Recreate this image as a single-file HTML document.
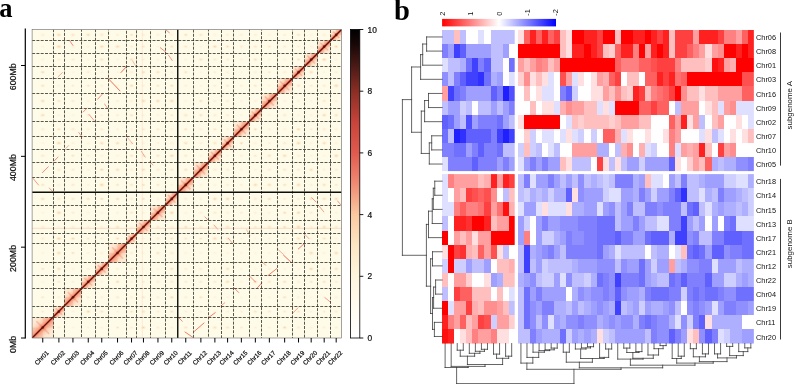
<!DOCTYPE html><html><head><meta charset="utf-8"><title>figure</title><style>html,body{margin:0;padding:0;background:#fff}svg{display:block;will-change:transform;transform:translateZ(0)}text{font-family:"Liberation Sans",sans-serif;fill:#111}.pa text{stroke:#111;stroke-width:0.22px}.ser{font-family:"Liberation Serif",serif;font-weight:bold;fill:#000;stroke:none}</style></head><body>
<svg width="795" height="384" viewBox="0 0 795 384">
<rect width="795" height="384" fill="#fff"/>
<g opacity="0.999">
<g class="pa">
<defs>
<linearGradient id="dg" x1="0" y1="0" x2="1" y2="1"><stop offset="0" stop-color="#f9c9a8" stop-opacity="0"/><stop offset="0.22" stop-color="#f7b090" stop-opacity="0.12"/><stop offset="0.36" stop-color="#f59a7a" stop-opacity="0.4"/><stop offset="0.45" stop-color="#f08062" stop-opacity="0.65"/><stop offset="0.5" stop-color="#e8604a" stop-opacity="0.85"/><stop offset="0.55" stop-color="#f08062" stop-opacity="0.65"/><stop offset="0.64" stop-color="#f59a7a" stop-opacity="0.4"/><stop offset="0.78" stop-color="#f7b090" stop-opacity="0.12"/><stop offset="1" stop-color="#f9c9a8" stop-opacity="0"/></linearGradient>
<radialGradient id="rg"><stop offset="0" stop-color="#e55b43" stop-opacity="0.75"/><stop offset="0.5" stop-color="#f28a6a" stop-opacity="0.4"/><stop offset="1" stop-color="#f9b999" stop-opacity="0"/></radialGradient>
<radialGradient id="dot"><stop offset="0" stop-color="#f7a468" stop-opacity="0.8"/><stop offset="0.45" stop-color="#fbc98a" stop-opacity="0.45"/><stop offset="1" stop-color="#fde0a8" stop-opacity="0"/></radialGradient>
<linearGradient id="cb" x1="0" y1="0" x2="0" y2="1">
<stop offset="0" stop-color="#000000"/>
<stop offset="0.05" stop-color="#1a0808"/>
<stop offset="0.1" stop-color="#3d1512"/>
<stop offset="0.2" stop-color="#8a2e25"/>
<stop offset="0.3" stop-color="#c8433a"/>
<stop offset="0.4" stop-color="#e25a4e"/>
<stop offset="0.5" stop-color="#f08a73"/>
<stop offset="0.6" stop-color="#fbc8a0"/>
<stop offset="0.7" stop-color="#fde6c4"/>
<stop offset="0.8" stop-color="#fef5dd"/>
<stop offset="0.9" stop-color="#fffbef"/>
<stop offset="1" stop-color="#ffffff"/>
</linearGradient>
<linearGradient id="lg" x1="0" y1="0" x2="1" y2="0"><stop offset="0" stop-color="#ff0000"/><stop offset="0.5" stop-color="#ffffff"/><stop offset="1" stop-color="#0000ff"/></linearGradient>
<clipPath id="ca"><rect x="32.1" y="29.5" width="309.5" height="308.5"/></clipPath>
</defs>
<rect x="32.1" y="29.5" width="309.5" height="308.5" fill="#fffbe9"/>
<g clip-path="url(#ca)">
<ellipse cx="42.75" cy="311.60" rx="2.86" ry="2.04" fill="url(#dot)" opacity="0.32"/>
<ellipse cx="42.75" cy="297.25" rx="2.97" ry="2.12" fill="url(#dot)" opacity="0.36"/>
<ellipse cx="42.75" cy="281.82" rx="3.19" ry="2.28" fill="url(#dot)" opacity="0.16"/>
<ellipse cx="42.75" cy="268.88" rx="2.67" ry="1.91" fill="url(#dot)" opacity="0.55"/>
<ellipse cx="42.75" cy="253.00" rx="2.88" ry="2.06" fill="url(#dot)" opacity="0.19"/>
<ellipse cx="42.75" cy="238.62" rx="3.50" ry="2.50" fill="url(#dot)" opacity="0.28"/>
<ellipse cx="42.75" cy="226.93" rx="3.36" ry="2.40" fill="url(#dot)" opacity="0.28"/>
<ellipse cx="42.75" cy="212.75" rx="3.20" ry="2.28" fill="url(#dot)" opacity="0.17"/>
<ellipse cx="42.75" cy="198.90" rx="3.19" ry="2.28" fill="url(#dot)" opacity="0.57"/>
<ellipse cx="42.75" cy="184.90" rx="3.10" ry="2.21" fill="url(#dot)" opacity="0.46"/>
<ellipse cx="42.75" cy="169.75" rx="3.22" ry="2.30" fill="url(#dot)" opacity="0.16"/>
<ellipse cx="42.75" cy="155.75" rx="3.30" ry="2.35" fill="url(#dot)" opacity="0.35"/>
<ellipse cx="42.75" cy="143.15" rx="2.91" ry="2.08" fill="url(#dot)" opacity="0.16"/>
<ellipse cx="42.75" cy="129.25" rx="3.39" ry="2.42" fill="url(#dot)" opacity="0.28"/>
<ellipse cx="42.75" cy="115.17" rx="3.26" ry="2.33" fill="url(#dot)" opacity="0.58"/>
<ellipse cx="42.75" cy="101.00" rx="3.26" ry="2.33" fill="url(#dot)" opacity="0.63"/>
<ellipse cx="42.75" cy="85.75" rx="2.99" ry="2.14" fill="url(#dot)" opacity="0.51"/>
<ellipse cx="42.75" cy="72.17" rx="3.03" ry="2.17" fill="url(#dot)" opacity="0.64"/>
<ellipse cx="42.75" cy="59.55" rx="3.40" ry="2.43" fill="url(#dot)" opacity="0.17"/>
<ellipse cx="42.75" cy="46.62" rx="2.77" ry="1.98" fill="url(#dot)" opacity="0.19"/>
<ellipse cx="42.75" cy="34.88" rx="3.47" ry="2.48" fill="url(#dot)" opacity="0.26"/>
<ellipse cx="58.90" cy="327.55" rx="3.19" ry="2.28" fill="url(#dot)" opacity="0.21"/>
<ellipse cx="58.90" cy="297.25" rx="3.09" ry="2.20" fill="url(#dot)" opacity="0.24"/>
<ellipse cx="58.90" cy="281.82" rx="2.95" ry="2.11" fill="url(#dot)" opacity="0.35"/>
<ellipse cx="58.90" cy="268.88" rx="3.15" ry="2.25" fill="url(#dot)" opacity="0.61"/>
<ellipse cx="58.90" cy="253.00" rx="3.23" ry="2.31" fill="url(#dot)" opacity="0.63"/>
<ellipse cx="58.90" cy="238.62" rx="3.38" ry="2.41" fill="url(#dot)" opacity="0.70"/>
<ellipse cx="58.90" cy="226.93" rx="3.22" ry="2.30" fill="url(#dot)" opacity="0.17"/>
<ellipse cx="58.90" cy="212.75" rx="3.38" ry="2.42" fill="url(#dot)" opacity="0.67"/>
<ellipse cx="58.90" cy="198.90" rx="3.42" ry="2.44" fill="url(#dot)" opacity="0.34"/>
<ellipse cx="58.90" cy="184.90" rx="3.26" ry="2.33" fill="url(#dot)" opacity="0.18"/>
<ellipse cx="58.90" cy="169.75" rx="3.36" ry="2.40" fill="url(#dot)" opacity="0.34"/>
<ellipse cx="58.90" cy="155.75" rx="2.90" ry="2.07" fill="url(#dot)" opacity="0.16"/>
<ellipse cx="58.90" cy="143.15" rx="3.38" ry="2.41" fill="url(#dot)" opacity="0.70"/>
<ellipse cx="58.90" cy="129.25" rx="2.73" ry="1.95" fill="url(#dot)" opacity="0.51"/>
<ellipse cx="58.90" cy="115.17" rx="3.00" ry="2.15" fill="url(#dot)" opacity="0.17"/>
<ellipse cx="58.90" cy="101.00" rx="2.91" ry="2.08" fill="url(#dot)" opacity="0.49"/>
<ellipse cx="58.90" cy="85.75" rx="3.39" ry="2.42" fill="url(#dot)" opacity="0.16"/>
<ellipse cx="58.90" cy="72.17" rx="3.18" ry="2.27" fill="url(#dot)" opacity="0.16"/>
<ellipse cx="58.90" cy="59.55" rx="3.26" ry="2.33" fill="url(#dot)" opacity="0.22"/>
<ellipse cx="58.90" cy="46.62" rx="3.40" ry="2.43" fill="url(#dot)" opacity="0.69"/>
<ellipse cx="58.90" cy="34.88" rx="3.08" ry="2.20" fill="url(#dot)" opacity="0.71"/>
<ellipse cx="72.95" cy="327.55" rx="2.92" ry="2.09" fill="url(#dot)" opacity="0.16"/>
<ellipse cx="72.95" cy="311.60" rx="3.16" ry="2.26" fill="url(#dot)" opacity="0.16"/>
<ellipse cx="72.95" cy="281.82" rx="2.83" ry="2.02" fill="url(#dot)" opacity="0.25"/>
<ellipse cx="72.95" cy="268.88" rx="3.17" ry="2.27" fill="url(#dot)" opacity="0.17"/>
<ellipse cx="72.95" cy="253.00" rx="2.70" ry="1.93" fill="url(#dot)" opacity="0.57"/>
<ellipse cx="72.95" cy="238.62" rx="2.92" ry="2.09" fill="url(#dot)" opacity="0.67"/>
<ellipse cx="72.95" cy="226.93" rx="3.41" ry="2.44" fill="url(#dot)" opacity="0.24"/>
<ellipse cx="72.95" cy="212.75" rx="3.05" ry="2.18" fill="url(#dot)" opacity="0.31"/>
<ellipse cx="72.95" cy="198.90" rx="3.20" ry="2.29" fill="url(#dot)" opacity="0.36"/>
<ellipse cx="72.95" cy="184.90" rx="3.13" ry="2.24" fill="url(#dot)" opacity="0.37"/>
<ellipse cx="72.95" cy="169.75" rx="3.45" ry="2.46" fill="url(#dot)" opacity="0.30"/>
<ellipse cx="72.95" cy="155.75" rx="3.02" ry="2.16" fill="url(#dot)" opacity="0.45"/>
<ellipse cx="72.95" cy="143.15" rx="2.86" ry="2.04" fill="url(#dot)" opacity="0.21"/>
<ellipse cx="72.95" cy="129.25" rx="3.48" ry="2.49" fill="url(#dot)" opacity="0.31"/>
<ellipse cx="72.95" cy="115.17" rx="3.12" ry="2.23" fill="url(#dot)" opacity="0.16"/>
<ellipse cx="72.95" cy="101.00" rx="3.01" ry="2.15" fill="url(#dot)" opacity="0.34"/>
<ellipse cx="72.95" cy="85.75" rx="2.68" ry="1.91" fill="url(#dot)" opacity="0.37"/>
<ellipse cx="72.95" cy="72.17" rx="3.19" ry="2.28" fill="url(#dot)" opacity="0.16"/>
<ellipse cx="72.95" cy="59.55" rx="3.19" ry="2.28" fill="url(#dot)" opacity="0.28"/>
<ellipse cx="72.95" cy="46.62" rx="3.23" ry="2.31" fill="url(#dot)" opacity="0.23"/>
<ellipse cx="72.95" cy="34.88" rx="3.25" ry="2.32" fill="url(#dot)" opacity="0.46"/>
<ellipse cx="88.25" cy="327.55" rx="2.68" ry="1.91" fill="url(#dot)" opacity="0.16"/>
<ellipse cx="88.25" cy="311.60" rx="3.23" ry="2.31" fill="url(#dot)" opacity="0.67"/>
<ellipse cx="88.25" cy="297.25" rx="2.87" ry="2.05" fill="url(#dot)" opacity="0.27"/>
<ellipse cx="88.25" cy="268.88" rx="3.16" ry="2.26" fill="url(#dot)" opacity="0.22"/>
<ellipse cx="88.25" cy="253.00" rx="2.97" ry="2.12" fill="url(#dot)" opacity="0.21"/>
<ellipse cx="88.25" cy="238.62" rx="2.97" ry="2.12" fill="url(#dot)" opacity="0.36"/>
<ellipse cx="88.25" cy="226.93" rx="2.91" ry="2.08" fill="url(#dot)" opacity="0.24"/>
<ellipse cx="88.25" cy="212.75" rx="3.31" ry="2.36" fill="url(#dot)" opacity="0.16"/>
<ellipse cx="88.25" cy="198.90" rx="3.14" ry="2.24" fill="url(#dot)" opacity="0.46"/>
<ellipse cx="88.25" cy="184.90" rx="2.92" ry="2.09" fill="url(#dot)" opacity="0.19"/>
<ellipse cx="88.25" cy="169.75" rx="3.34" ry="2.38" fill="url(#dot)" opacity="0.19"/>
<ellipse cx="88.25" cy="155.75" rx="2.82" ry="2.01" fill="url(#dot)" opacity="0.26"/>
<ellipse cx="88.25" cy="143.15" rx="3.25" ry="2.32" fill="url(#dot)" opacity="0.17"/>
<ellipse cx="88.25" cy="129.25" rx="2.93" ry="2.09" fill="url(#dot)" opacity="0.22"/>
<ellipse cx="88.25" cy="115.17" rx="3.36" ry="2.40" fill="url(#dot)" opacity="0.27"/>
<ellipse cx="88.25" cy="101.00" rx="3.38" ry="2.41" fill="url(#dot)" opacity="0.18"/>
<ellipse cx="88.25" cy="85.75" rx="2.94" ry="2.10" fill="url(#dot)" opacity="0.39"/>
<ellipse cx="88.25" cy="72.17" rx="3.40" ry="2.43" fill="url(#dot)" opacity="0.27"/>
<ellipse cx="88.25" cy="59.55" rx="2.85" ry="2.04" fill="url(#dot)" opacity="0.17"/>
<ellipse cx="88.25" cy="46.62" rx="3.10" ry="2.22" fill="url(#dot)" opacity="0.18"/>
<ellipse cx="88.25" cy="34.88" rx="3.34" ry="2.38" fill="url(#dot)" opacity="0.55"/>
<ellipse cx="101.75" cy="327.55" rx="2.81" ry="2.01" fill="url(#dot)" opacity="0.20"/>
<ellipse cx="101.75" cy="311.60" rx="3.34" ry="2.38" fill="url(#dot)" opacity="0.39"/>
<ellipse cx="101.75" cy="297.25" rx="3.34" ry="2.38" fill="url(#dot)" opacity="0.23"/>
<ellipse cx="101.75" cy="281.82" rx="2.77" ry="1.98" fill="url(#dot)" opacity="0.21"/>
<ellipse cx="101.75" cy="253.00" rx="3.33" ry="2.38" fill="url(#dot)" opacity="0.20"/>
<ellipse cx="101.75" cy="238.62" rx="2.95" ry="2.11" fill="url(#dot)" opacity="0.26"/>
<ellipse cx="101.75" cy="226.93" rx="3.01" ry="2.15" fill="url(#dot)" opacity="0.25"/>
<ellipse cx="101.75" cy="212.75" rx="3.43" ry="2.45" fill="url(#dot)" opacity="0.17"/>
<ellipse cx="101.75" cy="198.90" rx="2.66" ry="1.90" fill="url(#dot)" opacity="0.65"/>
<ellipse cx="101.75" cy="184.90" rx="3.40" ry="2.43" fill="url(#dot)" opacity="0.70"/>
<ellipse cx="101.75" cy="169.75" rx="3.02" ry="2.16" fill="url(#dot)" opacity="0.66"/>
<ellipse cx="101.75" cy="155.75" rx="3.44" ry="2.46" fill="url(#dot)" opacity="0.19"/>
<ellipse cx="101.75" cy="143.15" rx="3.29" ry="2.35" fill="url(#dot)" opacity="0.55"/>
<ellipse cx="101.75" cy="129.25" rx="3.22" ry="2.30" fill="url(#dot)" opacity="0.31"/>
<ellipse cx="101.75" cy="115.17" rx="2.90" ry="2.07" fill="url(#dot)" opacity="0.22"/>
<ellipse cx="101.75" cy="101.00" rx="2.85" ry="2.04" fill="url(#dot)" opacity="0.16"/>
<ellipse cx="101.75" cy="85.75" rx="3.15" ry="2.25" fill="url(#dot)" opacity="0.21"/>
<ellipse cx="101.75" cy="72.17" rx="3.34" ry="2.39" fill="url(#dot)" opacity="0.16"/>
<ellipse cx="101.75" cy="59.55" rx="3.42" ry="2.44" fill="url(#dot)" opacity="0.42"/>
<ellipse cx="101.75" cy="46.62" rx="3.44" ry="2.45" fill="url(#dot)" opacity="0.60"/>
<ellipse cx="101.75" cy="34.88" rx="3.42" ry="2.44" fill="url(#dot)" opacity="0.34"/>
<ellipse cx="117.55" cy="327.55" rx="2.67" ry="1.91" fill="url(#dot)" opacity="0.47"/>
<ellipse cx="117.55" cy="311.60" rx="2.80" ry="2.00" fill="url(#dot)" opacity="0.21"/>
<ellipse cx="117.55" cy="297.25" rx="3.22" ry="2.30" fill="url(#dot)" opacity="0.31"/>
<ellipse cx="117.55" cy="281.82" rx="3.01" ry="2.15" fill="url(#dot)" opacity="0.64"/>
<ellipse cx="117.55" cy="268.88" rx="3.17" ry="2.27" fill="url(#dot)" opacity="0.22"/>
<ellipse cx="117.55" cy="238.62" rx="2.87" ry="2.05" fill="url(#dot)" opacity="0.57"/>
<ellipse cx="117.55" cy="226.93" rx="3.06" ry="2.19" fill="url(#dot)" opacity="0.50"/>
<ellipse cx="117.55" cy="212.75" rx="2.96" ry="2.11" fill="url(#dot)" opacity="0.18"/>
<ellipse cx="117.55" cy="198.90" rx="3.11" ry="2.22" fill="url(#dot)" opacity="0.53"/>
<ellipse cx="117.55" cy="184.90" rx="2.80" ry="2.00" fill="url(#dot)" opacity="0.50"/>
<ellipse cx="117.55" cy="169.75" rx="3.43" ry="2.45" fill="url(#dot)" opacity="0.52"/>
<ellipse cx="117.55" cy="155.75" rx="3.35" ry="2.39" fill="url(#dot)" opacity="0.16"/>
<ellipse cx="117.55" cy="143.15" rx="3.19" ry="2.28" fill="url(#dot)" opacity="0.57"/>
<ellipse cx="117.55" cy="129.25" rx="2.70" ry="1.93" fill="url(#dot)" opacity="0.20"/>
<ellipse cx="117.55" cy="115.17" rx="2.89" ry="2.06" fill="url(#dot)" opacity="0.31"/>
<ellipse cx="117.55" cy="101.00" rx="3.02" ry="2.15" fill="url(#dot)" opacity="0.28"/>
<ellipse cx="117.55" cy="85.75" rx="3.31" ry="2.37" fill="url(#dot)" opacity="0.16"/>
<ellipse cx="117.55" cy="72.17" rx="2.71" ry="1.93" fill="url(#dot)" opacity="0.17"/>
<ellipse cx="117.55" cy="59.55" rx="2.76" ry="1.97" fill="url(#dot)" opacity="0.16"/>
<ellipse cx="117.55" cy="46.62" rx="3.48" ry="2.48" fill="url(#dot)" opacity="0.56"/>
<ellipse cx="117.55" cy="34.88" rx="2.73" ry="1.95" fill="url(#dot)" opacity="0.30"/>
<ellipse cx="131.55" cy="327.55" rx="2.93" ry="2.09" fill="url(#dot)" opacity="0.21"/>
<ellipse cx="131.55" cy="311.60" rx="2.96" ry="2.11" fill="url(#dot)" opacity="0.39"/>
<ellipse cx="131.55" cy="297.25" rx="3.15" ry="2.25" fill="url(#dot)" opacity="0.23"/>
<ellipse cx="131.55" cy="281.82" rx="2.82" ry="2.01" fill="url(#dot)" opacity="0.22"/>
<ellipse cx="131.55" cy="268.88" rx="2.76" ry="1.97" fill="url(#dot)" opacity="0.33"/>
<ellipse cx="131.55" cy="253.00" rx="3.26" ry="2.33" fill="url(#dot)" opacity="0.24"/>
<ellipse cx="131.55" cy="226.93" rx="2.73" ry="1.95" fill="url(#dot)" opacity="0.18"/>
<ellipse cx="131.55" cy="212.75" rx="2.97" ry="2.12" fill="url(#dot)" opacity="0.36"/>
<ellipse cx="131.55" cy="198.90" rx="3.32" ry="2.37" fill="url(#dot)" opacity="0.24"/>
<ellipse cx="131.55" cy="184.90" rx="3.33" ry="2.38" fill="url(#dot)" opacity="0.37"/>
<ellipse cx="131.55" cy="169.75" rx="3.02" ry="2.16" fill="url(#dot)" opacity="0.24"/>
<ellipse cx="131.55" cy="155.75" rx="3.08" ry="2.20" fill="url(#dot)" opacity="0.43"/>
<ellipse cx="131.55" cy="143.15" rx="3.01" ry="2.15" fill="url(#dot)" opacity="0.42"/>
<ellipse cx="131.55" cy="129.25" rx="3.05" ry="2.18" fill="url(#dot)" opacity="0.19"/>
<ellipse cx="131.55" cy="115.17" rx="3.11" ry="2.22" fill="url(#dot)" opacity="0.43"/>
<ellipse cx="131.55" cy="101.00" rx="2.72" ry="1.94" fill="url(#dot)" opacity="0.26"/>
<ellipse cx="131.55" cy="85.75" rx="3.02" ry="2.16" fill="url(#dot)" opacity="0.59"/>
<ellipse cx="131.55" cy="72.17" rx="3.45" ry="2.46" fill="url(#dot)" opacity="0.24"/>
<ellipse cx="131.55" cy="59.55" rx="3.41" ry="2.44" fill="url(#dot)" opacity="0.50"/>
<ellipse cx="131.55" cy="46.62" rx="2.88" ry="2.06" fill="url(#dot)" opacity="0.28"/>
<ellipse cx="131.55" cy="34.88" rx="2.76" ry="1.97" fill="url(#dot)" opacity="0.52"/>
<ellipse cx="143.45" cy="327.55" rx="3.22" ry="2.30" fill="url(#dot)" opacity="0.59"/>
<ellipse cx="143.45" cy="311.60" rx="3.33" ry="2.38" fill="url(#dot)" opacity="0.41"/>
<ellipse cx="143.45" cy="297.25" rx="3.28" ry="2.34" fill="url(#dot)" opacity="0.33"/>
<ellipse cx="143.45" cy="281.82" rx="2.75" ry="1.96" fill="url(#dot)" opacity="0.35"/>
<ellipse cx="143.45" cy="268.88" rx="2.66" ry="1.90" fill="url(#dot)" opacity="0.17"/>
<ellipse cx="143.45" cy="253.00" rx="3.31" ry="2.36" fill="url(#dot)" opacity="0.16"/>
<ellipse cx="143.45" cy="238.62" rx="2.74" ry="1.96" fill="url(#dot)" opacity="0.17"/>
<ellipse cx="143.45" cy="212.75" rx="3.40" ry="2.43" fill="url(#dot)" opacity="0.18"/>
<ellipse cx="143.45" cy="198.90" rx="2.68" ry="1.91" fill="url(#dot)" opacity="0.55"/>
<ellipse cx="143.45" cy="184.90" rx="2.76" ry="1.97" fill="url(#dot)" opacity="0.55"/>
<ellipse cx="143.45" cy="169.75" rx="3.23" ry="2.30" fill="url(#dot)" opacity="0.54"/>
<ellipse cx="143.45" cy="155.75" rx="3.46" ry="2.47" fill="url(#dot)" opacity="0.34"/>
<ellipse cx="143.45" cy="143.15" rx="3.33" ry="2.38" fill="url(#dot)" opacity="0.16"/>
<ellipse cx="143.45" cy="129.25" rx="3.30" ry="2.36" fill="url(#dot)" opacity="0.30"/>
<ellipse cx="143.45" cy="115.17" rx="3.26" ry="2.33" fill="url(#dot)" opacity="0.17"/>
<ellipse cx="143.45" cy="101.00" rx="3.29" ry="2.35" fill="url(#dot)" opacity="0.64"/>
<ellipse cx="143.45" cy="85.75" rx="2.71" ry="1.94" fill="url(#dot)" opacity="0.22"/>
<ellipse cx="143.45" cy="72.17" rx="3.13" ry="2.24" fill="url(#dot)" opacity="0.54"/>
<ellipse cx="143.45" cy="59.55" rx="2.86" ry="2.05" fill="url(#dot)" opacity="0.18"/>
<ellipse cx="143.45" cy="46.62" rx="2.87" ry="2.05" fill="url(#dot)" opacity="0.37"/>
<ellipse cx="143.45" cy="34.88" rx="3.29" ry="2.35" fill="url(#dot)" opacity="0.25"/>
<ellipse cx="157.95" cy="327.55" rx="2.97" ry="2.12" fill="url(#dot)" opacity="0.25"/>
<ellipse cx="157.95" cy="311.60" rx="2.95" ry="2.11" fill="url(#dot)" opacity="0.26"/>
<ellipse cx="157.95" cy="297.25" rx="2.73" ry="1.95" fill="url(#dot)" opacity="0.30"/>
<ellipse cx="157.95" cy="281.82" rx="3.48" ry="2.48" fill="url(#dot)" opacity="0.25"/>
<ellipse cx="157.95" cy="268.88" rx="3.29" ry="2.35" fill="url(#dot)" opacity="0.17"/>
<ellipse cx="157.95" cy="253.00" rx="3.24" ry="2.31" fill="url(#dot)" opacity="0.47"/>
<ellipse cx="157.95" cy="238.62" rx="3.23" ry="2.30" fill="url(#dot)" opacity="0.31"/>
<ellipse cx="157.95" cy="226.93" rx="3.07" ry="2.19" fill="url(#dot)" opacity="0.39"/>
<ellipse cx="157.95" cy="198.90" rx="3.41" ry="2.44" fill="url(#dot)" opacity="0.17"/>
<ellipse cx="157.95" cy="184.90" rx="2.74" ry="1.96" fill="url(#dot)" opacity="0.47"/>
<ellipse cx="157.95" cy="169.75" rx="3.43" ry="2.45" fill="url(#dot)" opacity="0.31"/>
<ellipse cx="157.95" cy="155.75" rx="3.03" ry="2.17" fill="url(#dot)" opacity="0.44"/>
<ellipse cx="157.95" cy="143.15" rx="2.82" ry="2.01" fill="url(#dot)" opacity="0.20"/>
<ellipse cx="157.95" cy="129.25" rx="2.83" ry="2.02" fill="url(#dot)" opacity="0.35"/>
<ellipse cx="157.95" cy="115.17" rx="2.92" ry="2.09" fill="url(#dot)" opacity="0.19"/>
<ellipse cx="157.95" cy="101.00" rx="3.24" ry="2.31" fill="url(#dot)" opacity="0.66"/>
<ellipse cx="157.95" cy="85.75" rx="2.91" ry="2.08" fill="url(#dot)" opacity="0.43"/>
<ellipse cx="157.95" cy="72.17" rx="3.01" ry="2.15" fill="url(#dot)" opacity="0.56"/>
<ellipse cx="157.95" cy="59.55" rx="3.15" ry="2.25" fill="url(#dot)" opacity="0.20"/>
<ellipse cx="157.95" cy="46.62" rx="2.84" ry="2.03" fill="url(#dot)" opacity="0.16"/>
<ellipse cx="157.95" cy="34.88" rx="3.06" ry="2.19" fill="url(#dot)" opacity="0.24"/>
<ellipse cx="171.75" cy="327.55" rx="2.80" ry="2.00" fill="url(#dot)" opacity="0.23"/>
<ellipse cx="171.75" cy="311.60" rx="2.93" ry="2.09" fill="url(#dot)" opacity="0.49"/>
<ellipse cx="171.75" cy="297.25" rx="2.78" ry="1.99" fill="url(#dot)" opacity="0.70"/>
<ellipse cx="171.75" cy="281.82" rx="3.06" ry="2.19" fill="url(#dot)" opacity="0.36"/>
<ellipse cx="171.75" cy="268.88" rx="3.05" ry="2.18" fill="url(#dot)" opacity="0.54"/>
<ellipse cx="171.75" cy="253.00" rx="3.35" ry="2.39" fill="url(#dot)" opacity="0.33"/>
<ellipse cx="171.75" cy="238.62" rx="3.06" ry="2.19" fill="url(#dot)" opacity="0.45"/>
<ellipse cx="171.75" cy="226.93" rx="3.38" ry="2.41" fill="url(#dot)" opacity="0.25"/>
<ellipse cx="171.75" cy="212.75" rx="3.28" ry="2.34" fill="url(#dot)" opacity="0.67"/>
<ellipse cx="171.75" cy="184.90" rx="3.05" ry="2.18" fill="url(#dot)" opacity="0.19"/>
<ellipse cx="171.75" cy="169.75" rx="2.86" ry="2.04" fill="url(#dot)" opacity="0.44"/>
<ellipse cx="171.75" cy="155.75" rx="3.23" ry="2.31" fill="url(#dot)" opacity="0.67"/>
<ellipse cx="171.75" cy="143.15" rx="3.38" ry="2.41" fill="url(#dot)" opacity="0.19"/>
<ellipse cx="171.75" cy="129.25" rx="2.82" ry="2.01" fill="url(#dot)" opacity="0.20"/>
<ellipse cx="171.75" cy="115.17" rx="2.82" ry="2.01" fill="url(#dot)" opacity="0.43"/>
<ellipse cx="171.75" cy="101.00" rx="3.38" ry="2.42" fill="url(#dot)" opacity="0.61"/>
<ellipse cx="171.75" cy="85.75" rx="2.87" ry="2.05" fill="url(#dot)" opacity="0.57"/>
<ellipse cx="171.75" cy="72.17" rx="2.92" ry="2.09" fill="url(#dot)" opacity="0.26"/>
<ellipse cx="171.75" cy="59.55" rx="3.27" ry="2.34" fill="url(#dot)" opacity="0.16"/>
<ellipse cx="171.75" cy="46.62" rx="2.74" ry="1.96" fill="url(#dot)" opacity="0.54"/>
<ellipse cx="171.75" cy="34.88" rx="2.91" ry="2.08" fill="url(#dot)" opacity="0.23"/>
<ellipse cx="185.75" cy="327.55" rx="3.15" ry="2.25" fill="url(#dot)" opacity="0.41"/>
<ellipse cx="185.75" cy="311.60" rx="2.67" ry="1.90" fill="url(#dot)" opacity="0.22"/>
<ellipse cx="185.75" cy="297.25" rx="3.03" ry="2.16" fill="url(#dot)" opacity="0.29"/>
<ellipse cx="185.75" cy="281.82" rx="2.84" ry="2.03" fill="url(#dot)" opacity="0.35"/>
<ellipse cx="185.75" cy="268.88" rx="3.46" ry="2.47" fill="url(#dot)" opacity="0.24"/>
<ellipse cx="185.75" cy="253.00" rx="3.12" ry="2.23" fill="url(#dot)" opacity="0.17"/>
<ellipse cx="185.75" cy="238.62" rx="2.89" ry="2.06" fill="url(#dot)" opacity="0.40"/>
<ellipse cx="185.75" cy="226.93" rx="2.75" ry="1.97" fill="url(#dot)" opacity="0.59"/>
<ellipse cx="185.75" cy="212.75" rx="3.42" ry="2.45" fill="url(#dot)" opacity="0.17"/>
<ellipse cx="185.75" cy="198.90" rx="3.45" ry="2.46" fill="url(#dot)" opacity="0.24"/>
<ellipse cx="185.75" cy="169.75" rx="3.31" ry="2.36" fill="url(#dot)" opacity="0.48"/>
<ellipse cx="185.75" cy="155.75" rx="2.91" ry="2.08" fill="url(#dot)" opacity="0.41"/>
<ellipse cx="185.75" cy="143.15" rx="3.21" ry="2.29" fill="url(#dot)" opacity="0.52"/>
<ellipse cx="185.75" cy="129.25" rx="2.88" ry="2.06" fill="url(#dot)" opacity="0.47"/>
<ellipse cx="185.75" cy="115.17" rx="3.47" ry="2.48" fill="url(#dot)" opacity="0.41"/>
<ellipse cx="185.75" cy="101.00" rx="3.11" ry="2.22" fill="url(#dot)" opacity="0.17"/>
<ellipse cx="185.75" cy="85.75" rx="3.07" ry="2.20" fill="url(#dot)" opacity="0.23"/>
<ellipse cx="185.75" cy="72.17" rx="3.26" ry="2.33" fill="url(#dot)" opacity="0.41"/>
<ellipse cx="185.75" cy="59.55" rx="3.14" ry="2.24" fill="url(#dot)" opacity="0.18"/>
<ellipse cx="185.75" cy="46.62" rx="3.20" ry="2.29" fill="url(#dot)" opacity="0.38"/>
<ellipse cx="185.75" cy="34.88" rx="2.81" ry="2.01" fill="url(#dot)" opacity="0.60"/>
<ellipse cx="200.88" cy="327.55" rx="3.21" ry="2.29" fill="url(#dot)" opacity="0.17"/>
<ellipse cx="200.88" cy="311.60" rx="3.44" ry="2.46" fill="url(#dot)" opacity="0.17"/>
<ellipse cx="200.88" cy="297.25" rx="2.94" ry="2.10" fill="url(#dot)" opacity="0.45"/>
<ellipse cx="200.88" cy="281.82" rx="3.16" ry="2.26" fill="url(#dot)" opacity="0.33"/>
<ellipse cx="200.88" cy="268.88" rx="3.20" ry="2.29" fill="url(#dot)" opacity="0.28"/>
<ellipse cx="200.88" cy="253.00" rx="2.92" ry="2.09" fill="url(#dot)" opacity="0.18"/>
<ellipse cx="200.88" cy="238.62" rx="2.72" ry="1.94" fill="url(#dot)" opacity="0.44"/>
<ellipse cx="200.88" cy="226.93" rx="3.29" ry="2.35" fill="url(#dot)" opacity="0.32"/>
<ellipse cx="200.88" cy="212.75" rx="3.28" ry="2.34" fill="url(#dot)" opacity="0.23"/>
<ellipse cx="200.88" cy="198.90" rx="2.88" ry="2.06" fill="url(#dot)" opacity="0.24"/>
<ellipse cx="200.88" cy="184.90" rx="3.39" ry="2.42" fill="url(#dot)" opacity="0.16"/>
<ellipse cx="200.88" cy="155.75" rx="3.08" ry="2.20" fill="url(#dot)" opacity="0.19"/>
<ellipse cx="200.88" cy="143.15" rx="3.31" ry="2.36" fill="url(#dot)" opacity="0.23"/>
<ellipse cx="200.88" cy="129.25" rx="2.94" ry="2.10" fill="url(#dot)" opacity="0.25"/>
<ellipse cx="200.88" cy="115.17" rx="3.11" ry="2.22" fill="url(#dot)" opacity="0.49"/>
<ellipse cx="200.88" cy="101.00" rx="2.96" ry="2.11" fill="url(#dot)" opacity="0.55"/>
<ellipse cx="200.88" cy="85.75" rx="2.75" ry="1.97" fill="url(#dot)" opacity="0.20"/>
<ellipse cx="200.88" cy="72.17" rx="2.74" ry="1.96" fill="url(#dot)" opacity="0.17"/>
<ellipse cx="200.88" cy="59.55" rx="3.31" ry="2.37" fill="url(#dot)" opacity="0.45"/>
<ellipse cx="200.88" cy="46.62" rx="2.82" ry="2.01" fill="url(#dot)" opacity="0.18"/>
<ellipse cx="200.88" cy="34.88" rx="3.01" ry="2.15" fill="url(#dot)" opacity="0.46"/>
<ellipse cx="214.88" cy="327.55" rx="3.35" ry="2.39" fill="url(#dot)" opacity="0.47"/>
<ellipse cx="214.88" cy="311.60" rx="3.16" ry="2.26" fill="url(#dot)" opacity="0.17"/>
<ellipse cx="214.88" cy="297.25" rx="2.99" ry="2.14" fill="url(#dot)" opacity="0.18"/>
<ellipse cx="214.88" cy="281.82" rx="3.10" ry="2.22" fill="url(#dot)" opacity="0.34"/>
<ellipse cx="214.88" cy="268.88" rx="2.83" ry="2.02" fill="url(#dot)" opacity="0.19"/>
<ellipse cx="214.88" cy="253.00" rx="3.32" ry="2.37" fill="url(#dot)" opacity="0.16"/>
<ellipse cx="214.88" cy="238.62" rx="3.33" ry="2.38" fill="url(#dot)" opacity="0.60"/>
<ellipse cx="214.88" cy="226.93" rx="3.46" ry="2.47" fill="url(#dot)" opacity="0.24"/>
<ellipse cx="214.88" cy="212.75" rx="3.12" ry="2.23" fill="url(#dot)" opacity="0.35"/>
<ellipse cx="214.88" cy="198.90" rx="3.19" ry="2.28" fill="url(#dot)" opacity="0.68"/>
<ellipse cx="214.88" cy="184.90" rx="3.24" ry="2.31" fill="url(#dot)" opacity="0.21"/>
<ellipse cx="214.88" cy="169.75" rx="3.38" ry="2.42" fill="url(#dot)" opacity="0.29"/>
<ellipse cx="214.88" cy="143.15" rx="3.17" ry="2.26" fill="url(#dot)" opacity="0.45"/>
<ellipse cx="214.88" cy="129.25" rx="2.66" ry="1.90" fill="url(#dot)" opacity="0.49"/>
<ellipse cx="214.88" cy="115.17" rx="3.22" ry="2.30" fill="url(#dot)" opacity="0.29"/>
<ellipse cx="214.88" cy="101.00" rx="3.10" ry="2.21" fill="url(#dot)" opacity="0.28"/>
<ellipse cx="214.88" cy="85.75" rx="2.82" ry="2.02" fill="url(#dot)" opacity="0.31"/>
<ellipse cx="214.88" cy="72.17" rx="2.69" ry="1.92" fill="url(#dot)" opacity="0.30"/>
<ellipse cx="214.88" cy="59.55" rx="3.20" ry="2.29" fill="url(#dot)" opacity="0.27"/>
<ellipse cx="214.88" cy="46.62" rx="3.14" ry="2.24" fill="url(#dot)" opacity="0.67"/>
<ellipse cx="214.88" cy="34.88" rx="3.41" ry="2.44" fill="url(#dot)" opacity="0.17"/>
<ellipse cx="227.60" cy="327.55" rx="3.33" ry="2.38" fill="url(#dot)" opacity="0.37"/>
<ellipse cx="227.60" cy="311.60" rx="2.70" ry="1.93" fill="url(#dot)" opacity="0.23"/>
<ellipse cx="227.60" cy="297.25" rx="2.86" ry="2.04" fill="url(#dot)" opacity="0.16"/>
<ellipse cx="227.60" cy="281.82" rx="3.11" ry="2.22" fill="url(#dot)" opacity="0.64"/>
<ellipse cx="227.60" cy="268.88" rx="2.93" ry="2.09" fill="url(#dot)" opacity="0.58"/>
<ellipse cx="227.60" cy="253.00" rx="3.24" ry="2.32" fill="url(#dot)" opacity="0.17"/>
<ellipse cx="227.60" cy="238.62" rx="3.38" ry="2.41" fill="url(#dot)" opacity="0.36"/>
<ellipse cx="227.60" cy="226.93" rx="3.44" ry="2.46" fill="url(#dot)" opacity="0.44"/>
<ellipse cx="227.60" cy="212.75" rx="3.28" ry="2.34" fill="url(#dot)" opacity="0.22"/>
<ellipse cx="227.60" cy="198.90" rx="3.34" ry="2.38" fill="url(#dot)" opacity="0.64"/>
<ellipse cx="227.60" cy="184.90" rx="3.38" ry="2.42" fill="url(#dot)" opacity="0.27"/>
<ellipse cx="227.60" cy="169.75" rx="3.30" ry="2.35" fill="url(#dot)" opacity="0.29"/>
<ellipse cx="227.60" cy="155.75" rx="2.75" ry="1.97" fill="url(#dot)" opacity="0.16"/>
<ellipse cx="227.60" cy="129.25" rx="2.73" ry="1.95" fill="url(#dot)" opacity="0.18"/>
<ellipse cx="227.60" cy="115.17" rx="2.80" ry="2.00" fill="url(#dot)" opacity="0.30"/>
<ellipse cx="227.60" cy="101.00" rx="3.25" ry="2.32" fill="url(#dot)" opacity="0.32"/>
<ellipse cx="227.60" cy="85.75" rx="3.01" ry="2.15" fill="url(#dot)" opacity="0.39"/>
<ellipse cx="227.60" cy="72.17" rx="2.92" ry="2.08" fill="url(#dot)" opacity="0.28"/>
<ellipse cx="227.60" cy="59.55" rx="3.30" ry="2.35" fill="url(#dot)" opacity="0.25"/>
<ellipse cx="227.60" cy="46.62" rx="2.81" ry="2.01" fill="url(#dot)" opacity="0.60"/>
<ellipse cx="227.60" cy="34.88" rx="3.26" ry="2.33" fill="url(#dot)" opacity="0.23"/>
<ellipse cx="241.35" cy="327.55" rx="2.97" ry="2.12" fill="url(#dot)" opacity="0.31"/>
<ellipse cx="241.35" cy="311.60" rx="3.16" ry="2.26" fill="url(#dot)" opacity="0.19"/>
<ellipse cx="241.35" cy="297.25" rx="2.66" ry="1.90" fill="url(#dot)" opacity="0.18"/>
<ellipse cx="241.35" cy="281.82" rx="3.32" ry="2.37" fill="url(#dot)" opacity="0.17"/>
<ellipse cx="241.35" cy="268.88" rx="3.05" ry="2.18" fill="url(#dot)" opacity="0.18"/>
<ellipse cx="241.35" cy="253.00" rx="2.84" ry="2.03" fill="url(#dot)" opacity="0.18"/>
<ellipse cx="241.35" cy="238.62" rx="3.00" ry="2.14" fill="url(#dot)" opacity="0.18"/>
<ellipse cx="241.35" cy="226.93" rx="2.68" ry="1.92" fill="url(#dot)" opacity="0.17"/>
<ellipse cx="241.35" cy="212.75" rx="2.80" ry="2.00" fill="url(#dot)" opacity="0.29"/>
<ellipse cx="241.35" cy="198.90" rx="2.71" ry="1.94" fill="url(#dot)" opacity="0.16"/>
<ellipse cx="241.35" cy="184.90" rx="3.04" ry="2.17" fill="url(#dot)" opacity="0.25"/>
<ellipse cx="241.35" cy="169.75" rx="3.25" ry="2.32" fill="url(#dot)" opacity="0.16"/>
<ellipse cx="241.35" cy="155.75" rx="3.00" ry="2.14" fill="url(#dot)" opacity="0.25"/>
<ellipse cx="241.35" cy="143.15" rx="2.68" ry="1.92" fill="url(#dot)" opacity="0.67"/>
<ellipse cx="241.35" cy="115.17" rx="2.84" ry="2.03" fill="url(#dot)" opacity="0.16"/>
<ellipse cx="241.35" cy="101.00" rx="3.06" ry="2.18" fill="url(#dot)" opacity="0.17"/>
<ellipse cx="241.35" cy="85.75" rx="3.18" ry="2.27" fill="url(#dot)" opacity="0.23"/>
<ellipse cx="241.35" cy="72.17" rx="2.76" ry="1.97" fill="url(#dot)" opacity="0.16"/>
<ellipse cx="241.35" cy="59.55" rx="3.27" ry="2.34" fill="url(#dot)" opacity="0.20"/>
<ellipse cx="241.35" cy="46.62" rx="3.32" ry="2.37" fill="url(#dot)" opacity="0.28"/>
<ellipse cx="241.35" cy="34.88" rx="3.44" ry="2.46" fill="url(#dot)" opacity="0.21"/>
<ellipse cx="255.35" cy="327.55" rx="2.87" ry="2.05" fill="url(#dot)" opacity="0.20"/>
<ellipse cx="255.35" cy="311.60" rx="3.34" ry="2.39" fill="url(#dot)" opacity="0.38"/>
<ellipse cx="255.35" cy="297.25" rx="2.95" ry="2.11" fill="url(#dot)" opacity="0.16"/>
<ellipse cx="255.35" cy="281.82" rx="3.23" ry="2.31" fill="url(#dot)" opacity="0.68"/>
<ellipse cx="255.35" cy="268.88" rx="3.16" ry="2.26" fill="url(#dot)" opacity="0.16"/>
<ellipse cx="255.35" cy="253.00" rx="2.69" ry="1.92" fill="url(#dot)" opacity="0.16"/>
<ellipse cx="255.35" cy="238.62" rx="2.80" ry="2.00" fill="url(#dot)" opacity="0.16"/>
<ellipse cx="255.35" cy="226.93" rx="2.71" ry="1.93" fill="url(#dot)" opacity="0.40"/>
<ellipse cx="255.35" cy="212.75" rx="3.42" ry="2.44" fill="url(#dot)" opacity="0.18"/>
<ellipse cx="255.35" cy="198.90" rx="3.48" ry="2.48" fill="url(#dot)" opacity="0.29"/>
<ellipse cx="255.35" cy="184.90" rx="3.34" ry="2.38" fill="url(#dot)" opacity="0.62"/>
<ellipse cx="255.35" cy="169.75" rx="3.45" ry="2.46" fill="url(#dot)" opacity="0.16"/>
<ellipse cx="255.35" cy="155.75" rx="2.92" ry="2.08" fill="url(#dot)" opacity="0.36"/>
<ellipse cx="255.35" cy="143.15" rx="3.46" ry="2.47" fill="url(#dot)" opacity="0.16"/>
<ellipse cx="255.35" cy="129.25" rx="2.91" ry="2.08" fill="url(#dot)" opacity="0.56"/>
<ellipse cx="255.35" cy="101.00" rx="2.76" ry="1.97" fill="url(#dot)" opacity="0.24"/>
<ellipse cx="255.35" cy="85.75" rx="2.94" ry="2.10" fill="url(#dot)" opacity="0.41"/>
<ellipse cx="255.35" cy="72.17" rx="3.44" ry="2.46" fill="url(#dot)" opacity="0.18"/>
<ellipse cx="255.35" cy="59.55" rx="3.28" ry="2.34" fill="url(#dot)" opacity="0.46"/>
<ellipse cx="255.35" cy="46.62" rx="3.36" ry="2.40" fill="url(#dot)" opacity="0.33"/>
<ellipse cx="255.35" cy="34.88" rx="3.44" ry="2.45" fill="url(#dot)" opacity="0.23"/>
<ellipse cx="269.35" cy="327.55" rx="3.01" ry="2.15" fill="url(#dot)" opacity="0.19"/>
<ellipse cx="269.35" cy="311.60" rx="3.31" ry="2.37" fill="url(#dot)" opacity="0.29"/>
<ellipse cx="269.35" cy="297.25" rx="2.89" ry="2.06" fill="url(#dot)" opacity="0.18"/>
<ellipse cx="269.35" cy="281.82" rx="3.27" ry="2.33" fill="url(#dot)" opacity="0.36"/>
<ellipse cx="269.35" cy="268.88" rx="3.26" ry="2.33" fill="url(#dot)" opacity="0.24"/>
<ellipse cx="269.35" cy="253.00" rx="3.07" ry="2.19" fill="url(#dot)" opacity="0.17"/>
<ellipse cx="269.35" cy="238.62" rx="3.26" ry="2.33" fill="url(#dot)" opacity="0.16"/>
<ellipse cx="269.35" cy="226.93" rx="3.05" ry="2.18" fill="url(#dot)" opacity="0.48"/>
<ellipse cx="269.35" cy="212.75" rx="3.23" ry="2.31" fill="url(#dot)" opacity="0.17"/>
<ellipse cx="269.35" cy="198.90" rx="2.86" ry="2.04" fill="url(#dot)" opacity="0.55"/>
<ellipse cx="269.35" cy="184.90" rx="3.20" ry="2.29" fill="url(#dot)" opacity="0.58"/>
<ellipse cx="269.35" cy="169.75" rx="3.39" ry="2.42" fill="url(#dot)" opacity="0.27"/>
<ellipse cx="269.35" cy="155.75" rx="3.41" ry="2.44" fill="url(#dot)" opacity="0.46"/>
<ellipse cx="269.35" cy="143.15" rx="2.94" ry="2.10" fill="url(#dot)" opacity="0.24"/>
<ellipse cx="269.35" cy="129.25" rx="2.72" ry="1.94" fill="url(#dot)" opacity="0.25"/>
<ellipse cx="269.35" cy="115.17" rx="3.46" ry="2.47" fill="url(#dot)" opacity="0.17"/>
<ellipse cx="269.35" cy="85.75" rx="3.14" ry="2.24" fill="url(#dot)" opacity="0.17"/>
<ellipse cx="269.35" cy="72.17" rx="2.73" ry="1.95" fill="url(#dot)" opacity="0.39"/>
<ellipse cx="269.35" cy="59.55" rx="2.86" ry="2.04" fill="url(#dot)" opacity="0.16"/>
<ellipse cx="269.35" cy="46.62" rx="2.79" ry="1.99" fill="url(#dot)" opacity="0.39"/>
<ellipse cx="269.35" cy="34.88" rx="3.15" ry="2.25" fill="url(#dot)" opacity="0.16"/>
<ellipse cx="284.65" cy="327.55" rx="2.85" ry="2.04" fill="url(#dot)" opacity="0.67"/>
<ellipse cx="284.65" cy="311.60" rx="2.84" ry="2.03" fill="url(#dot)" opacity="0.33"/>
<ellipse cx="284.65" cy="297.25" rx="3.01" ry="2.15" fill="url(#dot)" opacity="0.50"/>
<ellipse cx="284.65" cy="281.82" rx="3.17" ry="2.26" fill="url(#dot)" opacity="0.50"/>
<ellipse cx="284.65" cy="268.88" rx="3.11" ry="2.22" fill="url(#dot)" opacity="0.18"/>
<ellipse cx="284.65" cy="253.00" rx="2.81" ry="2.01" fill="url(#dot)" opacity="0.16"/>
<ellipse cx="284.65" cy="238.62" rx="3.35" ry="2.40" fill="url(#dot)" opacity="0.17"/>
<ellipse cx="284.65" cy="226.93" rx="2.68" ry="1.91" fill="url(#dot)" opacity="0.67"/>
<ellipse cx="284.65" cy="212.75" rx="2.83" ry="2.02" fill="url(#dot)" opacity="0.60"/>
<ellipse cx="284.65" cy="198.90" rx="2.73" ry="1.95" fill="url(#dot)" opacity="0.28"/>
<ellipse cx="284.65" cy="184.90" rx="2.85" ry="2.03" fill="url(#dot)" opacity="0.54"/>
<ellipse cx="284.65" cy="169.75" rx="3.18" ry="2.27" fill="url(#dot)" opacity="0.39"/>
<ellipse cx="284.65" cy="155.75" rx="3.30" ry="2.36" fill="url(#dot)" opacity="0.58"/>
<ellipse cx="284.65" cy="143.15" rx="2.95" ry="2.11" fill="url(#dot)" opacity="0.36"/>
<ellipse cx="284.65" cy="129.25" rx="3.03" ry="2.17" fill="url(#dot)" opacity="0.17"/>
<ellipse cx="284.65" cy="115.17" rx="3.36" ry="2.40" fill="url(#dot)" opacity="0.35"/>
<ellipse cx="284.65" cy="101.00" rx="3.34" ry="2.39" fill="url(#dot)" opacity="0.18"/>
<ellipse cx="284.65" cy="72.17" rx="3.11" ry="2.22" fill="url(#dot)" opacity="0.28"/>
<ellipse cx="284.65" cy="59.55" rx="3.27" ry="2.34" fill="url(#dot)" opacity="0.16"/>
<ellipse cx="284.65" cy="46.62" rx="2.95" ry="2.11" fill="url(#dot)" opacity="0.29"/>
<ellipse cx="284.65" cy="34.88" rx="2.72" ry="1.94" fill="url(#dot)" opacity="0.33"/>
<ellipse cx="298.52" cy="327.55" rx="3.28" ry="2.34" fill="url(#dot)" opacity="0.26"/>
<ellipse cx="298.52" cy="311.60" rx="3.20" ry="2.29" fill="url(#dot)" opacity="0.36"/>
<ellipse cx="298.52" cy="297.25" rx="2.84" ry="2.03" fill="url(#dot)" opacity="0.23"/>
<ellipse cx="298.52" cy="281.82" rx="3.50" ry="2.50" fill="url(#dot)" opacity="0.22"/>
<ellipse cx="298.52" cy="268.88" rx="3.02" ry="2.16" fill="url(#dot)" opacity="0.16"/>
<ellipse cx="298.52" cy="253.00" rx="2.84" ry="2.03" fill="url(#dot)" opacity="0.18"/>
<ellipse cx="298.52" cy="238.62" rx="3.44" ry="2.46" fill="url(#dot)" opacity="0.45"/>
<ellipse cx="298.52" cy="226.93" rx="3.39" ry="2.42" fill="url(#dot)" opacity="0.70"/>
<ellipse cx="298.52" cy="212.75" rx="3.17" ry="2.27" fill="url(#dot)" opacity="0.64"/>
<ellipse cx="298.52" cy="198.90" rx="3.11" ry="2.22" fill="url(#dot)" opacity="0.26"/>
<ellipse cx="298.52" cy="184.90" rx="3.46" ry="2.47" fill="url(#dot)" opacity="0.61"/>
<ellipse cx="298.52" cy="169.75" rx="3.46" ry="2.47" fill="url(#dot)" opacity="0.29"/>
<ellipse cx="298.52" cy="155.75" rx="3.31" ry="2.36" fill="url(#dot)" opacity="0.25"/>
<ellipse cx="298.52" cy="143.15" rx="3.50" ry="2.50" fill="url(#dot)" opacity="0.63"/>
<ellipse cx="298.52" cy="129.25" rx="2.91" ry="2.08" fill="url(#dot)" opacity="0.64"/>
<ellipse cx="298.52" cy="115.17" rx="2.82" ry="2.01" fill="url(#dot)" opacity="0.17"/>
<ellipse cx="298.52" cy="101.00" rx="3.27" ry="2.33" fill="url(#dot)" opacity="0.21"/>
<ellipse cx="298.52" cy="85.75" rx="3.10" ry="2.21" fill="url(#dot)" opacity="0.38"/>
<ellipse cx="298.52" cy="59.55" rx="2.69" ry="1.92" fill="url(#dot)" opacity="0.47"/>
<ellipse cx="298.52" cy="46.62" rx="2.89" ry="2.07" fill="url(#dot)" opacity="0.26"/>
<ellipse cx="298.52" cy="34.88" rx="2.95" ry="2.11" fill="url(#dot)" opacity="0.46"/>
<ellipse cx="311.18" cy="327.55" rx="3.29" ry="2.35" fill="url(#dot)" opacity="0.21"/>
<ellipse cx="311.18" cy="311.60" rx="2.75" ry="1.96" fill="url(#dot)" opacity="0.21"/>
<ellipse cx="311.18" cy="297.25" rx="3.01" ry="2.15" fill="url(#dot)" opacity="0.16"/>
<ellipse cx="311.18" cy="281.82" rx="2.79" ry="1.99" fill="url(#dot)" opacity="0.48"/>
<ellipse cx="311.18" cy="268.88" rx="3.25" ry="2.32" fill="url(#dot)" opacity="0.68"/>
<ellipse cx="311.18" cy="253.00" rx="3.48" ry="2.49" fill="url(#dot)" opacity="0.58"/>
<ellipse cx="311.18" cy="238.62" rx="2.97" ry="2.12" fill="url(#dot)" opacity="0.17"/>
<ellipse cx="311.18" cy="226.93" rx="2.92" ry="2.09" fill="url(#dot)" opacity="0.28"/>
<ellipse cx="311.18" cy="212.75" rx="3.10" ry="2.22" fill="url(#dot)" opacity="0.32"/>
<ellipse cx="311.18" cy="198.90" rx="2.96" ry="2.12" fill="url(#dot)" opacity="0.56"/>
<ellipse cx="311.18" cy="184.90" rx="2.90" ry="2.07" fill="url(#dot)" opacity="0.28"/>
<ellipse cx="311.18" cy="169.75" rx="3.40" ry="2.43" fill="url(#dot)" opacity="0.52"/>
<ellipse cx="311.18" cy="155.75" rx="2.91" ry="2.08" fill="url(#dot)" opacity="0.19"/>
<ellipse cx="311.18" cy="143.15" rx="3.34" ry="2.38" fill="url(#dot)" opacity="0.16"/>
<ellipse cx="311.18" cy="129.25" rx="2.77" ry="1.98" fill="url(#dot)" opacity="0.31"/>
<ellipse cx="311.18" cy="115.17" rx="3.11" ry="2.22" fill="url(#dot)" opacity="0.18"/>
<ellipse cx="311.18" cy="101.00" rx="2.70" ry="1.93" fill="url(#dot)" opacity="0.18"/>
<ellipse cx="311.18" cy="85.75" rx="3.31" ry="2.36" fill="url(#dot)" opacity="0.28"/>
<ellipse cx="311.18" cy="72.17" rx="3.48" ry="2.49" fill="url(#dot)" opacity="0.50"/>
<ellipse cx="311.18" cy="46.62" rx="3.48" ry="2.49" fill="url(#dot)" opacity="0.16"/>
<ellipse cx="311.18" cy="34.88" rx="2.82" ry="2.01" fill="url(#dot)" opacity="0.16"/>
<ellipse cx="324.18" cy="327.55" rx="3.02" ry="2.16" fill="url(#dot)" opacity="0.22"/>
<ellipse cx="324.18" cy="311.60" rx="2.70" ry="1.93" fill="url(#dot)" opacity="0.32"/>
<ellipse cx="324.18" cy="297.25" rx="2.74" ry="1.96" fill="url(#dot)" opacity="0.21"/>
<ellipse cx="324.18" cy="281.82" rx="2.87" ry="2.05" fill="url(#dot)" opacity="0.51"/>
<ellipse cx="324.18" cy="268.88" rx="3.01" ry="2.15" fill="url(#dot)" opacity="0.20"/>
<ellipse cx="324.18" cy="253.00" rx="2.70" ry="1.93" fill="url(#dot)" opacity="0.26"/>
<ellipse cx="324.18" cy="238.62" rx="3.19" ry="2.28" fill="url(#dot)" opacity="0.41"/>
<ellipse cx="324.18" cy="226.93" rx="3.43" ry="2.45" fill="url(#dot)" opacity="0.52"/>
<ellipse cx="324.18" cy="212.75" rx="2.87" ry="2.05" fill="url(#dot)" opacity="0.17"/>
<ellipse cx="324.18" cy="198.90" rx="3.30" ry="2.35" fill="url(#dot)" opacity="0.50"/>
<ellipse cx="324.18" cy="184.90" rx="3.09" ry="2.21" fill="url(#dot)" opacity="0.54"/>
<ellipse cx="324.18" cy="169.75" rx="3.12" ry="2.23" fill="url(#dot)" opacity="0.20"/>
<ellipse cx="324.18" cy="155.75" rx="2.80" ry="2.00" fill="url(#dot)" opacity="0.16"/>
<ellipse cx="324.18" cy="143.15" rx="3.20" ry="2.29" fill="url(#dot)" opacity="0.60"/>
<ellipse cx="324.18" cy="129.25" rx="3.42" ry="2.44" fill="url(#dot)" opacity="0.28"/>
<ellipse cx="324.18" cy="115.17" rx="3.22" ry="2.30" fill="url(#dot)" opacity="0.63"/>
<ellipse cx="324.18" cy="101.00" rx="3.34" ry="2.39" fill="url(#dot)" opacity="0.36"/>
<ellipse cx="324.18" cy="85.75" rx="3.01" ry="2.15" fill="url(#dot)" opacity="0.31"/>
<ellipse cx="324.18" cy="72.17" rx="2.80" ry="2.00" fill="url(#dot)" opacity="0.18"/>
<ellipse cx="324.18" cy="59.55" rx="3.23" ry="2.31" fill="url(#dot)" opacity="0.70"/>
<ellipse cx="324.18" cy="34.88" rx="3.12" ry="2.23" fill="url(#dot)" opacity="0.25"/>
<ellipse cx="336.18" cy="327.55" rx="2.96" ry="2.11" fill="url(#dot)" opacity="0.27"/>
<ellipse cx="336.18" cy="311.60" rx="3.33" ry="2.38" fill="url(#dot)" opacity="0.27"/>
<ellipse cx="336.18" cy="297.25" rx="3.47" ry="2.48" fill="url(#dot)" opacity="0.17"/>
<ellipse cx="336.18" cy="281.82" rx="2.92" ry="2.09" fill="url(#dot)" opacity="0.31"/>
<ellipse cx="336.18" cy="268.88" rx="3.01" ry="2.15" fill="url(#dot)" opacity="0.56"/>
<ellipse cx="336.18" cy="253.00" rx="3.36" ry="2.40" fill="url(#dot)" opacity="0.64"/>
<ellipse cx="336.18" cy="238.62" rx="3.17" ry="2.27" fill="url(#dot)" opacity="0.16"/>
<ellipse cx="336.18" cy="226.93" rx="3.14" ry="2.24" fill="url(#dot)" opacity="0.33"/>
<ellipse cx="336.18" cy="212.75" rx="3.07" ry="2.19" fill="url(#dot)" opacity="0.20"/>
<ellipse cx="336.18" cy="198.90" rx="3.26" ry="2.33" fill="url(#dot)" opacity="0.62"/>
<ellipse cx="336.18" cy="184.90" rx="2.75" ry="1.96" fill="url(#dot)" opacity="0.41"/>
<ellipse cx="336.18" cy="169.75" rx="2.97" ry="2.12" fill="url(#dot)" opacity="0.31"/>
<ellipse cx="336.18" cy="155.75" rx="3.41" ry="2.44" fill="url(#dot)" opacity="0.67"/>
<ellipse cx="336.18" cy="143.15" rx="3.20" ry="2.29" fill="url(#dot)" opacity="0.18"/>
<ellipse cx="336.18" cy="129.25" rx="3.43" ry="2.45" fill="url(#dot)" opacity="0.18"/>
<ellipse cx="336.18" cy="115.17" rx="2.98" ry="2.13" fill="url(#dot)" opacity="0.54"/>
<ellipse cx="336.18" cy="101.00" rx="2.93" ry="2.09" fill="url(#dot)" opacity="0.20"/>
<ellipse cx="336.18" cy="85.75" rx="3.46" ry="2.47" fill="url(#dot)" opacity="0.65"/>
<ellipse cx="336.18" cy="72.17" rx="2.93" ry="2.09" fill="url(#dot)" opacity="0.24"/>
<ellipse cx="336.18" cy="59.55" rx="2.90" ry="2.07" fill="url(#dot)" opacity="0.17"/>
<ellipse cx="336.18" cy="46.62" rx="2.87" ry="2.05" fill="url(#dot)" opacity="0.69"/>
<rect x="32.10" y="317.10" width="21.30" height="20.90" fill="#fcd6ba" opacity="0.35"/>
<rect x="32.10" y="327.55" width="10.65" height="10.45" fill="#f7a788" opacity="0.4"/>
<rect x="42.75" y="317.10" width="10.65" height="10.45" fill="#f7a788" opacity="0.4"/>
<rect x="32.10" y="317.10" width="21.30" height="20.90" fill="url(#dg)"/>
<line x1="36.36" y1="321.28" x2="49.14" y2="333.82" stroke="#f08a6c" stroke-width="1.6" opacity="0.4"/>
<circle cx="42.75" cy="327.55" r="5.43" fill="url(#rg)"/>
<rect x="53.40" y="306.10" width="11.00" height="11.00" fill="#fcd6ba" opacity="0.35"/>
<rect x="53.40" y="311.60" width="5.50" height="5.50" fill="#f7a788" opacity="0.4"/>
<rect x="58.90" y="306.10" width="5.50" height="5.50" fill="#f7a788" opacity="0.4"/>
<rect x="53.40" y="306.10" width="11.00" height="11.00" fill="url(#dg)"/>
<line x1="55.60" y1="308.30" x2="62.20" y2="314.90" stroke="#f08a6c" stroke-width="1.6" opacity="0.4"/>
<circle cx="58.90" cy="311.60" r="2.86" fill="url(#rg)"/>
<rect x="64.40" y="288.40" width="17.10" height="17.70" fill="#fcd6ba" opacity="0.35"/>
<rect x="64.40" y="297.25" width="8.55" height="8.85" fill="#f7a788" opacity="0.4"/>
<rect x="72.95" y="288.40" width="8.55" height="8.85" fill="#f7a788" opacity="0.4"/>
<rect x="64.40" y="288.40" width="17.10" height="17.70" fill="url(#dg)"/>
<line x1="67.82" y1="291.94" x2="78.08" y2="302.56" stroke="#f08a6c" stroke-width="1.6" opacity="0.4"/>
<circle cx="72.95" cy="297.25" r="4.45" fill="url(#rg)"/>
<rect x="81.50" y="275.25" width="13.50" height="13.15" fill="#fcd6ba" opacity="0.35"/>
<rect x="81.50" y="281.82" width="6.75" height="6.57" fill="#f7a788" opacity="0.4"/>
<rect x="88.25" y="275.25" width="6.75" height="6.57" fill="#f7a788" opacity="0.4"/>
<rect x="81.50" y="275.25" width="13.50" height="13.15" fill="url(#dg)"/>
<line x1="84.20" y1="277.88" x2="92.30" y2="285.77" stroke="#f08a6c" stroke-width="1.6" opacity="0.4"/>
<circle cx="88.25" cy="281.82" r="3.42" fill="url(#rg)"/>
<rect x="95.00" y="262.50" width="13.50" height="12.75" fill="#fcd6ba" opacity="0.35"/>
<rect x="95.00" y="268.88" width="6.75" height="6.38" fill="#f7a788" opacity="0.4"/>
<rect x="101.75" y="262.50" width="6.75" height="6.38" fill="#f7a788" opacity="0.4"/>
<rect x="95.00" y="262.50" width="13.50" height="12.75" fill="url(#dg)"/>
<line x1="97.70" y1="265.05" x2="105.80" y2="272.70" stroke="#f08a6c" stroke-width="1.6" opacity="0.4"/>
<circle cx="101.75" cy="268.88" r="3.31" fill="url(#rg)"/>
<rect x="108.50" y="243.50" width="18.10" height="19.00" fill="#fcd6ba" opacity="0.35"/>
<rect x="108.50" y="253.00" width="9.05" height="9.50" fill="#f7a788" opacity="0.4"/>
<rect x="117.55" y="243.50" width="9.05" height="9.50" fill="#f7a788" opacity="0.4"/>
<rect x="108.50" y="243.50" width="18.10" height="19.00" fill="url(#dg)"/>
<line x1="112.12" y1="247.30" x2="122.98" y2="258.70" stroke="#f08a6c" stroke-width="1.6" opacity="0.4"/>
<circle cx="117.55" cy="253.00" r="4.71" fill="url(#rg)"/>
<rect x="126.60" y="233.75" width="9.90" height="9.75" fill="#fcd6ba" opacity="0.35"/>
<rect x="126.60" y="238.62" width="4.95" height="4.88" fill="#f7a788" opacity="0.4"/>
<rect x="131.55" y="233.75" width="4.95" height="4.88" fill="#f7a788" opacity="0.4"/>
<rect x="126.60" y="233.75" width="9.90" height="9.75" fill="url(#dg)"/>
<line x1="128.58" y1="235.70" x2="134.52" y2="241.55" stroke="#f08a6c" stroke-width="1.6" opacity="0.4"/>
<circle cx="131.55" cy="238.62" r="2.54" fill="url(#rg)"/>
<rect x="136.50" y="220.10" width="13.90" height="13.65" fill="#fcd6ba" opacity="0.35"/>
<rect x="136.50" y="226.93" width="6.95" height="6.83" fill="#f7a788" opacity="0.4"/>
<rect x="143.45" y="220.10" width="6.95" height="6.83" fill="#f7a788" opacity="0.4"/>
<rect x="136.50" y="220.10" width="13.90" height="13.65" fill="url(#dg)"/>
<line x1="139.28" y1="222.83" x2="147.62" y2="231.02" stroke="#f08a6c" stroke-width="1.6" opacity="0.4"/>
<circle cx="143.45" cy="226.93" r="3.55" fill="url(#rg)"/>
<rect x="150.40" y="205.40" width="15.10" height="14.70" fill="#fcd6ba" opacity="0.35"/>
<rect x="150.40" y="212.75" width="7.55" height="7.35" fill="#f7a788" opacity="0.4"/>
<rect x="157.95" y="205.40" width="7.55" height="7.35" fill="#f7a788" opacity="0.4"/>
<rect x="150.40" y="205.40" width="15.10" height="14.70" fill="url(#dg)"/>
<line x1="153.42" y1="208.34" x2="162.48" y2="217.16" stroke="#f08a6c" stroke-width="1.6" opacity="0.4"/>
<circle cx="157.95" cy="212.75" r="3.82" fill="url(#rg)"/>
<rect x="165.50" y="192.40" width="12.50" height="13.00" fill="#fcd6ba" opacity="0.35"/>
<rect x="165.50" y="198.90" width="6.25" height="6.50" fill="#f7a788" opacity="0.4"/>
<rect x="171.75" y="192.40" width="6.25" height="6.50" fill="#f7a788" opacity="0.4"/>
<rect x="165.50" y="192.40" width="12.50" height="13.00" fill="url(#dg)"/>
<line x1="168.00" y1="195.00" x2="175.50" y2="202.80" stroke="#f08a6c" stroke-width="1.6" opacity="0.4"/>
<circle cx="171.75" cy="198.90" r="3.25" fill="url(#rg)"/>
<rect x="178.00" y="177.40" width="15.50" height="15.00" fill="#fcd6ba" opacity="0.35"/>
<rect x="178.00" y="184.90" width="7.75" height="7.50" fill="#f7a788" opacity="0.4"/>
<rect x="185.75" y="177.40" width="7.75" height="7.50" fill="#f7a788" opacity="0.4"/>
<rect x="178.00" y="177.40" width="15.50" height="15.00" fill="url(#dg)"/>
<line x1="181.10" y1="180.40" x2="190.40" y2="189.40" stroke="#f08a6c" stroke-width="1.6" opacity="0.4"/>
<circle cx="185.75" cy="184.90" r="3.90" fill="url(#rg)"/>
<rect x="193.50" y="162.10" width="14.75" height="15.30" fill="#fcd6ba" opacity="0.35"/>
<rect x="193.50" y="169.75" width="7.38" height="7.65" fill="#f7a788" opacity="0.4"/>
<rect x="200.88" y="162.10" width="7.38" height="7.65" fill="#f7a788" opacity="0.4"/>
<rect x="193.50" y="162.10" width="14.75" height="15.30" fill="url(#dg)"/>
<line x1="196.45" y1="165.16" x2="205.30" y2="174.34" stroke="#f08a6c" stroke-width="1.6" opacity="0.4"/>
<circle cx="200.88" cy="169.75" r="3.83" fill="url(#rg)"/>
<rect x="208.25" y="149.40" width="13.25" height="12.70" fill="#fcd6ba" opacity="0.35"/>
<rect x="208.25" y="155.75" width="6.62" height="6.35" fill="#f7a788" opacity="0.4"/>
<rect x="214.88" y="149.40" width="6.62" height="6.35" fill="#f7a788" opacity="0.4"/>
<rect x="208.25" y="149.40" width="13.25" height="12.70" fill="url(#dg)"/>
<line x1="210.90" y1="151.94" x2="218.85" y2="159.56" stroke="#f08a6c" stroke-width="1.6" opacity="0.4"/>
<circle cx="214.88" cy="155.75" r="3.30" fill="url(#rg)"/>
<rect x="221.50" y="136.90" width="12.20" height="12.50" fill="#fcd6ba" opacity="0.35"/>
<rect x="221.50" y="143.15" width="6.10" height="6.25" fill="#f7a788" opacity="0.4"/>
<rect x="227.60" y="136.90" width="6.10" height="6.25" fill="#f7a788" opacity="0.4"/>
<rect x="221.50" y="136.90" width="12.20" height="12.50" fill="url(#dg)"/>
<line x1="223.94" y1="139.40" x2="231.26" y2="146.90" stroke="#f08a6c" stroke-width="1.6" opacity="0.4"/>
<circle cx="227.60" cy="143.15" r="3.17" fill="url(#rg)"/>
<rect x="233.70" y="121.60" width="15.30" height="15.30" fill="#fcd6ba" opacity="0.35"/>
<rect x="233.70" y="129.25" width="7.65" height="7.65" fill="#f7a788" opacity="0.4"/>
<rect x="241.35" y="121.60" width="7.65" height="7.65" fill="#f7a788" opacity="0.4"/>
<rect x="233.70" y="121.60" width="15.30" height="15.30" fill="url(#dg)"/>
<line x1="236.76" y1="124.66" x2="245.94" y2="133.84" stroke="#f08a6c" stroke-width="1.6" opacity="0.4"/>
<circle cx="241.35" cy="129.25" r="3.98" fill="url(#rg)"/>
<rect x="249.00" y="108.75" width="12.70" height="12.85" fill="#fcd6ba" opacity="0.35"/>
<rect x="249.00" y="115.17" width="6.35" height="6.42" fill="#f7a788" opacity="0.4"/>
<rect x="255.35" y="108.75" width="6.35" height="6.42" fill="#f7a788" opacity="0.4"/>
<rect x="249.00" y="108.75" width="12.70" height="12.85" fill="url(#dg)"/>
<line x1="251.54" y1="111.32" x2="259.16" y2="119.03" stroke="#f08a6c" stroke-width="1.6" opacity="0.4"/>
<circle cx="255.35" cy="115.17" r="3.30" fill="url(#rg)"/>
<rect x="261.70" y="93.25" width="15.30" height="15.50" fill="#fcd6ba" opacity="0.35"/>
<rect x="261.70" y="101.00" width="7.65" height="7.75" fill="#f7a788" opacity="0.4"/>
<rect x="269.35" y="93.25" width="7.65" height="7.75" fill="#f7a788" opacity="0.4"/>
<rect x="261.70" y="93.25" width="15.30" height="15.50" fill="url(#dg)"/>
<line x1="264.76" y1="96.35" x2="273.94" y2="105.65" stroke="#f08a6c" stroke-width="1.6" opacity="0.4"/>
<circle cx="269.35" cy="101.00" r="3.98" fill="url(#rg)"/>
<rect x="277.00" y="78.25" width="15.30" height="15.00" fill="#fcd6ba" opacity="0.35"/>
<rect x="277.00" y="85.75" width="7.65" height="7.50" fill="#f7a788" opacity="0.4"/>
<rect x="284.65" y="78.25" width="7.65" height="7.50" fill="#f7a788" opacity="0.4"/>
<rect x="277.00" y="78.25" width="15.30" height="15.00" fill="url(#dg)"/>
<line x1="280.06" y1="81.25" x2="289.24" y2="90.25" stroke="#f08a6c" stroke-width="1.6" opacity="0.4"/>
<circle cx="284.65" cy="85.75" r="3.90" fill="url(#rg)"/>
<rect x="292.30" y="66.10" width="12.45" height="12.15" fill="#fcd6ba" opacity="0.35"/>
<rect x="292.30" y="72.17" width="6.22" height="6.08" fill="#f7a788" opacity="0.4"/>
<rect x="298.52" y="66.10" width="6.22" height="6.08" fill="#f7a788" opacity="0.4"/>
<rect x="292.30" y="66.10" width="12.45" height="12.15" fill="url(#dg)"/>
<line x1="294.79" y1="68.53" x2="302.26" y2="75.82" stroke="#f08a6c" stroke-width="1.6" opacity="0.4"/>
<circle cx="298.52" cy="72.17" r="3.16" fill="url(#rg)"/>
<rect x="304.75" y="53.00" width="12.85" height="13.10" fill="#fcd6ba" opacity="0.35"/>
<rect x="304.75" y="59.55" width="6.43" height="6.55" fill="#f7a788" opacity="0.4"/>
<rect x="311.18" y="53.00" width="6.43" height="6.55" fill="#f7a788" opacity="0.4"/>
<rect x="304.75" y="53.00" width="12.85" height="13.10" fill="url(#dg)"/>
<line x1="307.32" y1="55.62" x2="315.03" y2="63.48" stroke="#f08a6c" stroke-width="1.6" opacity="0.4"/>
<circle cx="311.18" cy="59.55" r="3.34" fill="url(#rg)"/>
<rect x="317.60" y="40.25" width="13.15" height="12.75" fill="#fcd6ba" opacity="0.35"/>
<rect x="317.60" y="46.62" width="6.57" height="6.38" fill="#f7a788" opacity="0.4"/>
<rect x="324.18" y="40.25" width="6.57" height="6.38" fill="#f7a788" opacity="0.4"/>
<rect x="317.60" y="40.25" width="13.15" height="12.75" fill="url(#dg)"/>
<line x1="320.23" y1="42.80" x2="328.12" y2="50.45" stroke="#f08a6c" stroke-width="1.6" opacity="0.4"/>
<circle cx="324.18" cy="46.62" r="3.31" fill="url(#rg)"/>
<rect x="330.75" y="29.50" width="10.85" height="10.75" fill="#fcd6ba" opacity="0.35"/>
<rect x="330.75" y="34.88" width="5.43" height="5.38" fill="#f7a788" opacity="0.4"/>
<rect x="336.18" y="29.50" width="5.43" height="5.38" fill="#f7a788" opacity="0.4"/>
<rect x="330.75" y="29.50" width="10.85" height="10.75" fill="url(#dg)"/>
<line x1="332.92" y1="31.65" x2="339.43" y2="38.10" stroke="#f08a6c" stroke-width="1.6" opacity="0.4"/>
<circle cx="336.18" cy="34.88" r="2.79" fill="url(#rg)"/>
<line x1="165.5" y1="29.5" x2="169.4" y2="32.8" stroke="#ea5f42" stroke-width="1.0" stroke-linecap="round" opacity="0.7"/>
<line x1="69.6" y1="40.5" x2="72.9" y2="45.4" stroke="#ea5f42" stroke-width="1.0" stroke-linecap="round" opacity="0.7"/>
<line x1="160.3" y1="47.7" x2="165.9" y2="52.2" stroke="#ea5f42" stroke-width="1.0" stroke-linecap="round" opacity="0.7"/>
<line x1="168.4" y1="55" x2="172.3" y2="60.5" stroke="#ea5f42" stroke-width="1.0" stroke-linecap="round" opacity="0.6"/>
<line x1="121" y1="72.5" x2="126.4" y2="66.7" stroke="#ea5f42" stroke-width="1.0" stroke-linecap="round" opacity="0.9"/>
<line x1="132.6" y1="60.9" x2="135.5" y2="65.7" stroke="#ea5f42" stroke-width="1.0" stroke-linecap="round" opacity="0.4"/>
<line x1="108.4" y1="78.7" x2="120" y2="90.9" stroke="#ea5f42" stroke-width="1.0" stroke-linecap="round" opacity="0.9"/>
<line x1="58" y1="76.8" x2="62.5" y2="72.5" stroke="#ea5f42" stroke-width="1.0" stroke-linecap="round" opacity="0.5"/>
<line x1="97.7" y1="99.2" x2="102.6" y2="93.8" stroke="#ea5f42" stroke-width="1.0" stroke-linecap="round" opacity="0.7"/>
<line x1="104.5" y1="103.9" x2="107.8" y2="108.7" stroke="#ea5f42" stroke-width="1.0" stroke-linecap="round" opacity="0.6"/>
<line x1="83.2" y1="112" x2="87.1" y2="108.1" stroke="#ea5f42" stroke-width="1.0" stroke-linecap="round" opacity="0.7"/>
<line x1="89" y1="114.5" x2="93.9" y2="120.3" stroke="#ea5f42" stroke-width="1.0" stroke-linecap="round" opacity="0.6"/>
<line x1="78.8" y1="132.5" x2="81.9" y2="136.8" stroke="#ea5f42" stroke-width="1.0" stroke-linecap="round" opacity="0.6"/>
<line x1="65.8" y1="148.4" x2="68.7" y2="145.5" stroke="#ea5f42" stroke-width="1.0" stroke-linecap="round" opacity="0.5"/>
<line x1="54.2" y1="161" x2="58" y2="157.1" stroke="#ea5f42" stroke-width="1.0" stroke-linecap="round" opacity="0.7"/>
<line x1="42.5" y1="172.6" x2="48.3" y2="166.8" stroke="#ea5f42" stroke-width="1.0" stroke-linecap="round" opacity="0.7"/>
<line x1="126.8" y1="136.8" x2="132.6" y2="143.6" stroke="#ea5f42" stroke-width="1.0" stroke-linecap="round" opacity="0.4"/>
<line x1="141.3" y1="151.3" x2="145.2" y2="157.1" stroke="#ea5f42" stroke-width="1.0" stroke-linecap="round" opacity="0.5"/>
<line x1="150" y1="162" x2="153" y2="164.9" stroke="#ea5f42" stroke-width="1.0" stroke-linecap="round" opacity="0.6"/>
<line x1="33" y1="178.3" x2="38.6" y2="185.1" stroke="#ea5f42" stroke-width="1.0" stroke-linecap="round" opacity="0.6"/>
<line x1="49.3" y1="188" x2="53" y2="192" stroke="#ea5f42" stroke-width="1.0" stroke-linecap="round" opacity="0.6"/>
<line x1="311.8" y1="197.7" x2="316" y2="202" stroke="#ea5f42" stroke-width="1.0" stroke-linecap="round" opacity="0.6"/>
<line x1="318.9" y1="205.8" x2="323.6" y2="211.6" stroke="#ea5f42" stroke-width="1.0" stroke-linecap="round" opacity="0.6"/>
<line x1="337.5" y1="200.9" x2="341" y2="205" stroke="#ea5f42" stroke-width="1.0" stroke-linecap="round" opacity="0.6"/>
<line x1="204.9" y1="216.9" x2="208" y2="220" stroke="#ea5f42" stroke-width="1.0" stroke-linecap="round" opacity="0.6"/>
<line x1="214" y1="225" x2="217.7" y2="229.3" stroke="#ea5f42" stroke-width="1.0" stroke-linecap="round" opacity="0.5"/>
<line x1="304.3" y1="234" x2="309" y2="238.7" stroke="#ea5f42" stroke-width="1.0" stroke-linecap="round" opacity="0.5"/>
<line x1="298.3" y1="249" x2="304.3" y2="243.6" stroke="#ea5f42" stroke-width="1.0" stroke-linecap="round" opacity="0.8"/>
<line x1="228.4" y1="238.3" x2="232.7" y2="243.6" stroke="#ea5f42" stroke-width="1.0" stroke-linecap="round" opacity="0.5"/>
<line x1="246.6" y1="229.7" x2="249.8" y2="235" stroke="#ea5f42" stroke-width="1.0" stroke-linecap="round" opacity="0.4"/>
<line x1="278.6" y1="250" x2="283" y2="254" stroke="#ea5f42" stroke-width="1.0" stroke-linecap="round" opacity="0.5"/>
<line x1="283.5" y1="255.1" x2="291.3" y2="262.5" stroke="#ea5f42" stroke-width="1.0" stroke-linecap="round" opacity="0.9"/>
<line x1="262.2" y1="261.8" x2="265.6" y2="265.2" stroke="#ea5f42" stroke-width="1.0" stroke-linecap="round" opacity="0.6"/>
<line x1="268.3" y1="275.3" x2="276.8" y2="268.6" stroke="#ea5f42" stroke-width="1.0" stroke-linecap="round" opacity="0.8"/>
<line x1="249.9" y1="276.4" x2="255.5" y2="282" stroke="#ea5f42" stroke-width="1.0" stroke-linecap="round" opacity="0.7"/>
<line x1="256.6" y1="288.7" x2="261.6" y2="283.1" stroke="#ea5f42" stroke-width="1.0" stroke-linecap="round" opacity="0.8"/>
<line x1="233.8" y1="287.6" x2="238.7" y2="292.5" stroke="#ea5f42" stroke-width="1.0" stroke-linecap="round" opacity="0.7"/>
<line x1="220.8" y1="306" x2="224.8" y2="302.8" stroke="#ea5f42" stroke-width="1.0" stroke-linecap="round" opacity="0.6"/>
<line x1="209.1" y1="317.2" x2="215.2" y2="312.7" stroke="#ea5f42" stroke-width="1.0" stroke-linecap="round" opacity="0.8"/>
<line x1="194.4" y1="331.3" x2="204" y2="323" stroke="#ea5f42" stroke-width="1.0" stroke-linecap="round" opacity="0.8"/>
<line x1="178.2" y1="317.2" x2="182.3" y2="321.2" stroke="#ea5f42" stroke-width="1.0" stroke-linecap="round" opacity="0.7"/>
<line x1="185" y1="332" x2="192.8" y2="337.3" stroke="#ea5f42" stroke-width="1.0" stroke-linecap="round" opacity="0.8"/>
<line x1="292.5" y1="313.4" x2="298" y2="307.8" stroke="#ea5f42" stroke-width="1.0" stroke-linecap="round" opacity="0.6"/>
<line x1="325" y1="297.7" x2="330.5" y2="302.2" stroke="#ea5f42" stroke-width="1.0" stroke-linecap="round" opacity="0.6"/>
<line x1="32.1" y1="228.3" x2="341.6" y2="228.3" stroke="#f5a98c" stroke-width="0.8" opacity="0.45"/>
<line x1="142.3" y1="29.5" x2="142.3" y2="338.0" stroke="#f5a98c" stroke-width="0.8" opacity="0.25"/>
<line x1="32.1" y1="338.0" x2="341.6" y2="29.5" stroke="#dc4a34" stroke-width="2.2" opacity="0.5"/>
<line x1="32.1" y1="338.0" x2="341.6" y2="29.5" stroke="#5a100c" stroke-width="1.15"/>
<circle cx="42.75" cy="327.55" r="1.3" fill="#5a0f0c" opacity="0.8"/>
<circle cx="58.90" cy="311.60" r="1.3" fill="#5a0f0c" opacity="0.8"/>
<circle cx="72.95" cy="297.25" r="1.3" fill="#5a0f0c" opacity="0.8"/>
<circle cx="88.25" cy="281.82" r="1.3" fill="#5a0f0c" opacity="0.8"/>
<circle cx="101.75" cy="268.88" r="1.3" fill="#5a0f0c" opacity="0.8"/>
<circle cx="117.55" cy="253.00" r="1.3" fill="#5a0f0c" opacity="0.8"/>
<circle cx="131.55" cy="238.62" r="1.3" fill="#5a0f0c" opacity="0.8"/>
<circle cx="143.45" cy="226.93" r="1.3" fill="#5a0f0c" opacity="0.8"/>
<circle cx="157.95" cy="212.75" r="1.3" fill="#5a0f0c" opacity="0.8"/>
<circle cx="171.75" cy="198.90" r="1.3" fill="#5a0f0c" opacity="0.8"/>
<circle cx="185.75" cy="184.90" r="1.3" fill="#5a0f0c" opacity="0.8"/>
<circle cx="200.88" cy="169.75" r="1.3" fill="#5a0f0c" opacity="0.8"/>
<circle cx="214.88" cy="155.75" r="1.3" fill="#5a0f0c" opacity="0.8"/>
<circle cx="227.60" cy="143.15" r="1.3" fill="#5a0f0c" opacity="0.8"/>
<circle cx="241.35" cy="129.25" r="1.3" fill="#5a0f0c" opacity="0.8"/>
<circle cx="255.35" cy="115.17" r="1.3" fill="#5a0f0c" opacity="0.8"/>
<circle cx="269.35" cy="101.00" r="1.3" fill="#5a0f0c" opacity="0.8"/>
<circle cx="284.65" cy="85.75" r="1.3" fill="#5a0f0c" opacity="0.8"/>
<circle cx="298.52" cy="72.17" r="1.3" fill="#5a0f0c" opacity="0.8"/>
<circle cx="311.18" cy="59.55" r="1.3" fill="#5a0f0c" opacity="0.8"/>
<circle cx="324.18" cy="46.62" r="1.3" fill="#5a0f0c" opacity="0.8"/>
<circle cx="336.18" cy="34.88" r="1.3" fill="#5a0f0c" opacity="0.8"/>
<line x1="53.5" y1="29.5" x2="53.5" y2="338.0" stroke="#2a2a20" stroke-width="0.85" stroke-dasharray="3 1.3" stroke-dashoffset="0.3" opacity="0.92"/>
<line x1="32.1" y1="317.5" x2="341.6" y2="317.5" stroke="#2a2a20" stroke-width="0.85" stroke-dasharray="3 1.3" opacity="0.92"/>
<line x1="64.5" y1="29.5" x2="64.5" y2="338.0" stroke="#2a2a20" stroke-width="0.85" stroke-dasharray="3 1.3" stroke-dashoffset="0.9" opacity="0.92"/>
<line x1="32.1" y1="306.5" x2="341.6" y2="306.5" stroke="#2a2a20" stroke-width="0.85" stroke-dasharray="3 1.3" opacity="0.92"/>
<line x1="81.5" y1="29.5" x2="81.5" y2="338.0" stroke="#2a2a20" stroke-width="0.85" stroke-dasharray="3 1.3" stroke-dashoffset="0.8" opacity="0.92"/>
<line x1="32.1" y1="288.5" x2="341.6" y2="288.5" stroke="#2a2a20" stroke-width="0.85" stroke-dasharray="3 1.3" opacity="0.92"/>
<line x1="95.5" y1="29.5" x2="95.5" y2="338.0" stroke="#2a2a20" stroke-width="0.85" stroke-dasharray="3 1.3" stroke-dashoffset="0.3" opacity="0.92"/>
<line x1="32.1" y1="275.5" x2="341.6" y2="275.5" stroke="#2a2a20" stroke-width="0.85" stroke-dasharray="3 1.3" opacity="0.92"/>
<line x1="108.5" y1="29.5" x2="108.5" y2="338.0" stroke="#2a2a20" stroke-width="0.85" stroke-dasharray="3 1.3" stroke-dashoffset="2.1" opacity="0.92"/>
<line x1="32.1" y1="262.5" x2="341.6" y2="262.5" stroke="#2a2a20" stroke-width="0.85" stroke-dasharray="3 1.3" opacity="0.92"/>
<line x1="126.5" y1="29.5" x2="126.5" y2="338.0" stroke="#2a2a20" stroke-width="0.85" stroke-dasharray="3 1.3" stroke-dashoffset="3.0" opacity="0.92"/>
<line x1="32.1" y1="243.5" x2="341.6" y2="243.5" stroke="#2a2a20" stroke-width="0.85" stroke-dasharray="3 1.3" opacity="0.92"/>
<line x1="136.5" y1="29.5" x2="136.5" y2="338.0" stroke="#2a2a20" stroke-width="0.85" stroke-dasharray="3 1.3" stroke-dashoffset="3.4" opacity="0.92"/>
<line x1="32.1" y1="233.5" x2="341.6" y2="233.5" stroke="#2a2a20" stroke-width="0.85" stroke-dasharray="3 1.3" opacity="0.92"/>
<line x1="150.5" y1="29.5" x2="150.5" y2="338.0" stroke="#2a2a20" stroke-width="0.85" stroke-dasharray="3 1.3" stroke-dashoffset="2.5" opacity="0.92"/>
<line x1="32.1" y1="220.5" x2="341.6" y2="220.5" stroke="#2a2a20" stroke-width="0.85" stroke-dasharray="3 1.3" opacity="0.92"/>
<line x1="165.5" y1="29.5" x2="165.5" y2="338.0" stroke="#2a2a20" stroke-width="0.85" stroke-dasharray="3 1.3" stroke-dashoffset="3.3" opacity="0.92"/>
<line x1="32.1" y1="205.5" x2="341.6" y2="205.5" stroke="#2a2a20" stroke-width="0.85" stroke-dasharray="3 1.3" opacity="0.92"/>
<line x1="193.5" y1="29.5" x2="193.5" y2="338.0" stroke="#2a2a20" stroke-width="0.85" stroke-dasharray="3 1.3" stroke-dashoffset="0.0" opacity="0.92"/>
<line x1="32.1" y1="177.5" x2="341.6" y2="177.5" stroke="#2a2a20" stroke-width="0.85" stroke-dasharray="3 1.3" opacity="0.92"/>
<line x1="208.5" y1="29.5" x2="208.5" y2="338.0" stroke="#2a2a20" stroke-width="0.85" stroke-dasharray="3 1.3" stroke-dashoffset="1.1" opacity="0.92"/>
<line x1="32.1" y1="162.5" x2="341.6" y2="162.5" stroke="#2a2a20" stroke-width="0.85" stroke-dasharray="3 1.3" opacity="0.92"/>
<line x1="221.5" y1="29.5" x2="221.5" y2="338.0" stroke="#2a2a20" stroke-width="0.85" stroke-dasharray="3 1.3" stroke-dashoffset="3.8" opacity="0.92"/>
<line x1="32.1" y1="149.5" x2="341.6" y2="149.5" stroke="#2a2a20" stroke-width="0.85" stroke-dasharray="3 1.3" opacity="0.92"/>
<line x1="233.5" y1="29.5" x2="233.5" y2="338.0" stroke="#2a2a20" stroke-width="0.85" stroke-dasharray="3 1.3" stroke-dashoffset="0.3" opacity="0.92"/>
<line x1="32.1" y1="136.5" x2="341.6" y2="136.5" stroke="#2a2a20" stroke-width="0.85" stroke-dasharray="3 1.3" opacity="0.92"/>
<line x1="249.5" y1="29.5" x2="249.5" y2="338.0" stroke="#2a2a20" stroke-width="0.85" stroke-dasharray="3 1.3" stroke-dashoffset="1.1" opacity="0.92"/>
<line x1="32.1" y1="121.5" x2="341.6" y2="121.5" stroke="#2a2a20" stroke-width="0.85" stroke-dasharray="3 1.3" opacity="0.92"/>
<line x1="261.5" y1="29.5" x2="261.5" y2="338.0" stroke="#2a2a20" stroke-width="0.85" stroke-dasharray="3 1.3" stroke-dashoffset="1.9" opacity="0.92"/>
<line x1="32.1" y1="108.5" x2="341.6" y2="108.5" stroke="#2a2a20" stroke-width="0.85" stroke-dasharray="3 1.3" opacity="0.92"/>
<line x1="277.5" y1="29.5" x2="277.5" y2="338.0" stroke="#2a2a20" stroke-width="0.85" stroke-dasharray="3 1.3" stroke-dashoffset="1.1" opacity="0.92"/>
<line x1="32.1" y1="93.5" x2="341.6" y2="93.5" stroke="#2a2a20" stroke-width="0.85" stroke-dasharray="3 1.3" opacity="0.92"/>
<line x1="292.5" y1="29.5" x2="292.5" y2="338.0" stroke="#2a2a20" stroke-width="0.85" stroke-dasharray="3 1.3" stroke-dashoffset="2.2" opacity="0.92"/>
<line x1="32.1" y1="78.5" x2="341.6" y2="78.5" stroke="#2a2a20" stroke-width="0.85" stroke-dasharray="3 1.3" opacity="0.92"/>
<line x1="304.5" y1="29.5" x2="304.5" y2="338.0" stroke="#2a2a20" stroke-width="0.85" stroke-dasharray="3 1.3" stroke-dashoffset="0.2" opacity="0.92"/>
<line x1="32.1" y1="66.5" x2="341.6" y2="66.5" stroke="#2a2a20" stroke-width="0.85" stroke-dasharray="3 1.3" opacity="0.92"/>
<line x1="317.5" y1="29.5" x2="317.5" y2="338.0" stroke="#2a2a20" stroke-width="0.85" stroke-dasharray="3 1.3" stroke-dashoffset="0.9" opacity="0.92"/>
<line x1="32.1" y1="53.5" x2="341.6" y2="53.5" stroke="#2a2a20" stroke-width="0.85" stroke-dasharray="3 1.3" opacity="0.92"/>
<line x1="330.5" y1="29.5" x2="330.5" y2="338.0" stroke="#2a2a20" stroke-width="0.85" stroke-dasharray="3 1.3" stroke-dashoffset="3.8" opacity="0.92"/>
<line x1="32.1" y1="40.5" x2="341.6" y2="40.5" stroke="#2a2a20" stroke-width="0.85" stroke-dasharray="3 1.3" opacity="0.92"/>
<line x1="177.75" y1="29.5" x2="177.75" y2="338.0" stroke="#0c0c08" stroke-width="1.4"/>
<line x1="32.1" y1="192.20" x2="341.6" y2="192.20" stroke="#0c0c08" stroke-width="1.35"/>
</g>
<rect x="32.1" y="29.5" width="309.5" height="308.5" fill="none" stroke="#666" stroke-width="0.6"/>
<line x1="25.3" y1="28.6" x2="25.3" y2="338.4" stroke="#000" stroke-width="1.2"/>
<line x1="21" y1="338.00" x2="25.3" y2="338.00" stroke="#000" stroke-width="1"/>
<text transform="translate(16,335.80) rotate(-90)" text-anchor="end" font-size="8.8">0Mb</text>
<line x1="21" y1="247.17" x2="25.3" y2="247.17" stroke="#000" stroke-width="1"/>
<text transform="translate(16,244.97) rotate(-90)" text-anchor="end" font-size="8.8">200Mb</text>
<line x1="21" y1="156.33" x2="25.3" y2="156.33" stroke="#000" stroke-width="1"/>
<text transform="translate(16,154.13) rotate(-90)" text-anchor="end" font-size="8.8">400Mb</text>
<line x1="21" y1="65.50" x2="25.3" y2="65.50" stroke="#000" stroke-width="1"/>
<text transform="translate(16,63.30) rotate(-90)" text-anchor="end" font-size="8.8">600Mb</text>
<line x1="42.75" y1="338.0" x2="42.75" y2="342.5" stroke="#000" stroke-width="1"/>
<text transform="translate(41.45,357.6) rotate(-45)" text-anchor="middle" dominant-baseline="central" font-size="6.3">Chr01</text>
<line x1="58.90" y1="338.0" x2="58.90" y2="342.5" stroke="#000" stroke-width="1"/>
<text transform="translate(57.60,357.6) rotate(-45)" text-anchor="middle" dominant-baseline="central" font-size="6.3">Chr02</text>
<line x1="72.95" y1="338.0" x2="72.95" y2="342.5" stroke="#000" stroke-width="1"/>
<text transform="translate(71.65,357.6) rotate(-45)" text-anchor="middle" dominant-baseline="central" font-size="6.3">Chr03</text>
<line x1="88.25" y1="338.0" x2="88.25" y2="342.5" stroke="#000" stroke-width="1"/>
<text transform="translate(86.95,357.6) rotate(-45)" text-anchor="middle" dominant-baseline="central" font-size="6.3">Chr04</text>
<line x1="101.75" y1="338.0" x2="101.75" y2="342.5" stroke="#000" stroke-width="1"/>
<text transform="translate(100.45,357.6) rotate(-45)" text-anchor="middle" dominant-baseline="central" font-size="6.3">Chr05</text>
<line x1="117.55" y1="338.0" x2="117.55" y2="342.5" stroke="#000" stroke-width="1"/>
<text transform="translate(116.25,357.6) rotate(-45)" text-anchor="middle" dominant-baseline="central" font-size="6.3">Chr06</text>
<line x1="131.55" y1="338.0" x2="131.55" y2="342.5" stroke="#000" stroke-width="1"/>
<text transform="translate(130.25,357.6) rotate(-45)" text-anchor="middle" dominant-baseline="central" font-size="6.3">Chr07</text>
<line x1="143.45" y1="338.0" x2="143.45" y2="342.5" stroke="#000" stroke-width="1"/>
<text transform="translate(142.15,357.6) rotate(-45)" text-anchor="middle" dominant-baseline="central" font-size="6.3">Chr08</text>
<line x1="157.95" y1="338.0" x2="157.95" y2="342.5" stroke="#000" stroke-width="1"/>
<text transform="translate(156.65,357.6) rotate(-45)" text-anchor="middle" dominant-baseline="central" font-size="6.3">Chr09</text>
<line x1="171.75" y1="338.0" x2="171.75" y2="342.5" stroke="#000" stroke-width="1"/>
<text transform="translate(170.45,357.6) rotate(-45)" text-anchor="middle" dominant-baseline="central" font-size="6.3">Chr10</text>
<line x1="185.75" y1="338.0" x2="185.75" y2="342.5" stroke="#000" stroke-width="1"/>
<text transform="translate(184.45,357.6) rotate(-45)" text-anchor="middle" dominant-baseline="central" font-size="6.3">Chr11</text>
<line x1="200.88" y1="338.0" x2="200.88" y2="342.5" stroke="#000" stroke-width="1"/>
<text transform="translate(199.57,357.6) rotate(-45)" text-anchor="middle" dominant-baseline="central" font-size="6.3">Chr12</text>
<line x1="214.88" y1="338.0" x2="214.88" y2="342.5" stroke="#000" stroke-width="1"/>
<text transform="translate(213.57,357.6) rotate(-45)" text-anchor="middle" dominant-baseline="central" font-size="6.3">Chr13</text>
<line x1="227.60" y1="338.0" x2="227.60" y2="342.5" stroke="#000" stroke-width="1"/>
<text transform="translate(226.30,357.6) rotate(-45)" text-anchor="middle" dominant-baseline="central" font-size="6.3">Chr14</text>
<line x1="241.35" y1="338.0" x2="241.35" y2="342.5" stroke="#000" stroke-width="1"/>
<text transform="translate(240.05,357.6) rotate(-45)" text-anchor="middle" dominant-baseline="central" font-size="6.3">Chr15</text>
<line x1="255.35" y1="338.0" x2="255.35" y2="342.5" stroke="#000" stroke-width="1"/>
<text transform="translate(254.05,357.6) rotate(-45)" text-anchor="middle" dominant-baseline="central" font-size="6.3">Chr16</text>
<line x1="269.35" y1="338.0" x2="269.35" y2="342.5" stroke="#000" stroke-width="1"/>
<text transform="translate(268.05,357.6) rotate(-45)" text-anchor="middle" dominant-baseline="central" font-size="6.3">Chr17</text>
<line x1="284.65" y1="338.0" x2="284.65" y2="342.5" stroke="#000" stroke-width="1"/>
<text transform="translate(283.35,357.6) rotate(-45)" text-anchor="middle" dominant-baseline="central" font-size="6.3">Chr18</text>
<line x1="298.52" y1="338.0" x2="298.52" y2="342.5" stroke="#000" stroke-width="1"/>
<text transform="translate(297.22,357.6) rotate(-45)" text-anchor="middle" dominant-baseline="central" font-size="6.3">Chr19</text>
<line x1="311.18" y1="338.0" x2="311.18" y2="342.5" stroke="#000" stroke-width="1"/>
<text transform="translate(309.88,357.6) rotate(-45)" text-anchor="middle" dominant-baseline="central" font-size="6.3">Chr20</text>
<line x1="324.18" y1="338.0" x2="324.18" y2="342.5" stroke="#000" stroke-width="1"/>
<text transform="translate(322.88,357.6) rotate(-45)" text-anchor="middle" dominant-baseline="central" font-size="6.3">Chr21</text>
<line x1="336.18" y1="338.0" x2="336.18" y2="342.5" stroke="#000" stroke-width="1"/>
<text transform="translate(334.88,357.6) rotate(-45)" text-anchor="middle" dominant-baseline="central" font-size="6.3">Chr22</text>
<rect x="350.5" y="29.5" width="9.3" height="308.5" fill="url(#cb)" stroke="#000" stroke-width="0.8"/>
<line x1="359.8" y1="338.00" x2="363.3" y2="338.00" stroke="#000" stroke-width="0.9"/>
<text x="367.5" y="341.00" font-size="8.4">0</text>
<line x1="359.8" y1="276.30" x2="363.3" y2="276.30" stroke="#000" stroke-width="0.9"/>
<text x="367.5" y="279.30" font-size="8.4">2</text>
<line x1="359.8" y1="214.60" x2="363.3" y2="214.60" stroke="#000" stroke-width="0.9"/>
<text x="367.5" y="217.60" font-size="8.4">4</text>
<line x1="359.8" y1="152.90" x2="363.3" y2="152.90" stroke="#000" stroke-width="0.9"/>
<text x="367.5" y="155.90" font-size="8.4">6</text>
<line x1="359.8" y1="91.20" x2="363.3" y2="91.20" stroke="#000" stroke-width="0.9"/>
<text x="367.5" y="94.20" font-size="8.4">8</text>
<line x1="359.8" y1="29.50" x2="363.3" y2="29.50" stroke="#000" stroke-width="0.9"/>
<text x="367.5" y="32.50" font-size="8.4">10</text>
</g>
<text class="ser" x="-0.7" y="17.2" font-size="26.5">a</text>
<text class="ser" x="394" y="19.7" font-size="28.5">b</text>
<g shape-rendering="crispEdges">
<rect x="442.10" y="29.90" width="6.45" height="14.52" fill="#bfbfff"/>
<rect x="448.15" y="29.90" width="6.45" height="14.52" fill="#bfbfff"/>
<rect x="454.20" y="29.90" width="6.45" height="14.52" fill="#ffbfbf"/>
<rect x="460.25" y="29.90" width="6.45" height="14.52" fill="#bfbfff"/>
<rect x="466.30" y="29.90" width="6.45" height="14.52" fill="#ffffff"/>
<rect x="472.35" y="29.90" width="6.45" height="14.52" fill="#ffffff"/>
<rect x="478.40" y="29.90" width="6.45" height="14.52" fill="#dfdfff"/>
<rect x="484.45" y="29.90" width="6.45" height="14.52" fill="#ffffff"/>
<rect x="490.50" y="29.90" width="6.45" height="14.52" fill="#bfbfff"/>
<rect x="496.55" y="29.90" width="6.45" height="14.52" fill="#bfbfff"/>
<rect x="502.60" y="29.90" width="6.45" height="14.52" fill="#bfbfff"/>
<rect x="508.65" y="29.90" width="6.45" height="14.52" fill="#bfbfff"/>
<rect x="517.90" y="29.90" width="6.45" height="14.52" fill="#ffdfdf"/>
<rect x="523.95" y="29.90" width="6.45" height="14.52" fill="#ff6060"/>
<rect x="530.00" y="29.90" width="6.45" height="14.52" fill="#ff2020"/>
<rect x="536.05" y="29.90" width="6.45" height="14.52" fill="#ff6060"/>
<rect x="542.10" y="29.90" width="6.45" height="14.52" fill="#ff2020"/>
<rect x="548.15" y="29.90" width="6.45" height="14.52" fill="#ff6060"/>
<rect x="554.20" y="29.90" width="6.45" height="14.52" fill="#ff4040"/>
<rect x="560.25" y="29.90" width="6.45" height="14.52" fill="#ffbfbf"/>
<rect x="566.30" y="29.90" width="6.45" height="14.52" fill="#ffdfdf"/>
<rect x="572.35" y="29.90" width="6.45" height="14.52" fill="#ff0000"/>
<rect x="578.40" y="29.90" width="6.45" height="14.52" fill="#ff0000"/>
<rect x="584.45" y="29.90" width="6.45" height="14.52" fill="#ff2020"/>
<rect x="590.50" y="29.90" width="6.45" height="14.52" fill="#ff2020"/>
<rect x="596.55" y="29.90" width="6.45" height="14.52" fill="#ff4040"/>
<rect x="602.60" y="29.90" width="6.45" height="14.52" fill="#ff0000"/>
<rect x="608.65" y="29.90" width="6.45" height="14.52" fill="#ff0000"/>
<rect x="614.70" y="29.90" width="6.45" height="14.52" fill="#ffbfbf"/>
<rect x="620.75" y="29.90" width="6.45" height="14.52" fill="#ff0000"/>
<rect x="626.80" y="29.90" width="6.45" height="14.52" fill="#ff0000"/>
<rect x="632.85" y="29.90" width="6.45" height="14.52" fill="#ff2020"/>
<rect x="638.90" y="29.90" width="6.45" height="14.52" fill="#ff2020"/>
<rect x="644.95" y="29.90" width="6.45" height="14.52" fill="#ff0000"/>
<rect x="651.00" y="29.90" width="6.45" height="14.52" fill="#ff2020"/>
<rect x="657.05" y="29.90" width="6.45" height="14.52" fill="#ff4040"/>
<rect x="663.10" y="29.90" width="6.45" height="14.52" fill="#ff2020"/>
<rect x="669.15" y="29.90" width="6.45" height="14.52" fill="#ffbfbf"/>
<rect x="675.20" y="29.90" width="6.45" height="14.52" fill="#ff4040"/>
<rect x="681.25" y="29.90" width="6.45" height="14.52" fill="#ff4040"/>
<rect x="687.30" y="29.90" width="6.45" height="14.52" fill="#ff4040"/>
<rect x="693.35" y="29.90" width="6.45" height="14.52" fill="#ff9f9f"/>
<rect x="699.40" y="29.90" width="6.45" height="14.52" fill="#ff2020"/>
<rect x="705.45" y="29.90" width="6.45" height="14.52" fill="#ff2020"/>
<rect x="711.50" y="29.90" width="6.45" height="14.52" fill="#ff2020"/>
<rect x="717.55" y="29.90" width="6.45" height="14.52" fill="#ff4040"/>
<rect x="723.60" y="29.90" width="6.45" height="14.52" fill="#ff8080"/>
<rect x="729.65" y="29.90" width="6.45" height="14.52" fill="#ff8080"/>
<rect x="735.70" y="29.90" width="6.45" height="14.52" fill="#ff9f9f"/>
<rect x="741.75" y="29.90" width="6.45" height="14.52" fill="#ff6060"/>
<rect x="747.80" y="29.90" width="6.45" height="14.52" fill="#ff2020"/>
<rect x="442.10" y="44.02" width="6.45" height="14.52" fill="#8080ff"/>
<rect x="448.15" y="44.02" width="6.45" height="14.52" fill="#9f9fff"/>
<rect x="454.20" y="44.02" width="6.45" height="14.52" fill="#4040ff"/>
<rect x="460.25" y="44.02" width="6.45" height="14.52" fill="#6060ff"/>
<rect x="466.30" y="44.02" width="6.45" height="14.52" fill="#9f9fff"/>
<rect x="472.35" y="44.02" width="6.45" height="14.52" fill="#9f9fff"/>
<rect x="478.40" y="44.02" width="6.45" height="14.52" fill="#9f9fff"/>
<rect x="484.45" y="44.02" width="6.45" height="14.52" fill="#9f9fff"/>
<rect x="490.50" y="44.02" width="6.45" height="14.52" fill="#bfbfff"/>
<rect x="496.55" y="44.02" width="6.45" height="14.52" fill="#bfbfff"/>
<rect x="502.60" y="44.02" width="6.45" height="14.52" fill="#9f9fff"/>
<rect x="508.65" y="44.02" width="6.45" height="14.52" fill="#ffffff"/>
<rect x="517.90" y="44.02" width="6.45" height="14.52" fill="#ff0000"/>
<rect x="523.95" y="44.02" width="6.45" height="14.52" fill="#ff0000"/>
<rect x="530.00" y="44.02" width="6.45" height="14.52" fill="#ff0000"/>
<rect x="536.05" y="44.02" width="6.45" height="14.52" fill="#ff0000"/>
<rect x="542.10" y="44.02" width="6.45" height="14.52" fill="#ff0000"/>
<rect x="548.15" y="44.02" width="6.45" height="14.52" fill="#ff0000"/>
<rect x="554.20" y="44.02" width="6.45" height="14.52" fill="#ff0000"/>
<rect x="560.25" y="44.02" width="6.45" height="14.52" fill="#ffbfbf"/>
<rect x="566.30" y="44.02" width="6.45" height="14.52" fill="#ffdfdf"/>
<rect x="572.35" y="44.02" width="6.45" height="14.52" fill="#ff2020"/>
<rect x="578.40" y="44.02" width="6.45" height="14.52" fill="#ff2020"/>
<rect x="584.45" y="44.02" width="6.45" height="14.52" fill="#ff0000"/>
<rect x="590.50" y="44.02" width="6.45" height="14.52" fill="#ff2020"/>
<rect x="596.55" y="44.02" width="6.45" height="14.52" fill="#ff4040"/>
<rect x="602.60" y="44.02" width="6.45" height="14.52" fill="#ffbfbf"/>
<rect x="608.65" y="44.02" width="6.45" height="14.52" fill="#ffcfcf"/>
<rect x="614.70" y="44.02" width="6.45" height="14.52" fill="#ff6060"/>
<rect x="620.75" y="44.02" width="6.45" height="14.52" fill="#ff2020"/>
<rect x="626.80" y="44.02" width="6.45" height="14.52" fill="#ff2020"/>
<rect x="632.85" y="44.02" width="6.45" height="14.52" fill="#ff8080"/>
<rect x="638.90" y="44.02" width="6.45" height="14.52" fill="#ff0000"/>
<rect x="644.95" y="44.02" width="6.45" height="14.52" fill="#ff9f9f"/>
<rect x="651.00" y="44.02" width="6.45" height="14.52" fill="#ff2020"/>
<rect x="657.05" y="44.02" width="6.45" height="14.52" fill="#ff0000"/>
<rect x="663.10" y="44.02" width="6.45" height="14.52" fill="#ff2020"/>
<rect x="669.15" y="44.02" width="6.45" height="14.52" fill="#ffbfbf"/>
<rect x="675.20" y="44.02" width="6.45" height="14.52" fill="#ff4040"/>
<rect x="681.25" y="44.02" width="6.45" height="14.52" fill="#ff4040"/>
<rect x="687.30" y="44.02" width="6.45" height="14.52" fill="#ff6060"/>
<rect x="693.35" y="44.02" width="6.45" height="14.52" fill="#ff8080"/>
<rect x="699.40" y="44.02" width="6.45" height="14.52" fill="#ff9f9f"/>
<rect x="705.45" y="44.02" width="6.45" height="14.52" fill="#ffdfdf"/>
<rect x="711.50" y="44.02" width="6.45" height="14.52" fill="#ff9f9f"/>
<rect x="717.55" y="44.02" width="6.45" height="14.52" fill="#ff8f8f"/>
<rect x="723.60" y="44.02" width="6.45" height="14.52" fill="#ff0000"/>
<rect x="729.65" y="44.02" width="6.45" height="14.52" fill="#ff0000"/>
<rect x="735.70" y="44.02" width="6.45" height="14.52" fill="#ff2020"/>
<rect x="741.75" y="44.02" width="6.45" height="14.52" fill="#ff0000"/>
<rect x="747.80" y="44.02" width="6.45" height="14.52" fill="#ff2020"/>
<rect x="442.10" y="58.14" width="6.45" height="14.52" fill="#dfdfff"/>
<rect x="448.15" y="58.14" width="6.45" height="14.52" fill="#bfbfff"/>
<rect x="454.20" y="58.14" width="6.45" height="14.52" fill="#bfbfff"/>
<rect x="460.25" y="58.14" width="6.45" height="14.52" fill="#afafff"/>
<rect x="466.30" y="58.14" width="6.45" height="14.52" fill="#7070ff"/>
<rect x="472.35" y="58.14" width="6.45" height="14.52" fill="#4040ff"/>
<rect x="478.40" y="58.14" width="6.45" height="14.52" fill="#8080ff"/>
<rect x="484.45" y="58.14" width="6.45" height="14.52" fill="#6060ff"/>
<rect x="490.50" y="58.14" width="6.45" height="14.52" fill="#bfbfff"/>
<rect x="496.55" y="58.14" width="6.45" height="14.52" fill="#bfbfff"/>
<rect x="502.60" y="58.14" width="6.45" height="14.52" fill="#ffffff"/>
<rect x="508.65" y="58.14" width="6.45" height="14.52" fill="#7070ff"/>
<rect x="517.90" y="58.14" width="6.45" height="14.52" fill="#ff9f9f"/>
<rect x="523.95" y="58.14" width="6.45" height="14.52" fill="#ffbfbf"/>
<rect x="530.00" y="58.14" width="6.45" height="14.52" fill="#ff9f9f"/>
<rect x="536.05" y="58.14" width="6.45" height="14.52" fill="#ff8080"/>
<rect x="542.10" y="58.14" width="6.45" height="14.52" fill="#ff8f8f"/>
<rect x="548.15" y="58.14" width="6.45" height="14.52" fill="#ffbfbf"/>
<rect x="554.20" y="58.14" width="6.45" height="14.52" fill="#ff9f9f"/>
<rect x="560.25" y="58.14" width="6.45" height="14.52" fill="#ff0000"/>
<rect x="566.30" y="58.14" width="6.45" height="14.52" fill="#ff0000"/>
<rect x="572.35" y="58.14" width="6.45" height="14.52" fill="#ff0000"/>
<rect x="578.40" y="58.14" width="6.45" height="14.52" fill="#ff0000"/>
<rect x="584.45" y="58.14" width="6.45" height="14.52" fill="#ff0000"/>
<rect x="590.50" y="58.14" width="6.45" height="14.52" fill="#ff0000"/>
<rect x="596.55" y="58.14" width="6.45" height="14.52" fill="#ff0000"/>
<rect x="602.60" y="58.14" width="6.45" height="14.52" fill="#ff0000"/>
<rect x="608.65" y="58.14" width="6.45" height="14.52" fill="#ff0000"/>
<rect x="614.70" y="58.14" width="6.45" height="14.52" fill="#ff6060"/>
<rect x="620.75" y="58.14" width="6.45" height="14.52" fill="#ff8080"/>
<rect x="626.80" y="58.14" width="6.45" height="14.52" fill="#ff8080"/>
<rect x="632.85" y="58.14" width="6.45" height="14.52" fill="#ff8080"/>
<rect x="638.90" y="58.14" width="6.45" height="14.52" fill="#ff6060"/>
<rect x="644.95" y="58.14" width="6.45" height="14.52" fill="#ff6060"/>
<rect x="651.00" y="58.14" width="6.45" height="14.52" fill="#ff5050"/>
<rect x="657.05" y="58.14" width="6.45" height="14.52" fill="#ff4040"/>
<rect x="663.10" y="58.14" width="6.45" height="14.52" fill="#ff4040"/>
<rect x="669.15" y="58.14" width="6.45" height="14.52" fill="#ff4040"/>
<rect x="675.20" y="58.14" width="6.45" height="14.52" fill="#ff8080"/>
<rect x="681.25" y="58.14" width="6.45" height="14.52" fill="#ffbfbf"/>
<rect x="687.30" y="58.14" width="6.45" height="14.52" fill="#ffbfbf"/>
<rect x="693.35" y="58.14" width="6.45" height="14.52" fill="#ffbfbf"/>
<rect x="699.40" y="58.14" width="6.45" height="14.52" fill="#ffbfbf"/>
<rect x="705.45" y="58.14" width="6.45" height="14.52" fill="#ffcfcf"/>
<rect x="711.50" y="58.14" width="6.45" height="14.52" fill="#ff1010"/>
<rect x="717.55" y="58.14" width="6.45" height="14.52" fill="#ff2020"/>
<rect x="723.60" y="58.14" width="6.45" height="14.52" fill="#ff9f9f"/>
<rect x="729.65" y="58.14" width="6.45" height="14.52" fill="#ffafaf"/>
<rect x="735.70" y="58.14" width="6.45" height="14.52" fill="#ff0000"/>
<rect x="741.75" y="58.14" width="6.45" height="14.52" fill="#ff0000"/>
<rect x="747.80" y="58.14" width="6.45" height="14.52" fill="#ff0000"/>
<rect x="442.10" y="72.26" width="6.45" height="14.52" fill="#8f8fff"/>
<rect x="448.15" y="72.26" width="6.45" height="14.52" fill="#bfbfff"/>
<rect x="454.20" y="72.26" width="6.45" height="14.52" fill="#8080ff"/>
<rect x="460.25" y="72.26" width="6.45" height="14.52" fill="#6060ff"/>
<rect x="466.30" y="72.26" width="6.45" height="14.52" fill="#4040ff"/>
<rect x="472.35" y="72.26" width="6.45" height="14.52" fill="#4040ff"/>
<rect x="478.40" y="72.26" width="6.45" height="14.52" fill="#3030ff"/>
<rect x="484.45" y="72.26" width="6.45" height="14.52" fill="#7070ff"/>
<rect x="490.50" y="72.26" width="6.45" height="14.52" fill="#afafff"/>
<rect x="496.55" y="72.26" width="6.45" height="14.52" fill="#9f9fff"/>
<rect x="502.60" y="72.26" width="6.45" height="14.52" fill="#ffffff"/>
<rect x="508.65" y="72.26" width="6.45" height="14.52" fill="#dfdfff"/>
<rect x="517.90" y="72.26" width="6.45" height="14.52" fill="#ffcfcf"/>
<rect x="523.95" y="72.26" width="6.45" height="14.52" fill="#ff8f8f"/>
<rect x="530.00" y="72.26" width="6.45" height="14.52" fill="#ffdfdf"/>
<rect x="536.05" y="72.26" width="6.45" height="14.52" fill="#ffbfbf"/>
<rect x="542.10" y="72.26" width="6.45" height="14.52" fill="#ffdfdf"/>
<rect x="548.15" y="72.26" width="6.45" height="14.52" fill="#dfdfff"/>
<rect x="554.20" y="72.26" width="6.45" height="14.52" fill="#ffffff"/>
<rect x="560.25" y="72.26" width="6.45" height="14.52" fill="#ff5050"/>
<rect x="566.30" y="72.26" width="6.45" height="14.52" fill="#ff9f9f"/>
<rect x="572.35" y="72.26" width="6.45" height="14.52" fill="#dfdfff"/>
<rect x="578.40" y="72.26" width="6.45" height="14.52" fill="#ffdfdf"/>
<rect x="584.45" y="72.26" width="6.45" height="14.52" fill="#ffffff"/>
<rect x="590.50" y="72.26" width="6.45" height="14.52" fill="#ffdfdf"/>
<rect x="596.55" y="72.26" width="6.45" height="14.52" fill="#ff9f9f"/>
<rect x="602.60" y="72.26" width="6.45" height="14.52" fill="#ffafaf"/>
<rect x="608.65" y="72.26" width="6.45" height="14.52" fill="#ff6060"/>
<rect x="614.70" y="72.26" width="6.45" height="14.52" fill="#ff4040"/>
<rect x="620.75" y="72.26" width="6.45" height="14.52" fill="#ffffff"/>
<rect x="626.80" y="72.26" width="6.45" height="14.52" fill="#ffbfbf"/>
<rect x="632.85" y="72.26" width="6.45" height="14.52" fill="#ffbfbf"/>
<rect x="638.90" y="72.26" width="6.45" height="14.52" fill="#ffffff"/>
<rect x="644.95" y="72.26" width="6.45" height="14.52" fill="#ff6060"/>
<rect x="651.00" y="72.26" width="6.45" height="14.52" fill="#ff6060"/>
<rect x="657.05" y="72.26" width="6.45" height="14.52" fill="#ff2020"/>
<rect x="663.10" y="72.26" width="6.45" height="14.52" fill="#ff4040"/>
<rect x="669.15" y="72.26" width="6.45" height="14.52" fill="#ff2020"/>
<rect x="675.20" y="72.26" width="6.45" height="14.52" fill="#ff7070"/>
<rect x="681.25" y="72.26" width="6.45" height="14.52" fill="#ff6060"/>
<rect x="687.30" y="72.26" width="6.45" height="14.52" fill="#ff0000"/>
<rect x="693.35" y="72.26" width="6.45" height="14.52" fill="#ff0000"/>
<rect x="699.40" y="72.26" width="6.45" height="14.52" fill="#ff0000"/>
<rect x="705.45" y="72.26" width="6.45" height="14.52" fill="#ff0000"/>
<rect x="711.50" y="72.26" width="6.45" height="14.52" fill="#ff0000"/>
<rect x="717.55" y="72.26" width="6.45" height="14.52" fill="#ff0000"/>
<rect x="723.60" y="72.26" width="6.45" height="14.52" fill="#ff0000"/>
<rect x="729.65" y="72.26" width="6.45" height="14.52" fill="#ff0000"/>
<rect x="735.70" y="72.26" width="6.45" height="14.52" fill="#ff0000"/>
<rect x="741.75" y="72.26" width="6.45" height="14.52" fill="#ff5050"/>
<rect x="747.80" y="72.26" width="6.45" height="14.52" fill="#ff5050"/>
<rect x="442.10" y="86.38" width="6.45" height="14.52" fill="#ff9f9f"/>
<rect x="448.15" y="86.38" width="6.45" height="14.52" fill="#4040ff"/>
<rect x="454.20" y="86.38" width="6.45" height="14.52" fill="#7070ff"/>
<rect x="460.25" y="86.38" width="6.45" height="14.52" fill="#8080ff"/>
<rect x="466.30" y="86.38" width="6.45" height="14.52" fill="#9f9fff"/>
<rect x="472.35" y="86.38" width="6.45" height="14.52" fill="#9f9fff"/>
<rect x="478.40" y="86.38" width="6.45" height="14.52" fill="#9f9fff"/>
<rect x="484.45" y="86.38" width="6.45" height="14.52" fill="#9f9fff"/>
<rect x="490.50" y="86.38" width="6.45" height="14.52" fill="#6060ff"/>
<rect x="496.55" y="86.38" width="6.45" height="14.52" fill="#8080ff"/>
<rect x="502.60" y="86.38" width="6.45" height="14.52" fill="#2020ff"/>
<rect x="508.65" y="86.38" width="6.45" height="14.52" fill="#5050ff"/>
<rect x="517.90" y="86.38" width="6.45" height="14.52" fill="#ffffff"/>
<rect x="523.95" y="86.38" width="6.45" height="14.52" fill="#ffbfbf"/>
<rect x="530.00" y="86.38" width="6.45" height="14.52" fill="#ffffff"/>
<rect x="536.05" y="86.38" width="6.45" height="14.52" fill="#ffdfdf"/>
<rect x="542.10" y="86.38" width="6.45" height="14.52" fill="#dfdfff"/>
<rect x="548.15" y="86.38" width="6.45" height="14.52" fill="#dfdfff"/>
<rect x="554.20" y="86.38" width="6.45" height="14.52" fill="#ffffff"/>
<rect x="560.25" y="86.38" width="6.45" height="14.52" fill="#8080ff"/>
<rect x="566.30" y="86.38" width="6.45" height="14.52" fill="#6060ff"/>
<rect x="572.35" y="86.38" width="6.45" height="14.52" fill="#cfcfff"/>
<rect x="578.40" y="86.38" width="6.45" height="14.52" fill="#ffffff"/>
<rect x="584.45" y="86.38" width="6.45" height="14.52" fill="#ffffff"/>
<rect x="590.50" y="86.38" width="6.45" height="14.52" fill="#ffdfdf"/>
<rect x="596.55" y="86.38" width="6.45" height="14.52" fill="#ffdfdf"/>
<rect x="602.60" y="86.38" width="6.45" height="14.52" fill="#ff9f9f"/>
<rect x="608.65" y="86.38" width="6.45" height="14.52" fill="#ffbfbf"/>
<rect x="614.70" y="86.38" width="6.45" height="14.52" fill="#ff8f8f"/>
<rect x="620.75" y="86.38" width="6.45" height="14.52" fill="#ffbfbf"/>
<rect x="626.80" y="86.38" width="6.45" height="14.52" fill="#ffcfcf"/>
<rect x="632.85" y="86.38" width="6.45" height="14.52" fill="#ff2020"/>
<rect x="638.90" y="86.38" width="6.45" height="14.52" fill="#ff4040"/>
<rect x="644.95" y="86.38" width="6.45" height="14.52" fill="#ffbfbf"/>
<rect x="651.00" y="86.38" width="6.45" height="14.52" fill="#ff8080"/>
<rect x="657.05" y="86.38" width="6.45" height="14.52" fill="#ff7070"/>
<rect x="663.10" y="86.38" width="6.45" height="14.52" fill="#ff6060"/>
<rect x="669.15" y="86.38" width="6.45" height="14.52" fill="#ff4040"/>
<rect x="675.20" y="86.38" width="6.45" height="14.52" fill="#ff0000"/>
<rect x="681.25" y="86.38" width="6.45" height="14.52" fill="#ff8f8f"/>
<rect x="687.30" y="86.38" width="6.45" height="14.52" fill="#ffbfbf"/>
<rect x="693.35" y="86.38" width="6.45" height="14.52" fill="#ffbfbf"/>
<rect x="699.40" y="86.38" width="6.45" height="14.52" fill="#ffdfdf"/>
<rect x="705.45" y="86.38" width="6.45" height="14.52" fill="#ffbfbf"/>
<rect x="711.50" y="86.38" width="6.45" height="14.52" fill="#ffbfbf"/>
<rect x="717.55" y="86.38" width="6.45" height="14.52" fill="#ff9f9f"/>
<rect x="723.60" y="86.38" width="6.45" height="14.52" fill="#ff9f9f"/>
<rect x="729.65" y="86.38" width="6.45" height="14.52" fill="#ff9f9f"/>
<rect x="735.70" y="86.38" width="6.45" height="14.52" fill="#ff9f9f"/>
<rect x="741.75" y="86.38" width="6.45" height="14.52" fill="#ff6060"/>
<rect x="747.80" y="86.38" width="6.45" height="14.52" fill="#ff6060"/>
<rect x="442.10" y="100.50" width="6.45" height="14.52" fill="#bfbfff"/>
<rect x="448.15" y="100.50" width="6.45" height="14.52" fill="#9f9fff"/>
<rect x="454.20" y="100.50" width="6.45" height="14.52" fill="#9f9fff"/>
<rect x="460.25" y="100.50" width="6.45" height="14.52" fill="#cfcfff"/>
<rect x="466.30" y="100.50" width="6.45" height="14.52" fill="#bfbfff"/>
<rect x="472.35" y="100.50" width="6.45" height="14.52" fill="#ffffff"/>
<rect x="478.40" y="100.50" width="6.45" height="14.52" fill="#bfbfff"/>
<rect x="484.45" y="100.50" width="6.45" height="14.52" fill="#bfbfff"/>
<rect x="490.50" y="100.50" width="6.45" height="14.52" fill="#9f9fff"/>
<rect x="496.55" y="100.50" width="6.45" height="14.52" fill="#bfbfff"/>
<rect x="502.60" y="100.50" width="6.45" height="14.52" fill="#9f9fff"/>
<rect x="508.65" y="100.50" width="6.45" height="14.52" fill="#8080ff"/>
<rect x="517.90" y="100.50" width="6.45" height="14.52" fill="#ffffff"/>
<rect x="523.95" y="100.50" width="6.45" height="14.52" fill="#ffffff"/>
<rect x="530.00" y="100.50" width="6.45" height="14.52" fill="#ffbfbf"/>
<rect x="536.05" y="100.50" width="6.45" height="14.52" fill="#ffffff"/>
<rect x="542.10" y="100.50" width="6.45" height="14.52" fill="#ffdfdf"/>
<rect x="548.15" y="100.50" width="6.45" height="14.52" fill="#ffdfdf"/>
<rect x="554.20" y="100.50" width="6.45" height="14.52" fill="#dfdfff"/>
<rect x="560.25" y="100.50" width="6.45" height="14.52" fill="#ffafaf"/>
<rect x="566.30" y="100.50" width="6.45" height="14.52" fill="#ff8f8f"/>
<rect x="572.35" y="100.50" width="6.45" height="14.52" fill="#ff9f9f"/>
<rect x="578.40" y="100.50" width="6.45" height="14.52" fill="#ff9f9f"/>
<rect x="584.45" y="100.50" width="6.45" height="14.52" fill="#ffbfbf"/>
<rect x="590.50" y="100.50" width="6.45" height="14.52" fill="#ffbfbf"/>
<rect x="596.55" y="100.50" width="6.45" height="14.52" fill="#dfdfff"/>
<rect x="602.60" y="100.50" width="6.45" height="14.52" fill="#ffdfdf"/>
<rect x="608.65" y="100.50" width="6.45" height="14.52" fill="#dfdfff"/>
<rect x="614.70" y="100.50" width="6.45" height="14.52" fill="#ff0000"/>
<rect x="620.75" y="100.50" width="6.45" height="14.52" fill="#ff0000"/>
<rect x="626.80" y="100.50" width="6.45" height="14.52" fill="#ff0000"/>
<rect x="632.85" y="100.50" width="6.45" height="14.52" fill="#ff0000"/>
<rect x="638.90" y="100.50" width="6.45" height="14.52" fill="#ff6060"/>
<rect x="644.95" y="100.50" width="6.45" height="14.52" fill="#ff6060"/>
<rect x="651.00" y="100.50" width="6.45" height="14.52" fill="#ff4040"/>
<rect x="657.05" y="100.50" width="6.45" height="14.52" fill="#ff6060"/>
<rect x="663.10" y="100.50" width="6.45" height="14.52" fill="#ff6060"/>
<rect x="669.15" y="100.50" width="6.45" height="14.52" fill="#ffffff"/>
<rect x="675.20" y="100.50" width="6.45" height="14.52" fill="#bfbfff"/>
<rect x="681.25" y="100.50" width="6.45" height="14.52" fill="#ff9f9f"/>
<rect x="687.30" y="100.50" width="6.45" height="14.52" fill="#ff9f9f"/>
<rect x="693.35" y="100.50" width="6.45" height="14.52" fill="#ff9f9f"/>
<rect x="699.40" y="100.50" width="6.45" height="14.52" fill="#ffffff"/>
<rect x="705.45" y="100.50" width="6.45" height="14.52" fill="#ffdfdf"/>
<rect x="711.50" y="100.50" width="6.45" height="14.52" fill="#ffbfbf"/>
<rect x="717.55" y="100.50" width="6.45" height="14.52" fill="#dfdfff"/>
<rect x="723.60" y="100.50" width="6.45" height="14.52" fill="#ff9f9f"/>
<rect x="729.65" y="100.50" width="6.45" height="14.52" fill="#ff8f8f"/>
<rect x="735.70" y="100.50" width="6.45" height="14.52" fill="#dfdfff"/>
<rect x="741.75" y="100.50" width="6.45" height="14.52" fill="#dfdfff"/>
<rect x="747.80" y="100.50" width="6.45" height="14.52" fill="#dfdfff"/>
<rect x="442.10" y="114.62" width="6.45" height="14.52" fill="#6060ff"/>
<rect x="448.15" y="114.62" width="6.45" height="14.52" fill="#7070ff"/>
<rect x="454.20" y="114.62" width="6.45" height="14.52" fill="#9f9fff"/>
<rect x="460.25" y="114.62" width="6.45" height="14.52" fill="#bfbfff"/>
<rect x="466.30" y="114.62" width="6.45" height="14.52" fill="#5050ff"/>
<rect x="472.35" y="114.62" width="6.45" height="14.52" fill="#9f9fff"/>
<rect x="478.40" y="114.62" width="6.45" height="14.52" fill="#8080ff"/>
<rect x="484.45" y="114.62" width="6.45" height="14.52" fill="#8080ff"/>
<rect x="490.50" y="114.62" width="6.45" height="14.52" fill="#8080ff"/>
<rect x="496.55" y="114.62" width="6.45" height="14.52" fill="#7070ff"/>
<rect x="502.60" y="114.62" width="6.45" height="14.52" fill="#9f9fff"/>
<rect x="508.65" y="114.62" width="6.45" height="14.52" fill="#bfbfff"/>
<rect x="517.90" y="114.62" width="6.45" height="14.52" fill="#ffdfdf"/>
<rect x="523.95" y="114.62" width="6.45" height="14.52" fill="#ff0000"/>
<rect x="530.00" y="114.62" width="6.45" height="14.52" fill="#ff0000"/>
<rect x="536.05" y="114.62" width="6.45" height="14.52" fill="#ff0000"/>
<rect x="542.10" y="114.62" width="6.45" height="14.52" fill="#ff0000"/>
<rect x="548.15" y="114.62" width="6.45" height="14.52" fill="#ff0000"/>
<rect x="554.20" y="114.62" width="6.45" height="14.52" fill="#ff0000"/>
<rect x="560.25" y="114.62" width="6.45" height="14.52" fill="#ffffff"/>
<rect x="566.30" y="114.62" width="6.45" height="14.52" fill="#dfdfff"/>
<rect x="572.35" y="114.62" width="6.45" height="14.52" fill="#ffbfbf"/>
<rect x="578.40" y="114.62" width="6.45" height="14.52" fill="#ffcfcf"/>
<rect x="584.45" y="114.62" width="6.45" height="14.52" fill="#ffbfbf"/>
<rect x="590.50" y="114.62" width="6.45" height="14.52" fill="#ffbfbf"/>
<rect x="596.55" y="114.62" width="6.45" height="14.52" fill="#ffbfbf"/>
<rect x="602.60" y="114.62" width="6.45" height="14.52" fill="#ffbfbf"/>
<rect x="608.65" y="114.62" width="6.45" height="14.52" fill="#ffcfcf"/>
<rect x="614.70" y="114.62" width="6.45" height="14.52" fill="#ffbfbf"/>
<rect x="620.75" y="114.62" width="6.45" height="14.52" fill="#ff9f9f"/>
<rect x="626.80" y="114.62" width="6.45" height="14.52" fill="#ff9f9f"/>
<rect x="632.85" y="114.62" width="6.45" height="14.52" fill="#ff9f9f"/>
<rect x="638.90" y="114.62" width="6.45" height="14.52" fill="#ffbfbf"/>
<rect x="644.95" y="114.62" width="6.45" height="14.52" fill="#ffbfbf"/>
<rect x="651.00" y="114.62" width="6.45" height="14.52" fill="#ffffff"/>
<rect x="657.05" y="114.62" width="6.45" height="14.52" fill="#ffffff"/>
<rect x="663.10" y="114.62" width="6.45" height="14.52" fill="#ffffff"/>
<rect x="669.15" y="114.62" width="6.45" height="14.52" fill="#ff6060"/>
<rect x="675.20" y="114.62" width="6.45" height="14.52" fill="#ff9f9f"/>
<rect x="681.25" y="114.62" width="6.45" height="14.52" fill="#ff2020"/>
<rect x="687.30" y="114.62" width="6.45" height="14.52" fill="#ffdfdf"/>
<rect x="693.35" y="114.62" width="6.45" height="14.52" fill="#ff9f9f"/>
<rect x="699.40" y="114.62" width="6.45" height="14.52" fill="#bfbfff"/>
<rect x="705.45" y="114.62" width="6.45" height="14.52" fill="#ffffff"/>
<rect x="711.50" y="114.62" width="6.45" height="14.52" fill="#ffbfbf"/>
<rect x="717.55" y="114.62" width="6.45" height="14.52" fill="#ff9f9f"/>
<rect x="723.60" y="114.62" width="6.45" height="14.52" fill="#ffffff"/>
<rect x="729.65" y="114.62" width="6.45" height="14.52" fill="#ffffff"/>
<rect x="735.70" y="114.62" width="6.45" height="14.52" fill="#ffdfdf"/>
<rect x="741.75" y="114.62" width="6.45" height="14.52" fill="#ffffff"/>
<rect x="747.80" y="114.62" width="6.45" height="14.52" fill="#dfdfff"/>
<rect x="442.10" y="128.74" width="6.45" height="14.52" fill="#7070ff"/>
<rect x="448.15" y="128.74" width="6.45" height="14.52" fill="#bfbfff"/>
<rect x="454.20" y="128.74" width="6.45" height="14.52" fill="#2020ff"/>
<rect x="460.25" y="128.74" width="6.45" height="14.52" fill="#3030ff"/>
<rect x="466.30" y="128.74" width="6.45" height="14.52" fill="#6060ff"/>
<rect x="472.35" y="128.74" width="6.45" height="14.52" fill="#6060ff"/>
<rect x="478.40" y="128.74" width="6.45" height="14.52" fill="#6060ff"/>
<rect x="484.45" y="128.74" width="6.45" height="14.52" fill="#6060ff"/>
<rect x="490.50" y="128.74" width="6.45" height="14.52" fill="#8080ff"/>
<rect x="496.55" y="128.74" width="6.45" height="14.52" fill="#4040ff"/>
<rect x="502.60" y="128.74" width="6.45" height="14.52" fill="#2020ff"/>
<rect x="508.65" y="128.74" width="6.45" height="14.52" fill="#4040ff"/>
<rect x="517.90" y="128.74" width="6.45" height="14.52" fill="#ffffff"/>
<rect x="523.95" y="128.74" width="6.45" height="14.52" fill="#ffcfcf"/>
<rect x="530.00" y="128.74" width="6.45" height="14.52" fill="#cfcfff"/>
<rect x="536.05" y="128.74" width="6.45" height="14.52" fill="#ffffff"/>
<rect x="542.10" y="128.74" width="6.45" height="14.52" fill="#dfdfff"/>
<rect x="548.15" y="128.74" width="6.45" height="14.52" fill="#dfdfff"/>
<rect x="554.20" y="128.74" width="6.45" height="14.52" fill="#ffffff"/>
<rect x="560.25" y="128.74" width="6.45" height="14.52" fill="#dfdfff"/>
<rect x="566.30" y="128.74" width="6.45" height="14.52" fill="#ffdfdf"/>
<rect x="572.35" y="128.74" width="6.45" height="14.52" fill="#dfdfff"/>
<rect x="578.40" y="128.74" width="6.45" height="14.52" fill="#cfcfff"/>
<rect x="584.45" y="128.74" width="6.45" height="14.52" fill="#ffffff"/>
<rect x="590.50" y="128.74" width="6.45" height="14.52" fill="#cfcfff"/>
<rect x="596.55" y="128.74" width="6.45" height="14.52" fill="#ffffff"/>
<rect x="602.60" y="128.74" width="6.45" height="14.52" fill="#ff6060"/>
<rect x="608.65" y="128.74" width="6.45" height="14.52" fill="#ff6060"/>
<rect x="614.70" y="128.74" width="6.45" height="14.52" fill="#ffafaf"/>
<rect x="620.75" y="128.74" width="6.45" height="14.52" fill="#dfdfff"/>
<rect x="626.80" y="128.74" width="6.45" height="14.52" fill="#ffdfdf"/>
<rect x="632.85" y="128.74" width="6.45" height="14.52" fill="#ffffff"/>
<rect x="638.90" y="128.74" width="6.45" height="14.52" fill="#ffffff"/>
<rect x="644.95" y="128.74" width="6.45" height="14.52" fill="#ffdfdf"/>
<rect x="651.00" y="128.74" width="6.45" height="14.52" fill="#ffffff"/>
<rect x="657.05" y="128.74" width="6.45" height="14.52" fill="#ffffff"/>
<rect x="663.10" y="128.74" width="6.45" height="14.52" fill="#ffdfdf"/>
<rect x="669.15" y="128.74" width="6.45" height="14.52" fill="#ff8080"/>
<rect x="675.20" y="128.74" width="6.45" height="14.52" fill="#ff9f9f"/>
<rect x="681.25" y="128.74" width="6.45" height="14.52" fill="#ffffff"/>
<rect x="687.30" y="128.74" width="6.45" height="14.52" fill="#ffffff"/>
<rect x="693.35" y="128.74" width="6.45" height="14.52" fill="#ffffff"/>
<rect x="699.40" y="128.74" width="6.45" height="14.52" fill="#dfdfff"/>
<rect x="705.45" y="128.74" width="6.45" height="14.52" fill="#ffdfdf"/>
<rect x="711.50" y="128.74" width="6.45" height="14.52" fill="#bfbfff"/>
<rect x="717.55" y="128.74" width="6.45" height="14.52" fill="#dfdfff"/>
<rect x="723.60" y="128.74" width="6.45" height="14.52" fill="#ffffff"/>
<rect x="729.65" y="128.74" width="6.45" height="14.52" fill="#ffdfdf"/>
<rect x="735.70" y="128.74" width="6.45" height="14.52" fill="#ffffff"/>
<rect x="741.75" y="128.74" width="6.45" height="14.52" fill="#ffdfdf"/>
<rect x="747.80" y="128.74" width="6.45" height="14.52" fill="#ffbfbf"/>
<rect x="442.10" y="142.86" width="6.45" height="14.52" fill="#8080ff"/>
<rect x="448.15" y="142.86" width="6.45" height="14.52" fill="#8080ff"/>
<rect x="454.20" y="142.86" width="6.45" height="14.52" fill="#7070ff"/>
<rect x="460.25" y="142.86" width="6.45" height="14.52" fill="#7070ff"/>
<rect x="466.30" y="142.86" width="6.45" height="14.52" fill="#9f9fff"/>
<rect x="472.35" y="142.86" width="6.45" height="14.52" fill="#8080ff"/>
<rect x="478.40" y="142.86" width="6.45" height="14.52" fill="#6060ff"/>
<rect x="484.45" y="142.86" width="6.45" height="14.52" fill="#8080ff"/>
<rect x="490.50" y="142.86" width="6.45" height="14.52" fill="#8080ff"/>
<rect x="496.55" y="142.86" width="6.45" height="14.52" fill="#7070ff"/>
<rect x="502.60" y="142.86" width="6.45" height="14.52" fill="#bfbfff"/>
<rect x="508.65" y="142.86" width="6.45" height="14.52" fill="#bfbfff"/>
<rect x="517.90" y="142.86" width="6.45" height="14.52" fill="#cfcfff"/>
<rect x="523.95" y="142.86" width="6.45" height="14.52" fill="#ffbfbf"/>
<rect x="530.00" y="142.86" width="6.45" height="14.52" fill="#cfcfff"/>
<rect x="536.05" y="142.86" width="6.45" height="14.52" fill="#bfbfff"/>
<rect x="542.10" y="142.86" width="6.45" height="14.52" fill="#ffffff"/>
<rect x="548.15" y="142.86" width="6.45" height="14.52" fill="#dfdfff"/>
<rect x="554.20" y="142.86" width="6.45" height="14.52" fill="#bfbfff"/>
<rect x="560.25" y="142.86" width="6.45" height="14.52" fill="#ffffff"/>
<rect x="566.30" y="142.86" width="6.45" height="14.52" fill="#ffffff"/>
<rect x="572.35" y="142.86" width="6.45" height="14.52" fill="#ff9f9f"/>
<rect x="578.40" y="142.86" width="6.45" height="14.52" fill="#ff9f9f"/>
<rect x="584.45" y="142.86" width="6.45" height="14.52" fill="#ff9f9f"/>
<rect x="590.50" y="142.86" width="6.45" height="14.52" fill="#ff9f9f"/>
<rect x="596.55" y="142.86" width="6.45" height="14.52" fill="#afafff"/>
<rect x="602.60" y="142.86" width="6.45" height="14.52" fill="#afafff"/>
<rect x="608.65" y="142.86" width="6.45" height="14.52" fill="#ffffff"/>
<rect x="614.70" y="142.86" width="6.45" height="14.52" fill="#bfbfff"/>
<rect x="620.75" y="142.86" width="6.45" height="14.52" fill="#ffafaf"/>
<rect x="626.80" y="142.86" width="6.45" height="14.52" fill="#ff8f8f"/>
<rect x="632.85" y="142.86" width="6.45" height="14.52" fill="#ffffff"/>
<rect x="638.90" y="142.86" width="6.45" height="14.52" fill="#ffafaf"/>
<rect x="644.95" y="142.86" width="6.45" height="14.52" fill="#dfdfff"/>
<rect x="651.00" y="142.86" width="6.45" height="14.52" fill="#cfcfff"/>
<rect x="657.05" y="142.86" width="6.45" height="14.52" fill="#ffffff"/>
<rect x="663.10" y="142.86" width="6.45" height="14.52" fill="#ffffff"/>
<rect x="669.15" y="142.86" width="6.45" height="14.52" fill="#ff8080"/>
<rect x="675.20" y="142.86" width="6.45" height="14.52" fill="#dfdfff"/>
<rect x="681.25" y="142.86" width="6.45" height="14.52" fill="#ff9f9f"/>
<rect x="687.30" y="142.86" width="6.45" height="14.52" fill="#ffafaf"/>
<rect x="693.35" y="142.86" width="6.45" height="14.52" fill="#ff9f9f"/>
<rect x="699.40" y="142.86" width="6.45" height="14.52" fill="#ff2020"/>
<rect x="705.45" y="142.86" width="6.45" height="14.52" fill="#ffbfbf"/>
<rect x="711.50" y="142.86" width="6.45" height="14.52" fill="#ffffff"/>
<rect x="717.55" y="142.86" width="6.45" height="14.52" fill="#ff4040"/>
<rect x="723.60" y="142.86" width="6.45" height="14.52" fill="#ff9f9f"/>
<rect x="729.65" y="142.86" width="6.45" height="14.52" fill="#ff8f8f"/>
<rect x="735.70" y="142.86" width="6.45" height="14.52" fill="#ffffff"/>
<rect x="741.75" y="142.86" width="6.45" height="14.52" fill="#ffffff"/>
<rect x="747.80" y="142.86" width="6.45" height="14.52" fill="#ffffff"/>
<rect x="442.10" y="156.98" width="6.45" height="14.52" fill="#dfdfff"/>
<rect x="448.15" y="156.98" width="6.45" height="14.52" fill="#8080ff"/>
<rect x="454.20" y="156.98" width="6.45" height="14.52" fill="#8080ff"/>
<rect x="460.25" y="156.98" width="6.45" height="14.52" fill="#8080ff"/>
<rect x="466.30" y="156.98" width="6.45" height="14.52" fill="#8080ff"/>
<rect x="472.35" y="156.98" width="6.45" height="14.52" fill="#6060ff"/>
<rect x="478.40" y="156.98" width="6.45" height="14.52" fill="#8080ff"/>
<rect x="484.45" y="156.98" width="6.45" height="14.52" fill="#8080ff"/>
<rect x="490.50" y="156.98" width="6.45" height="14.52" fill="#8080ff"/>
<rect x="496.55" y="156.98" width="6.45" height="14.52" fill="#9f9fff"/>
<rect x="502.60" y="156.98" width="6.45" height="14.52" fill="#8080ff"/>
<rect x="508.65" y="156.98" width="6.45" height="14.52" fill="#9f9fff"/>
<rect x="517.90" y="156.98" width="6.45" height="14.52" fill="#dfdfff"/>
<rect x="523.95" y="156.98" width="6.45" height="14.52" fill="#9f9fff"/>
<rect x="530.00" y="156.98" width="6.45" height="14.52" fill="#8080ff"/>
<rect x="536.05" y="156.98" width="6.45" height="14.52" fill="#9f9fff"/>
<rect x="542.10" y="156.98" width="6.45" height="14.52" fill="#8080ff"/>
<rect x="548.15" y="156.98" width="6.45" height="14.52" fill="#9f9fff"/>
<rect x="554.20" y="156.98" width="6.45" height="14.52" fill="#9f9fff"/>
<rect x="560.25" y="156.98" width="6.45" height="14.52" fill="#ffbfbf"/>
<rect x="566.30" y="156.98" width="6.45" height="14.52" fill="#ffdfdf"/>
<rect x="572.35" y="156.98" width="6.45" height="14.52" fill="#bfbfff"/>
<rect x="578.40" y="156.98" width="6.45" height="14.52" fill="#bfbfff"/>
<rect x="584.45" y="156.98" width="6.45" height="14.52" fill="#bfbfff"/>
<rect x="590.50" y="156.98" width="6.45" height="14.52" fill="#ffffff"/>
<rect x="596.55" y="156.98" width="6.45" height="14.52" fill="#ff4040"/>
<rect x="602.60" y="156.98" width="6.45" height="14.52" fill="#ffdfdf"/>
<rect x="608.65" y="156.98" width="6.45" height="14.52" fill="#bfbfff"/>
<rect x="614.70" y="156.98" width="6.45" height="14.52" fill="#ffdfdf"/>
<rect x="620.75" y="156.98" width="6.45" height="14.52" fill="#bfbfff"/>
<rect x="626.80" y="156.98" width="6.45" height="14.52" fill="#9f9fff"/>
<rect x="632.85" y="156.98" width="6.45" height="14.52" fill="#9f9fff"/>
<rect x="638.90" y="156.98" width="6.45" height="14.52" fill="#cfcfff"/>
<rect x="644.95" y="156.98" width="6.45" height="14.52" fill="#9f9fff"/>
<rect x="651.00" y="156.98" width="6.45" height="14.52" fill="#9f9fff"/>
<rect x="657.05" y="156.98" width="6.45" height="14.52" fill="#9f9fff"/>
<rect x="663.10" y="156.98" width="6.45" height="14.52" fill="#9f9fff"/>
<rect x="669.15" y="156.98" width="6.45" height="14.52" fill="#6060ff"/>
<rect x="675.20" y="156.98" width="6.45" height="14.52" fill="#ffdfdf"/>
<rect x="681.25" y="156.98" width="6.45" height="14.52" fill="#ffffff"/>
<rect x="687.30" y="156.98" width="6.45" height="14.52" fill="#ffcfcf"/>
<rect x="693.35" y="156.98" width="6.45" height="14.52" fill="#ff9f9f"/>
<rect x="699.40" y="156.98" width="6.45" height="14.52" fill="#ffbfbf"/>
<rect x="705.45" y="156.98" width="6.45" height="14.52" fill="#ff6060"/>
<rect x="711.50" y="156.98" width="6.45" height="14.52" fill="#afafff"/>
<rect x="717.55" y="156.98" width="6.45" height="14.52" fill="#bfbfff"/>
<rect x="723.60" y="156.98" width="6.45" height="14.52" fill="#afafff"/>
<rect x="729.65" y="156.98" width="6.45" height="14.52" fill="#afafff"/>
<rect x="735.70" y="156.98" width="6.45" height="14.52" fill="#8f8fff"/>
<rect x="741.75" y="156.98" width="6.45" height="14.52" fill="#8f8fff"/>
<rect x="747.80" y="156.98" width="6.45" height="14.52" fill="#8080ff"/>
<rect x="442.10" y="174.10" width="6.45" height="14.52" fill="#dfdfff"/>
<rect x="448.15" y="174.10" width="6.45" height="14.52" fill="#ff8080"/>
<rect x="454.20" y="174.10" width="6.45" height="14.52" fill="#ff9f9f"/>
<rect x="460.25" y="174.10" width="6.45" height="14.52" fill="#ff9f9f"/>
<rect x="466.30" y="174.10" width="6.45" height="14.52" fill="#ff9f9f"/>
<rect x="472.35" y="174.10" width="6.45" height="14.52" fill="#ff9f9f"/>
<rect x="478.40" y="174.10" width="6.45" height="14.52" fill="#ffbfbf"/>
<rect x="484.45" y="174.10" width="6.45" height="14.52" fill="#ffafaf"/>
<rect x="490.50" y="174.10" width="6.45" height="14.52" fill="#ff2020"/>
<rect x="496.55" y="174.10" width="6.45" height="14.52" fill="#ff9f9f"/>
<rect x="502.60" y="174.10" width="6.45" height="14.52" fill="#ff2020"/>
<rect x="508.65" y="174.10" width="6.45" height="14.52" fill="#ff4040"/>
<rect x="517.90" y="174.10" width="6.45" height="14.52" fill="#bfbfff"/>
<rect x="523.95" y="174.10" width="6.45" height="14.52" fill="#8080ff"/>
<rect x="530.00" y="174.10" width="6.45" height="14.52" fill="#dfdfff"/>
<rect x="536.05" y="174.10" width="6.45" height="14.52" fill="#9f9fff"/>
<rect x="542.10" y="174.10" width="6.45" height="14.52" fill="#9f9fff"/>
<rect x="548.15" y="174.10" width="6.45" height="14.52" fill="#8080ff"/>
<rect x="554.20" y="174.10" width="6.45" height="14.52" fill="#9f9fff"/>
<rect x="560.25" y="174.10" width="6.45" height="14.52" fill="#bfbfff"/>
<rect x="566.30" y="174.10" width="6.45" height="14.52" fill="#9f9fff"/>
<rect x="572.35" y="174.10" width="6.45" height="14.52" fill="#bfbfff"/>
<rect x="578.40" y="174.10" width="6.45" height="14.52" fill="#8f8fff"/>
<rect x="584.45" y="174.10" width="6.45" height="14.52" fill="#bfbfff"/>
<rect x="590.50" y="174.10" width="6.45" height="14.52" fill="#afafff"/>
<rect x="596.55" y="174.10" width="6.45" height="14.52" fill="#bfbfff"/>
<rect x="602.60" y="174.10" width="6.45" height="14.52" fill="#cfcfff"/>
<rect x="608.65" y="174.10" width="6.45" height="14.52" fill="#bfbfff"/>
<rect x="614.70" y="174.10" width="6.45" height="14.52" fill="#8080ff"/>
<rect x="620.75" y="174.10" width="6.45" height="14.52" fill="#8080ff"/>
<rect x="626.80" y="174.10" width="6.45" height="14.52" fill="#8080ff"/>
<rect x="632.85" y="174.10" width="6.45" height="14.52" fill="#afafff"/>
<rect x="638.90" y="174.10" width="6.45" height="14.52" fill="#9f9fff"/>
<rect x="644.95" y="174.10" width="6.45" height="14.52" fill="#ffbfbf"/>
<rect x="651.00" y="174.10" width="6.45" height="14.52" fill="#dfdfff"/>
<rect x="657.05" y="174.10" width="6.45" height="14.52" fill="#dfdfff"/>
<rect x="663.10" y="174.10" width="6.45" height="14.52" fill="#ffffff"/>
<rect x="669.15" y="174.10" width="6.45" height="14.52" fill="#9f9fff"/>
<rect x="675.20" y="174.10" width="6.45" height="14.52" fill="#bfbfff"/>
<rect x="681.25" y="174.10" width="6.45" height="14.52" fill="#8080ff"/>
<rect x="687.30" y="174.10" width="6.45" height="14.52" fill="#bfbfff"/>
<rect x="693.35" y="174.10" width="6.45" height="14.52" fill="#bfbfff"/>
<rect x="699.40" y="174.10" width="6.45" height="14.52" fill="#afafff"/>
<rect x="705.45" y="174.10" width="6.45" height="14.52" fill="#9f9fff"/>
<rect x="711.50" y="174.10" width="6.45" height="14.52" fill="#9f9fff"/>
<rect x="717.55" y="174.10" width="6.45" height="14.52" fill="#9f9fff"/>
<rect x="723.60" y="174.10" width="6.45" height="14.52" fill="#cfcfff"/>
<rect x="729.65" y="174.10" width="6.45" height="14.52" fill="#cfcfff"/>
<rect x="735.70" y="174.10" width="6.45" height="14.52" fill="#dfdfff"/>
<rect x="741.75" y="174.10" width="6.45" height="14.52" fill="#dfdfff"/>
<rect x="747.80" y="174.10" width="6.45" height="14.52" fill="#afafff"/>
<rect x="442.10" y="188.22" width="6.45" height="14.52" fill="#dfdfff"/>
<rect x="448.15" y="188.22" width="6.45" height="14.52" fill="#ffffff"/>
<rect x="454.20" y="188.22" width="6.45" height="14.52" fill="#ff9f9f"/>
<rect x="460.25" y="188.22" width="6.45" height="14.52" fill="#ffbfbf"/>
<rect x="466.30" y="188.22" width="6.45" height="14.52" fill="#ff4040"/>
<rect x="472.35" y="188.22" width="6.45" height="14.52" fill="#ff5050"/>
<rect x="478.40" y="188.22" width="6.45" height="14.52" fill="#ff6060"/>
<rect x="484.45" y="188.22" width="6.45" height="14.52" fill="#ff5050"/>
<rect x="490.50" y="188.22" width="6.45" height="14.52" fill="#ff8f8f"/>
<rect x="496.55" y="188.22" width="6.45" height="14.52" fill="#ffffff"/>
<rect x="502.60" y="188.22" width="6.45" height="14.52" fill="#bfbfff"/>
<rect x="508.65" y="188.22" width="6.45" height="14.52" fill="#ffbfbf"/>
<rect x="517.90" y="188.22" width="6.45" height="14.52" fill="#bfbfff"/>
<rect x="523.95" y="188.22" width="6.45" height="14.52" fill="#cfcfff"/>
<rect x="530.00" y="188.22" width="6.45" height="14.52" fill="#afafff"/>
<rect x="536.05" y="188.22" width="6.45" height="14.52" fill="#bfbfff"/>
<rect x="542.10" y="188.22" width="6.45" height="14.52" fill="#afafff"/>
<rect x="548.15" y="188.22" width="6.45" height="14.52" fill="#cfcfff"/>
<rect x="554.20" y="188.22" width="6.45" height="14.52" fill="#afafff"/>
<rect x="560.25" y="188.22" width="6.45" height="14.52" fill="#afafff"/>
<rect x="566.30" y="188.22" width="6.45" height="14.52" fill="#6060ff"/>
<rect x="572.35" y="188.22" width="6.45" height="14.52" fill="#ffdfdf"/>
<rect x="578.40" y="188.22" width="6.45" height="14.52" fill="#8f8fff"/>
<rect x="584.45" y="188.22" width="6.45" height="14.52" fill="#9f9fff"/>
<rect x="590.50" y="188.22" width="6.45" height="14.52" fill="#9f9fff"/>
<rect x="596.55" y="188.22" width="6.45" height="14.52" fill="#9f9fff"/>
<rect x="602.60" y="188.22" width="6.45" height="14.52" fill="#cfcfff"/>
<rect x="608.65" y="188.22" width="6.45" height="14.52" fill="#dfdfff"/>
<rect x="614.70" y="188.22" width="6.45" height="14.52" fill="#dfdfff"/>
<rect x="620.75" y="188.22" width="6.45" height="14.52" fill="#9f9fff"/>
<rect x="626.80" y="188.22" width="6.45" height="14.52" fill="#9f9fff"/>
<rect x="632.85" y="188.22" width="6.45" height="14.52" fill="#afafff"/>
<rect x="638.90" y="188.22" width="6.45" height="14.52" fill="#8080ff"/>
<rect x="644.95" y="188.22" width="6.45" height="14.52" fill="#9f9fff"/>
<rect x="651.00" y="188.22" width="6.45" height="14.52" fill="#cfcfff"/>
<rect x="657.05" y="188.22" width="6.45" height="14.52" fill="#9f9fff"/>
<rect x="663.10" y="188.22" width="6.45" height="14.52" fill="#9f9fff"/>
<rect x="669.15" y="188.22" width="6.45" height="14.52" fill="#8080ff"/>
<rect x="675.20" y="188.22" width="6.45" height="14.52" fill="#6060ff"/>
<rect x="681.25" y="188.22" width="6.45" height="14.52" fill="#3030ff"/>
<rect x="687.30" y="188.22" width="6.45" height="14.52" fill="#bfbfff"/>
<rect x="693.35" y="188.22" width="6.45" height="14.52" fill="#bfbfff"/>
<rect x="699.40" y="188.22" width="6.45" height="14.52" fill="#dfdfff"/>
<rect x="705.45" y="188.22" width="6.45" height="14.52" fill="#afafff"/>
<rect x="711.50" y="188.22" width="6.45" height="14.52" fill="#bfbfff"/>
<rect x="717.55" y="188.22" width="6.45" height="14.52" fill="#8080ff"/>
<rect x="723.60" y="188.22" width="6.45" height="14.52" fill="#9f9fff"/>
<rect x="729.65" y="188.22" width="6.45" height="14.52" fill="#9f9fff"/>
<rect x="735.70" y="188.22" width="6.45" height="14.52" fill="#afafff"/>
<rect x="741.75" y="188.22" width="6.45" height="14.52" fill="#bfbfff"/>
<rect x="747.80" y="188.22" width="6.45" height="14.52" fill="#cfcfff"/>
<rect x="442.10" y="202.34" width="6.45" height="14.52" fill="#dfdfff"/>
<rect x="448.15" y="202.34" width="6.45" height="14.52" fill="#dfdfff"/>
<rect x="454.20" y="202.34" width="6.45" height="14.52" fill="#ff8080"/>
<rect x="460.25" y="202.34" width="6.45" height="14.52" fill="#ff6060"/>
<rect x="466.30" y="202.34" width="6.45" height="14.52" fill="#ff8080"/>
<rect x="472.35" y="202.34" width="6.45" height="14.52" fill="#ff8080"/>
<rect x="478.40" y="202.34" width="6.45" height="14.52" fill="#ff7070"/>
<rect x="484.45" y="202.34" width="6.45" height="14.52" fill="#ff4040"/>
<rect x="490.50" y="202.34" width="6.45" height="14.52" fill="#ff9f9f"/>
<rect x="496.55" y="202.34" width="6.45" height="14.52" fill="#ff7070"/>
<rect x="502.60" y="202.34" width="6.45" height="14.52" fill="#ff1010"/>
<rect x="508.65" y="202.34" width="6.45" height="14.52" fill="#ffafaf"/>
<rect x="517.90" y="202.34" width="6.45" height="14.52" fill="#dfdfff"/>
<rect x="523.95" y="202.34" width="6.45" height="14.52" fill="#9f9fff"/>
<rect x="530.00" y="202.34" width="6.45" height="14.52" fill="#9f9fff"/>
<rect x="536.05" y="202.34" width="6.45" height="14.52" fill="#dfdfff"/>
<rect x="542.10" y="202.34" width="6.45" height="14.52" fill="#ffdfdf"/>
<rect x="548.15" y="202.34" width="6.45" height="14.52" fill="#dfdfff"/>
<rect x="554.20" y="202.34" width="6.45" height="14.52" fill="#dfdfff"/>
<rect x="560.25" y="202.34" width="6.45" height="14.52" fill="#dfdfff"/>
<rect x="566.30" y="202.34" width="6.45" height="14.52" fill="#ffdfdf"/>
<rect x="572.35" y="202.34" width="6.45" height="14.52" fill="#afafff"/>
<rect x="578.40" y="202.34" width="6.45" height="14.52" fill="#afafff"/>
<rect x="584.45" y="202.34" width="6.45" height="14.52" fill="#9f9fff"/>
<rect x="590.50" y="202.34" width="6.45" height="14.52" fill="#9f9fff"/>
<rect x="596.55" y="202.34" width="6.45" height="14.52" fill="#dfdfff"/>
<rect x="602.60" y="202.34" width="6.45" height="14.52" fill="#9f9fff"/>
<rect x="608.65" y="202.34" width="6.45" height="14.52" fill="#8f8fff"/>
<rect x="614.70" y="202.34" width="6.45" height="14.52" fill="#bfbfff"/>
<rect x="620.75" y="202.34" width="6.45" height="14.52" fill="#9f9fff"/>
<rect x="626.80" y="202.34" width="6.45" height="14.52" fill="#8080ff"/>
<rect x="632.85" y="202.34" width="6.45" height="14.52" fill="#bfbfff"/>
<rect x="638.90" y="202.34" width="6.45" height="14.52" fill="#bfbfff"/>
<rect x="644.95" y="202.34" width="6.45" height="14.52" fill="#8080ff"/>
<rect x="651.00" y="202.34" width="6.45" height="14.52" fill="#8080ff"/>
<rect x="657.05" y="202.34" width="6.45" height="14.52" fill="#8f8fff"/>
<rect x="663.10" y="202.34" width="6.45" height="14.52" fill="#8080ff"/>
<rect x="669.15" y="202.34" width="6.45" height="14.52" fill="#8080ff"/>
<rect x="675.20" y="202.34" width="6.45" height="14.52" fill="#8080ff"/>
<rect x="681.25" y="202.34" width="6.45" height="14.52" fill="#bfbfff"/>
<rect x="687.30" y="202.34" width="6.45" height="14.52" fill="#7070ff"/>
<rect x="693.35" y="202.34" width="6.45" height="14.52" fill="#6060ff"/>
<rect x="699.40" y="202.34" width="6.45" height="14.52" fill="#bfbfff"/>
<rect x="705.45" y="202.34" width="6.45" height="14.52" fill="#dfdfff"/>
<rect x="711.50" y="202.34" width="6.45" height="14.52" fill="#afafff"/>
<rect x="717.55" y="202.34" width="6.45" height="14.52" fill="#9f9fff"/>
<rect x="723.60" y="202.34" width="6.45" height="14.52" fill="#afafff"/>
<rect x="729.65" y="202.34" width="6.45" height="14.52" fill="#afafff"/>
<rect x="735.70" y="202.34" width="6.45" height="14.52" fill="#bfbfff"/>
<rect x="741.75" y="202.34" width="6.45" height="14.52" fill="#afafff"/>
<rect x="747.80" y="202.34" width="6.45" height="14.52" fill="#cfcfff"/>
<rect x="442.10" y="216.46" width="6.45" height="14.52" fill="#bfbfff"/>
<rect x="448.15" y="216.46" width="6.45" height="14.52" fill="#ffffff"/>
<rect x="454.20" y="216.46" width="6.45" height="14.52" fill="#ff2020"/>
<rect x="460.25" y="216.46" width="6.45" height="14.52" fill="#ff2020"/>
<rect x="466.30" y="216.46" width="6.45" height="14.52" fill="#ff3030"/>
<rect x="472.35" y="216.46" width="6.45" height="14.52" fill="#ff0000"/>
<rect x="478.40" y="216.46" width="6.45" height="14.52" fill="#ff0000"/>
<rect x="484.45" y="216.46" width="6.45" height="14.52" fill="#ff2020"/>
<rect x="490.50" y="216.46" width="6.45" height="14.52" fill="#ffbfbf"/>
<rect x="496.55" y="216.46" width="6.45" height="14.52" fill="#ff9f9f"/>
<rect x="502.60" y="216.46" width="6.45" height="14.52" fill="#ff9f9f"/>
<rect x="508.65" y="216.46" width="6.45" height="14.52" fill="#ff0000"/>
<rect x="517.90" y="216.46" width="6.45" height="14.52" fill="#9f9fff"/>
<rect x="523.95" y="216.46" width="6.45" height="14.52" fill="#cfcfff"/>
<rect x="530.00" y="216.46" width="6.45" height="14.52" fill="#ffffff"/>
<rect x="536.05" y="216.46" width="6.45" height="14.52" fill="#9f9fff"/>
<rect x="542.10" y="216.46" width="6.45" height="14.52" fill="#8080ff"/>
<rect x="548.15" y="216.46" width="6.45" height="14.52" fill="#9f9fff"/>
<rect x="554.20" y="216.46" width="6.45" height="14.52" fill="#9f9fff"/>
<rect x="560.25" y="216.46" width="6.45" height="14.52" fill="#8f8fff"/>
<rect x="566.30" y="216.46" width="6.45" height="14.52" fill="#8f8fff"/>
<rect x="572.35" y="216.46" width="6.45" height="14.52" fill="#8f8fff"/>
<rect x="578.40" y="216.46" width="6.45" height="14.52" fill="#8080ff"/>
<rect x="584.45" y="216.46" width="6.45" height="14.52" fill="#8080ff"/>
<rect x="590.50" y="216.46" width="6.45" height="14.52" fill="#8080ff"/>
<rect x="596.55" y="216.46" width="6.45" height="14.52" fill="#7070ff"/>
<rect x="602.60" y="216.46" width="6.45" height="14.52" fill="#7070ff"/>
<rect x="608.65" y="216.46" width="6.45" height="14.52" fill="#7070ff"/>
<rect x="614.70" y="216.46" width="6.45" height="14.52" fill="#bfbfff"/>
<rect x="620.75" y="216.46" width="6.45" height="14.52" fill="#9f9fff"/>
<rect x="626.80" y="216.46" width="6.45" height="14.52" fill="#9f9fff"/>
<rect x="632.85" y="216.46" width="6.45" height="14.52" fill="#8080ff"/>
<rect x="638.90" y="216.46" width="6.45" height="14.52" fill="#9f9fff"/>
<rect x="644.95" y="216.46" width="6.45" height="14.52" fill="#bfbfff"/>
<rect x="651.00" y="216.46" width="6.45" height="14.52" fill="#bfbfff"/>
<rect x="657.05" y="216.46" width="6.45" height="14.52" fill="#dfdfff"/>
<rect x="663.10" y="216.46" width="6.45" height="14.52" fill="#dfdfff"/>
<rect x="669.15" y="216.46" width="6.45" height="14.52" fill="#8080ff"/>
<rect x="675.20" y="216.46" width="6.45" height="14.52" fill="#8080ff"/>
<rect x="681.25" y="216.46" width="6.45" height="14.52" fill="#4040ff"/>
<rect x="687.30" y="216.46" width="6.45" height="14.52" fill="#9f9fff"/>
<rect x="693.35" y="216.46" width="6.45" height="14.52" fill="#bfbfff"/>
<rect x="699.40" y="216.46" width="6.45" height="14.52" fill="#9f9fff"/>
<rect x="705.45" y="216.46" width="6.45" height="14.52" fill="#ffffff"/>
<rect x="711.50" y="216.46" width="6.45" height="14.52" fill="#9f9fff"/>
<rect x="717.55" y="216.46" width="6.45" height="14.52" fill="#ffffff"/>
<rect x="723.60" y="216.46" width="6.45" height="14.52" fill="#8080ff"/>
<rect x="729.65" y="216.46" width="6.45" height="14.52" fill="#7070ff"/>
<rect x="735.70" y="216.46" width="6.45" height="14.52" fill="#dfdfff"/>
<rect x="741.75" y="216.46" width="6.45" height="14.52" fill="#dfdfff"/>
<rect x="747.80" y="216.46" width="6.45" height="14.52" fill="#dfdfff"/>
<rect x="442.10" y="230.58" width="6.45" height="14.52" fill="#ff0000"/>
<rect x="448.15" y="230.58" width="6.45" height="14.52" fill="#ffffff"/>
<rect x="454.20" y="230.58" width="6.45" height="14.52" fill="#ff9f9f"/>
<rect x="460.25" y="230.58" width="6.45" height="14.52" fill="#ffbfbf"/>
<rect x="466.30" y="230.58" width="6.45" height="14.52" fill="#ff9f9f"/>
<rect x="472.35" y="230.58" width="6.45" height="14.52" fill="#ffdfdf"/>
<rect x="478.40" y="230.58" width="6.45" height="14.52" fill="#ff9f9f"/>
<rect x="484.45" y="230.58" width="6.45" height="14.52" fill="#ff9f9f"/>
<rect x="490.50" y="230.58" width="6.45" height="14.52" fill="#ff0000"/>
<rect x="496.55" y="230.58" width="6.45" height="14.52" fill="#ff0000"/>
<rect x="502.60" y="230.58" width="6.45" height="14.52" fill="#ff0000"/>
<rect x="508.65" y="230.58" width="6.45" height="14.52" fill="#ff0000"/>
<rect x="517.90" y="230.58" width="6.45" height="14.52" fill="#9f9fff"/>
<rect x="523.95" y="230.58" width="6.45" height="14.52" fill="#ff8080"/>
<rect x="530.00" y="230.58" width="6.45" height="14.52" fill="#ffffff"/>
<rect x="536.05" y="230.58" width="6.45" height="14.52" fill="#9f9fff"/>
<rect x="542.10" y="230.58" width="6.45" height="14.52" fill="#cfcfff"/>
<rect x="548.15" y="230.58" width="6.45" height="14.52" fill="#cfcfff"/>
<rect x="554.20" y="230.58" width="6.45" height="14.52" fill="#afafff"/>
<rect x="560.25" y="230.58" width="6.45" height="14.52" fill="#9f9fff"/>
<rect x="566.30" y="230.58" width="6.45" height="14.52" fill="#8080ff"/>
<rect x="572.35" y="230.58" width="6.45" height="14.52" fill="#8f8fff"/>
<rect x="578.40" y="230.58" width="6.45" height="14.52" fill="#8f8fff"/>
<rect x="584.45" y="230.58" width="6.45" height="14.52" fill="#8080ff"/>
<rect x="590.50" y="230.58" width="6.45" height="14.52" fill="#8080ff"/>
<rect x="596.55" y="230.58" width="6.45" height="14.52" fill="#7070ff"/>
<rect x="602.60" y="230.58" width="6.45" height="14.52" fill="#7070ff"/>
<rect x="608.65" y="230.58" width="6.45" height="14.52" fill="#7070ff"/>
<rect x="614.70" y="230.58" width="6.45" height="14.52" fill="#6060ff"/>
<rect x="620.75" y="230.58" width="6.45" height="14.52" fill="#8080ff"/>
<rect x="626.80" y="230.58" width="6.45" height="14.52" fill="#8080ff"/>
<rect x="632.85" y="230.58" width="6.45" height="14.52" fill="#9f9fff"/>
<rect x="638.90" y="230.58" width="6.45" height="14.52" fill="#9f9fff"/>
<rect x="644.95" y="230.58" width="6.45" height="14.52" fill="#7070ff"/>
<rect x="651.00" y="230.58" width="6.45" height="14.52" fill="#6060ff"/>
<rect x="657.05" y="230.58" width="6.45" height="14.52" fill="#6060ff"/>
<rect x="663.10" y="230.58" width="6.45" height="14.52" fill="#6060ff"/>
<rect x="669.15" y="230.58" width="6.45" height="14.52" fill="#afafff"/>
<rect x="675.20" y="230.58" width="6.45" height="14.52" fill="#4040ff"/>
<rect x="681.25" y="230.58" width="6.45" height="14.52" fill="#4040ff"/>
<rect x="687.30" y="230.58" width="6.45" height="14.52" fill="#8f8fff"/>
<rect x="693.35" y="230.58" width="6.45" height="14.52" fill="#8080ff"/>
<rect x="699.40" y="230.58" width="6.45" height="14.52" fill="#bfbfff"/>
<rect x="705.45" y="230.58" width="6.45" height="14.52" fill="#bfbfff"/>
<rect x="711.50" y="230.58" width="6.45" height="14.52" fill="#8080ff"/>
<rect x="717.55" y="230.58" width="6.45" height="14.52" fill="#8080ff"/>
<rect x="723.60" y="230.58" width="6.45" height="14.52" fill="#6060ff"/>
<rect x="729.65" y="230.58" width="6.45" height="14.52" fill="#6060ff"/>
<rect x="735.70" y="230.58" width="6.45" height="14.52" fill="#6060ff"/>
<rect x="741.75" y="230.58" width="6.45" height="14.52" fill="#7070ff"/>
<rect x="747.80" y="230.58" width="6.45" height="14.52" fill="#7070ff"/>
<rect x="442.10" y="244.70" width="6.45" height="14.52" fill="#ffdfdf"/>
<rect x="448.15" y="244.70" width="6.45" height="14.52" fill="#ff0000"/>
<rect x="454.20" y="244.70" width="6.45" height="14.52" fill="#ff4040"/>
<rect x="460.25" y="244.70" width="6.45" height="14.52" fill="#ff3030"/>
<rect x="466.30" y="244.70" width="6.45" height="14.52" fill="#ffafaf"/>
<rect x="472.35" y="244.70" width="6.45" height="14.52" fill="#ffbfbf"/>
<rect x="478.40" y="244.70" width="6.45" height="14.52" fill="#ff6060"/>
<rect x="484.45" y="244.70" width="6.45" height="14.52" fill="#ff9f9f"/>
<rect x="490.50" y="244.70" width="6.45" height="14.52" fill="#ff5050"/>
<rect x="496.55" y="244.70" width="6.45" height="14.52" fill="#ffdfdf"/>
<rect x="502.60" y="244.70" width="6.45" height="14.52" fill="#bfbfff"/>
<rect x="508.65" y="244.70" width="6.45" height="14.52" fill="#ffffff"/>
<rect x="517.90" y="244.70" width="6.45" height="14.52" fill="#bfbfff"/>
<rect x="523.95" y="244.70" width="6.45" height="14.52" fill="#4040ff"/>
<rect x="530.00" y="244.70" width="6.45" height="14.52" fill="#afafff"/>
<rect x="536.05" y="244.70" width="6.45" height="14.52" fill="#9f9fff"/>
<rect x="542.10" y="244.70" width="6.45" height="14.52" fill="#8f8fff"/>
<rect x="548.15" y="244.70" width="6.45" height="14.52" fill="#8080ff"/>
<rect x="554.20" y="244.70" width="6.45" height="14.52" fill="#9f9fff"/>
<rect x="560.25" y="244.70" width="6.45" height="14.52" fill="#bfbfff"/>
<rect x="566.30" y="244.70" width="6.45" height="14.52" fill="#8080ff"/>
<rect x="572.35" y="244.70" width="6.45" height="14.52" fill="#8080ff"/>
<rect x="578.40" y="244.70" width="6.45" height="14.52" fill="#8080ff"/>
<rect x="584.45" y="244.70" width="6.45" height="14.52" fill="#8080ff"/>
<rect x="590.50" y="244.70" width="6.45" height="14.52" fill="#8080ff"/>
<rect x="596.55" y="244.70" width="6.45" height="14.52" fill="#7070ff"/>
<rect x="602.60" y="244.70" width="6.45" height="14.52" fill="#9f9fff"/>
<rect x="608.65" y="244.70" width="6.45" height="14.52" fill="#afafff"/>
<rect x="614.70" y="244.70" width="6.45" height="14.52" fill="#dfdfff"/>
<rect x="620.75" y="244.70" width="6.45" height="14.52" fill="#bfbfff"/>
<rect x="626.80" y="244.70" width="6.45" height="14.52" fill="#bfbfff"/>
<rect x="632.85" y="244.70" width="6.45" height="14.52" fill="#bfbfff"/>
<rect x="638.90" y="244.70" width="6.45" height="14.52" fill="#bfbfff"/>
<rect x="644.95" y="244.70" width="6.45" height="14.52" fill="#ffffff"/>
<rect x="651.00" y="244.70" width="6.45" height="14.52" fill="#bfbfff"/>
<rect x="657.05" y="244.70" width="6.45" height="14.52" fill="#afafff"/>
<rect x="663.10" y="244.70" width="6.45" height="14.52" fill="#afafff"/>
<rect x="669.15" y="244.70" width="6.45" height="14.52" fill="#ffffff"/>
<rect x="675.20" y="244.70" width="6.45" height="14.52" fill="#dfdfff"/>
<rect x="681.25" y="244.70" width="6.45" height="14.52" fill="#ffbfbf"/>
<rect x="687.30" y="244.70" width="6.45" height="14.52" fill="#7070ff"/>
<rect x="693.35" y="244.70" width="6.45" height="14.52" fill="#6060ff"/>
<rect x="699.40" y="244.70" width="6.45" height="14.52" fill="#7070ff"/>
<rect x="705.45" y="244.70" width="6.45" height="14.52" fill="#9f9fff"/>
<rect x="711.50" y="244.70" width="6.45" height="14.52" fill="#6060ff"/>
<rect x="717.55" y="244.70" width="6.45" height="14.52" fill="#6060ff"/>
<rect x="723.60" y="244.70" width="6.45" height="14.52" fill="#8f8fff"/>
<rect x="729.65" y="244.70" width="6.45" height="14.52" fill="#8080ff"/>
<rect x="735.70" y="244.70" width="6.45" height="14.52" fill="#8080ff"/>
<rect x="741.75" y="244.70" width="6.45" height="14.52" fill="#7070ff"/>
<rect x="747.80" y="244.70" width="6.45" height="14.52" fill="#7070ff"/>
<rect x="442.10" y="258.82" width="6.45" height="14.52" fill="#cfcfff"/>
<rect x="448.15" y="258.82" width="6.45" height="14.52" fill="#ff0000"/>
<rect x="454.20" y="258.82" width="6.45" height="14.52" fill="#cfcfff"/>
<rect x="460.25" y="258.82" width="6.45" height="14.52" fill="#cfcfff"/>
<rect x="466.30" y="258.82" width="6.45" height="14.52" fill="#9f9fff"/>
<rect x="472.35" y="258.82" width="6.45" height="14.52" fill="#bfbfff"/>
<rect x="478.40" y="258.82" width="6.45" height="14.52" fill="#bfbfff"/>
<rect x="484.45" y="258.82" width="6.45" height="14.52" fill="#9f9fff"/>
<rect x="490.50" y="258.82" width="6.45" height="14.52" fill="#ffffff"/>
<rect x="496.55" y="258.82" width="6.45" height="14.52" fill="#ffbfbf"/>
<rect x="502.60" y="258.82" width="6.45" height="14.52" fill="#ffbfbf"/>
<rect x="508.65" y="258.82" width="6.45" height="14.52" fill="#ffafaf"/>
<rect x="517.90" y="258.82" width="6.45" height="14.52" fill="#bfbfff"/>
<rect x="523.95" y="258.82" width="6.45" height="14.52" fill="#4040ff"/>
<rect x="530.00" y="258.82" width="6.45" height="14.52" fill="#bfbfff"/>
<rect x="536.05" y="258.82" width="6.45" height="14.52" fill="#9f9fff"/>
<rect x="542.10" y="258.82" width="6.45" height="14.52" fill="#cfcfff"/>
<rect x="548.15" y="258.82" width="6.45" height="14.52" fill="#bfbfff"/>
<rect x="554.20" y="258.82" width="6.45" height="14.52" fill="#bfbfff"/>
<rect x="560.25" y="258.82" width="6.45" height="14.52" fill="#bfbfff"/>
<rect x="566.30" y="258.82" width="6.45" height="14.52" fill="#bfbfff"/>
<rect x="572.35" y="258.82" width="6.45" height="14.52" fill="#afafff"/>
<rect x="578.40" y="258.82" width="6.45" height="14.52" fill="#9f9fff"/>
<rect x="584.45" y="258.82" width="6.45" height="14.52" fill="#9f9fff"/>
<rect x="590.50" y="258.82" width="6.45" height="14.52" fill="#9f9fff"/>
<rect x="596.55" y="258.82" width="6.45" height="14.52" fill="#8f8fff"/>
<rect x="602.60" y="258.82" width="6.45" height="14.52" fill="#8f8fff"/>
<rect x="608.65" y="258.82" width="6.45" height="14.52" fill="#8f8fff"/>
<rect x="614.70" y="258.82" width="6.45" height="14.52" fill="#bfbfff"/>
<rect x="620.75" y="258.82" width="6.45" height="14.52" fill="#8f8fff"/>
<rect x="626.80" y="258.82" width="6.45" height="14.52" fill="#9f9fff"/>
<rect x="632.85" y="258.82" width="6.45" height="14.52" fill="#9f9fff"/>
<rect x="638.90" y="258.82" width="6.45" height="14.52" fill="#7070ff"/>
<rect x="644.95" y="258.82" width="6.45" height="14.52" fill="#9f9fff"/>
<rect x="651.00" y="258.82" width="6.45" height="14.52" fill="#cfcfff"/>
<rect x="657.05" y="258.82" width="6.45" height="14.52" fill="#9f9fff"/>
<rect x="663.10" y="258.82" width="6.45" height="14.52" fill="#9f9fff"/>
<rect x="669.15" y="258.82" width="6.45" height="14.52" fill="#ff9f9f"/>
<rect x="675.20" y="258.82" width="6.45" height="14.52" fill="#bfbfff"/>
<rect x="681.25" y="258.82" width="6.45" height="14.52" fill="#afafff"/>
<rect x="687.30" y="258.82" width="6.45" height="14.52" fill="#8f8fff"/>
<rect x="693.35" y="258.82" width="6.45" height="14.52" fill="#8f8fff"/>
<rect x="699.40" y="258.82" width="6.45" height="14.52" fill="#8080ff"/>
<rect x="705.45" y="258.82" width="6.45" height="14.52" fill="#8080ff"/>
<rect x="711.50" y="258.82" width="6.45" height="14.52" fill="#dfdfff"/>
<rect x="717.55" y="258.82" width="6.45" height="14.52" fill="#9f9fff"/>
<rect x="723.60" y="258.82" width="6.45" height="14.52" fill="#9f9fff"/>
<rect x="729.65" y="258.82" width="6.45" height="14.52" fill="#9f9fff"/>
<rect x="735.70" y="258.82" width="6.45" height="14.52" fill="#bfbfff"/>
<rect x="741.75" y="258.82" width="6.45" height="14.52" fill="#afafff"/>
<rect x="747.80" y="258.82" width="6.45" height="14.52" fill="#afafff"/>
<rect x="442.10" y="272.94" width="6.45" height="14.52" fill="#ffbfbf"/>
<rect x="448.15" y="272.94" width="6.45" height="14.52" fill="#ffffff"/>
<rect x="454.20" y="272.94" width="6.45" height="14.52" fill="#ff9f9f"/>
<rect x="460.25" y="272.94" width="6.45" height="14.52" fill="#ff9f9f"/>
<rect x="466.30" y="272.94" width="6.45" height="14.52" fill="#ffcfcf"/>
<rect x="472.35" y="272.94" width="6.45" height="14.52" fill="#ffffff"/>
<rect x="478.40" y="272.94" width="6.45" height="14.52" fill="#ffffff"/>
<rect x="484.45" y="272.94" width="6.45" height="14.52" fill="#ffdfdf"/>
<rect x="490.50" y="272.94" width="6.45" height="14.52" fill="#9f9fff"/>
<rect x="496.55" y="272.94" width="6.45" height="14.52" fill="#afafff"/>
<rect x="502.60" y="272.94" width="6.45" height="14.52" fill="#ffbfbf"/>
<rect x="508.65" y="272.94" width="6.45" height="14.52" fill="#ffbfbf"/>
<rect x="517.90" y="272.94" width="6.45" height="14.52" fill="#afafff"/>
<rect x="523.95" y="272.94" width="6.45" height="14.52" fill="#9f9fff"/>
<rect x="530.00" y="272.94" width="6.45" height="14.52" fill="#8f8fff"/>
<rect x="536.05" y="272.94" width="6.45" height="14.52" fill="#bfbfff"/>
<rect x="542.10" y="272.94" width="6.45" height="14.52" fill="#cfcfff"/>
<rect x="548.15" y="272.94" width="6.45" height="14.52" fill="#cfcfff"/>
<rect x="554.20" y="272.94" width="6.45" height="14.52" fill="#9f9fff"/>
<rect x="560.25" y="272.94" width="6.45" height="14.52" fill="#dfdfff"/>
<rect x="566.30" y="272.94" width="6.45" height="14.52" fill="#8f8fff"/>
<rect x="572.35" y="272.94" width="6.45" height="14.52" fill="#bfbfff"/>
<rect x="578.40" y="272.94" width="6.45" height="14.52" fill="#bfbfff"/>
<rect x="584.45" y="272.94" width="6.45" height="14.52" fill="#cfcfff"/>
<rect x="590.50" y="272.94" width="6.45" height="14.52" fill="#afafff"/>
<rect x="596.55" y="272.94" width="6.45" height="14.52" fill="#7070ff"/>
<rect x="602.60" y="272.94" width="6.45" height="14.52" fill="#8080ff"/>
<rect x="608.65" y="272.94" width="6.45" height="14.52" fill="#8f8fff"/>
<rect x="614.70" y="272.94" width="6.45" height="14.52" fill="#4040ff"/>
<rect x="620.75" y="272.94" width="6.45" height="14.52" fill="#8080ff"/>
<rect x="626.80" y="272.94" width="6.45" height="14.52" fill="#8080ff"/>
<rect x="632.85" y="272.94" width="6.45" height="14.52" fill="#8080ff"/>
<rect x="638.90" y="272.94" width="6.45" height="14.52" fill="#7070ff"/>
<rect x="644.95" y="272.94" width="6.45" height="14.52" fill="#9f9fff"/>
<rect x="651.00" y="272.94" width="6.45" height="14.52" fill="#afafff"/>
<rect x="657.05" y="272.94" width="6.45" height="14.52" fill="#bfbfff"/>
<rect x="663.10" y="272.94" width="6.45" height="14.52" fill="#bfbfff"/>
<rect x="669.15" y="272.94" width="6.45" height="14.52" fill="#7070ff"/>
<rect x="675.20" y="272.94" width="6.45" height="14.52" fill="#8080ff"/>
<rect x="681.25" y="272.94" width="6.45" height="14.52" fill="#6060ff"/>
<rect x="687.30" y="272.94" width="6.45" height="14.52" fill="#8080ff"/>
<rect x="693.35" y="272.94" width="6.45" height="14.52" fill="#8080ff"/>
<rect x="699.40" y="272.94" width="6.45" height="14.52" fill="#8080ff"/>
<rect x="705.45" y="272.94" width="6.45" height="14.52" fill="#6060ff"/>
<rect x="711.50" y="272.94" width="6.45" height="14.52" fill="#9f9fff"/>
<rect x="717.55" y="272.94" width="6.45" height="14.52" fill="#9f9fff"/>
<rect x="723.60" y="272.94" width="6.45" height="14.52" fill="#cfcfff"/>
<rect x="729.65" y="272.94" width="6.45" height="14.52" fill="#cfcfff"/>
<rect x="735.70" y="272.94" width="6.45" height="14.52" fill="#afafff"/>
<rect x="741.75" y="272.94" width="6.45" height="14.52" fill="#9f9fff"/>
<rect x="747.80" y="272.94" width="6.45" height="14.52" fill="#afafff"/>
<rect x="442.10" y="287.06" width="6.45" height="14.52" fill="#bfbfff"/>
<rect x="448.15" y="287.06" width="6.45" height="14.52" fill="#ffffff"/>
<rect x="454.20" y="287.06" width="6.45" height="14.52" fill="#ff4040"/>
<rect x="460.25" y="287.06" width="6.45" height="14.52" fill="#ff6060"/>
<rect x="466.30" y="287.06" width="6.45" height="14.52" fill="#ff6060"/>
<rect x="472.35" y="287.06" width="6.45" height="14.52" fill="#ffbfbf"/>
<rect x="478.40" y="287.06" width="6.45" height="14.52" fill="#ffbfbf"/>
<rect x="484.45" y="287.06" width="6.45" height="14.52" fill="#ffbfbf"/>
<rect x="490.50" y="287.06" width="6.45" height="14.52" fill="#ffffff"/>
<rect x="496.55" y="287.06" width="6.45" height="14.52" fill="#ffbfbf"/>
<rect x="502.60" y="287.06" width="6.45" height="14.52" fill="#ffffff"/>
<rect x="508.65" y="287.06" width="6.45" height="14.52" fill="#dfdfff"/>
<rect x="517.90" y="287.06" width="6.45" height="14.52" fill="#bfbfff"/>
<rect x="523.95" y="287.06" width="6.45" height="14.52" fill="#7070ff"/>
<rect x="530.00" y="287.06" width="6.45" height="14.52" fill="#9f9fff"/>
<rect x="536.05" y="287.06" width="6.45" height="14.52" fill="#8080ff"/>
<rect x="542.10" y="287.06" width="6.45" height="14.52" fill="#9f9fff"/>
<rect x="548.15" y="287.06" width="6.45" height="14.52" fill="#9f9fff"/>
<rect x="554.20" y="287.06" width="6.45" height="14.52" fill="#9f9fff"/>
<rect x="560.25" y="287.06" width="6.45" height="14.52" fill="#9f9fff"/>
<rect x="566.30" y="287.06" width="6.45" height="14.52" fill="#ffffff"/>
<rect x="572.35" y="287.06" width="6.45" height="14.52" fill="#afafff"/>
<rect x="578.40" y="287.06" width="6.45" height="14.52" fill="#8f8fff"/>
<rect x="584.45" y="287.06" width="6.45" height="14.52" fill="#9f9fff"/>
<rect x="590.50" y="287.06" width="6.45" height="14.52" fill="#8f8fff"/>
<rect x="596.55" y="287.06" width="6.45" height="14.52" fill="#8f8fff"/>
<rect x="602.60" y="287.06" width="6.45" height="14.52" fill="#8080ff"/>
<rect x="608.65" y="287.06" width="6.45" height="14.52" fill="#8f8fff"/>
<rect x="614.70" y="287.06" width="6.45" height="14.52" fill="#6060ff"/>
<rect x="620.75" y="287.06" width="6.45" height="14.52" fill="#8f8fff"/>
<rect x="626.80" y="287.06" width="6.45" height="14.52" fill="#9f9fff"/>
<rect x="632.85" y="287.06" width="6.45" height="14.52" fill="#9f9fff"/>
<rect x="638.90" y="287.06" width="6.45" height="14.52" fill="#afafff"/>
<rect x="644.95" y="287.06" width="6.45" height="14.52" fill="#8080ff"/>
<rect x="651.00" y="287.06" width="6.45" height="14.52" fill="#7070ff"/>
<rect x="657.05" y="287.06" width="6.45" height="14.52" fill="#7070ff"/>
<rect x="663.10" y="287.06" width="6.45" height="14.52" fill="#7070ff"/>
<rect x="669.15" y="287.06" width="6.45" height="14.52" fill="#8080ff"/>
<rect x="675.20" y="287.06" width="6.45" height="14.52" fill="#8080ff"/>
<rect x="681.25" y="287.06" width="6.45" height="14.52" fill="#cfcfff"/>
<rect x="687.30" y="287.06" width="6.45" height="14.52" fill="#8080ff"/>
<rect x="693.35" y="287.06" width="6.45" height="14.52" fill="#7070ff"/>
<rect x="699.40" y="287.06" width="6.45" height="14.52" fill="#8080ff"/>
<rect x="705.45" y="287.06" width="6.45" height="14.52" fill="#7070ff"/>
<rect x="711.50" y="287.06" width="6.45" height="14.52" fill="#7070ff"/>
<rect x="717.55" y="287.06" width="6.45" height="14.52" fill="#8080ff"/>
<rect x="723.60" y="287.06" width="6.45" height="14.52" fill="#8f8fff"/>
<rect x="729.65" y="287.06" width="6.45" height="14.52" fill="#8f8fff"/>
<rect x="735.70" y="287.06" width="6.45" height="14.52" fill="#7070ff"/>
<rect x="741.75" y="287.06" width="6.45" height="14.52" fill="#7070ff"/>
<rect x="747.80" y="287.06" width="6.45" height="14.52" fill="#7070ff"/>
<rect x="442.10" y="301.18" width="6.45" height="14.52" fill="#ff0000"/>
<rect x="448.15" y="301.18" width="6.45" height="14.52" fill="#dfdfff"/>
<rect x="454.20" y="301.18" width="6.45" height="14.52" fill="#ff9f9f"/>
<rect x="460.25" y="301.18" width="6.45" height="14.52" fill="#ff9f9f"/>
<rect x="466.30" y="301.18" width="6.45" height="14.52" fill="#ff4040"/>
<rect x="472.35" y="301.18" width="6.45" height="14.52" fill="#ffafaf"/>
<rect x="478.40" y="301.18" width="6.45" height="14.52" fill="#ffbfbf"/>
<rect x="484.45" y="301.18" width="6.45" height="14.52" fill="#ff8f8f"/>
<rect x="490.50" y="301.18" width="6.45" height="14.52" fill="#ff8f8f"/>
<rect x="496.55" y="301.18" width="6.45" height="14.52" fill="#ff9f9f"/>
<rect x="502.60" y="301.18" width="6.45" height="14.52" fill="#ffbfbf"/>
<rect x="508.65" y="301.18" width="6.45" height="14.52" fill="#bfbfff"/>
<rect x="517.90" y="301.18" width="6.45" height="14.52" fill="#bfbfff"/>
<rect x="523.95" y="301.18" width="6.45" height="14.52" fill="#7070ff"/>
<rect x="530.00" y="301.18" width="6.45" height="14.52" fill="#8f8fff"/>
<rect x="536.05" y="301.18" width="6.45" height="14.52" fill="#9f9fff"/>
<rect x="542.10" y="301.18" width="6.45" height="14.52" fill="#8080ff"/>
<rect x="548.15" y="301.18" width="6.45" height="14.52" fill="#8080ff"/>
<rect x="554.20" y="301.18" width="6.45" height="14.52" fill="#afafff"/>
<rect x="560.25" y="301.18" width="6.45" height="14.52" fill="#afafff"/>
<rect x="566.30" y="301.18" width="6.45" height="14.52" fill="#bfbfff"/>
<rect x="572.35" y="301.18" width="6.45" height="14.52" fill="#9f9fff"/>
<rect x="578.40" y="301.18" width="6.45" height="14.52" fill="#bfbfff"/>
<rect x="584.45" y="301.18" width="6.45" height="14.52" fill="#afafff"/>
<rect x="590.50" y="301.18" width="6.45" height="14.52" fill="#9f9fff"/>
<rect x="596.55" y="301.18" width="6.45" height="14.52" fill="#8f8fff"/>
<rect x="602.60" y="301.18" width="6.45" height="14.52" fill="#9f9fff"/>
<rect x="608.65" y="301.18" width="6.45" height="14.52" fill="#afafff"/>
<rect x="614.70" y="301.18" width="6.45" height="14.52" fill="#4040ff"/>
<rect x="620.75" y="301.18" width="6.45" height="14.52" fill="#bfbfff"/>
<rect x="626.80" y="301.18" width="6.45" height="14.52" fill="#afafff"/>
<rect x="632.85" y="301.18" width="6.45" height="14.52" fill="#9f9fff"/>
<rect x="638.90" y="301.18" width="6.45" height="14.52" fill="#cfcfff"/>
<rect x="644.95" y="301.18" width="6.45" height="14.52" fill="#9f9fff"/>
<rect x="651.00" y="301.18" width="6.45" height="14.52" fill="#afafff"/>
<rect x="657.05" y="301.18" width="6.45" height="14.52" fill="#afafff"/>
<rect x="663.10" y="301.18" width="6.45" height="14.52" fill="#9f9fff"/>
<rect x="669.15" y="301.18" width="6.45" height="14.52" fill="#8f8fff"/>
<rect x="675.20" y="301.18" width="6.45" height="14.52" fill="#bfbfff"/>
<rect x="681.25" y="301.18" width="6.45" height="14.52" fill="#ffffff"/>
<rect x="687.30" y="301.18" width="6.45" height="14.52" fill="#8f8fff"/>
<rect x="693.35" y="301.18" width="6.45" height="14.52" fill="#8080ff"/>
<rect x="699.40" y="301.18" width="6.45" height="14.52" fill="#8f8fff"/>
<rect x="705.45" y="301.18" width="6.45" height="14.52" fill="#9f9fff"/>
<rect x="711.50" y="301.18" width="6.45" height="14.52" fill="#dfdfff"/>
<rect x="717.55" y="301.18" width="6.45" height="14.52" fill="#9f9fff"/>
<rect x="723.60" y="301.18" width="6.45" height="14.52" fill="#8080ff"/>
<rect x="729.65" y="301.18" width="6.45" height="14.52" fill="#8080ff"/>
<rect x="735.70" y="301.18" width="6.45" height="14.52" fill="#8f8fff"/>
<rect x="741.75" y="301.18" width="6.45" height="14.52" fill="#8f8fff"/>
<rect x="747.80" y="301.18" width="6.45" height="14.52" fill="#9f9fff"/>
<rect x="442.10" y="315.30" width="6.45" height="14.52" fill="#ff2020"/>
<rect x="448.15" y="315.30" width="6.45" height="14.52" fill="#ff8080"/>
<rect x="454.20" y="315.30" width="6.45" height="14.52" fill="#ff9f9f"/>
<rect x="460.25" y="315.30" width="6.45" height="14.52" fill="#ff6060"/>
<rect x="466.30" y="315.30" width="6.45" height="14.52" fill="#ffbfbf"/>
<rect x="472.35" y="315.30" width="6.45" height="14.52" fill="#ff9f9f"/>
<rect x="478.40" y="315.30" width="6.45" height="14.52" fill="#ff4040"/>
<rect x="484.45" y="315.30" width="6.45" height="14.52" fill="#ff5050"/>
<rect x="490.50" y="315.30" width="6.45" height="14.52" fill="#cfcfff"/>
<rect x="496.55" y="315.30" width="6.45" height="14.52" fill="#ff9f9f"/>
<rect x="502.60" y="315.30" width="6.45" height="14.52" fill="#ff9f9f"/>
<rect x="508.65" y="315.30" width="6.45" height="14.52" fill="#ffcfcf"/>
<rect x="517.90" y="315.30" width="6.45" height="14.52" fill="#bfbfff"/>
<rect x="523.95" y="315.30" width="6.45" height="14.52" fill="#7070ff"/>
<rect x="530.00" y="315.30" width="6.45" height="14.52" fill="#8f8fff"/>
<rect x="536.05" y="315.30" width="6.45" height="14.52" fill="#bfbfff"/>
<rect x="542.10" y="315.30" width="6.45" height="14.52" fill="#8f8fff"/>
<rect x="548.15" y="315.30" width="6.45" height="14.52" fill="#dfdfff"/>
<rect x="554.20" y="315.30" width="6.45" height="14.52" fill="#9f9fff"/>
<rect x="560.25" y="315.30" width="6.45" height="14.52" fill="#afafff"/>
<rect x="566.30" y="315.30" width="6.45" height="14.52" fill="#8f8fff"/>
<rect x="572.35" y="315.30" width="6.45" height="14.52" fill="#8f8fff"/>
<rect x="578.40" y="315.30" width="6.45" height="14.52" fill="#8080ff"/>
<rect x="584.45" y="315.30" width="6.45" height="14.52" fill="#8f8fff"/>
<rect x="590.50" y="315.30" width="6.45" height="14.52" fill="#8f8fff"/>
<rect x="596.55" y="315.30" width="6.45" height="14.52" fill="#afafff"/>
<rect x="602.60" y="315.30" width="6.45" height="14.52" fill="#9f9fff"/>
<rect x="608.65" y="315.30" width="6.45" height="14.52" fill="#8f8fff"/>
<rect x="614.70" y="315.30" width="6.45" height="14.52" fill="#9f9fff"/>
<rect x="620.75" y="315.30" width="6.45" height="14.52" fill="#8f8fff"/>
<rect x="626.80" y="315.30" width="6.45" height="14.52" fill="#8f8fff"/>
<rect x="632.85" y="315.30" width="6.45" height="14.52" fill="#afafff"/>
<rect x="638.90" y="315.30" width="6.45" height="14.52" fill="#8080ff"/>
<rect x="644.95" y="315.30" width="6.45" height="14.52" fill="#7070ff"/>
<rect x="651.00" y="315.30" width="6.45" height="14.52" fill="#8080ff"/>
<rect x="657.05" y="315.30" width="6.45" height="14.52" fill="#8f8fff"/>
<rect x="663.10" y="315.30" width="6.45" height="14.52" fill="#8f8fff"/>
<rect x="669.15" y="315.30" width="6.45" height="14.52" fill="#afafff"/>
<rect x="675.20" y="315.30" width="6.45" height="14.52" fill="#dfdfff"/>
<rect x="681.25" y="315.30" width="6.45" height="14.52" fill="#8f8fff"/>
<rect x="687.30" y="315.30" width="6.45" height="14.52" fill="#cfcfff"/>
<rect x="693.35" y="315.30" width="6.45" height="14.52" fill="#8080ff"/>
<rect x="699.40" y="315.30" width="6.45" height="14.52" fill="#6060ff"/>
<rect x="705.45" y="315.30" width="6.45" height="14.52" fill="#ffdfdf"/>
<rect x="711.50" y="315.30" width="6.45" height="14.52" fill="#afafff"/>
<rect x="717.55" y="315.30" width="6.45" height="14.52" fill="#afafff"/>
<rect x="723.60" y="315.30" width="6.45" height="14.52" fill="#afafff"/>
<rect x="729.65" y="315.30" width="6.45" height="14.52" fill="#afafff"/>
<rect x="735.70" y="315.30" width="6.45" height="14.52" fill="#afafff"/>
<rect x="741.75" y="315.30" width="6.45" height="14.52" fill="#ffffff"/>
<rect x="747.80" y="315.30" width="6.45" height="14.52" fill="#ffffff"/>
<rect x="442.10" y="329.42" width="6.45" height="14.52" fill="#ff1010"/>
<rect x="448.15" y="329.42" width="6.45" height="14.52" fill="#ff2020"/>
<rect x="454.20" y="329.42" width="6.45" height="14.52" fill="#ffffff"/>
<rect x="460.25" y="329.42" width="6.45" height="14.52" fill="#ffdfdf"/>
<rect x="466.30" y="329.42" width="6.45" height="14.52" fill="#ffbfbf"/>
<rect x="472.35" y="329.42" width="6.45" height="14.52" fill="#ff8080"/>
<rect x="478.40" y="329.42" width="6.45" height="14.52" fill="#ff9f9f"/>
<rect x="484.45" y="329.42" width="6.45" height="14.52" fill="#ff9f9f"/>
<rect x="490.50" y="329.42" width="6.45" height="14.52" fill="#ff8080"/>
<rect x="496.55" y="329.42" width="6.45" height="14.52" fill="#ffdfdf"/>
<rect x="502.60" y="329.42" width="6.45" height="14.52" fill="#ffdfdf"/>
<rect x="508.65" y="329.42" width="6.45" height="14.52" fill="#ffffff"/>
<rect x="517.90" y="329.42" width="6.45" height="14.52" fill="#bfbfff"/>
<rect x="523.95" y="329.42" width="6.45" height="14.52" fill="#bfbfff"/>
<rect x="530.00" y="329.42" width="6.45" height="14.52" fill="#8080ff"/>
<rect x="536.05" y="329.42" width="6.45" height="14.52" fill="#9f9fff"/>
<rect x="542.10" y="329.42" width="6.45" height="14.52" fill="#afafff"/>
<rect x="548.15" y="329.42" width="6.45" height="14.52" fill="#afafff"/>
<rect x="554.20" y="329.42" width="6.45" height="14.52" fill="#afafff"/>
<rect x="560.25" y="329.42" width="6.45" height="14.52" fill="#7070ff"/>
<rect x="566.30" y="329.42" width="6.45" height="14.52" fill="#cfcfff"/>
<rect x="572.35" y="329.42" width="6.45" height="14.52" fill="#9f9fff"/>
<rect x="578.40" y="329.42" width="6.45" height="14.52" fill="#afafff"/>
<rect x="584.45" y="329.42" width="6.45" height="14.52" fill="#9f9fff"/>
<rect x="590.50" y="329.42" width="6.45" height="14.52" fill="#afafff"/>
<rect x="596.55" y="329.42" width="6.45" height="14.52" fill="#ffdfdf"/>
<rect x="602.60" y="329.42" width="6.45" height="14.52" fill="#cfcfff"/>
<rect x="608.65" y="329.42" width="6.45" height="14.52" fill="#bfbfff"/>
<rect x="614.70" y="329.42" width="6.45" height="14.52" fill="#9f9fff"/>
<rect x="620.75" y="329.42" width="6.45" height="14.52" fill="#9f9fff"/>
<rect x="626.80" y="329.42" width="6.45" height="14.52" fill="#9f9fff"/>
<rect x="632.85" y="329.42" width="6.45" height="14.52" fill="#9f9fff"/>
<rect x="638.90" y="329.42" width="6.45" height="14.52" fill="#9f9fff"/>
<rect x="644.95" y="329.42" width="6.45" height="14.52" fill="#bfbfff"/>
<rect x="651.00" y="329.42" width="6.45" height="14.52" fill="#8080ff"/>
<rect x="657.05" y="329.42" width="6.45" height="14.52" fill="#8f8fff"/>
<rect x="663.10" y="329.42" width="6.45" height="14.52" fill="#8f8fff"/>
<rect x="669.15" y="329.42" width="6.45" height="14.52" fill="#6060ff"/>
<rect x="675.20" y="329.42" width="6.45" height="14.52" fill="#8080ff"/>
<rect x="681.25" y="329.42" width="6.45" height="14.52" fill="#9f9fff"/>
<rect x="687.30" y="329.42" width="6.45" height="14.52" fill="#ffdfdf"/>
<rect x="693.35" y="329.42" width="6.45" height="14.52" fill="#ffbfbf"/>
<rect x="699.40" y="329.42" width="6.45" height="14.52" fill="#8f8fff"/>
<rect x="705.45" y="329.42" width="6.45" height="14.52" fill="#6060ff"/>
<rect x="711.50" y="329.42" width="6.45" height="14.52" fill="#8080ff"/>
<rect x="717.55" y="329.42" width="6.45" height="14.52" fill="#dfdfff"/>
<rect x="723.60" y="329.42" width="6.45" height="14.52" fill="#cfcfff"/>
<rect x="729.65" y="329.42" width="6.45" height="14.52" fill="#afafff"/>
<rect x="735.70" y="329.42" width="6.45" height="14.52" fill="#afafff"/>
<rect x="741.75" y="329.42" width="6.45" height="14.52" fill="#9f9fff"/>
<rect x="747.80" y="329.42" width="6.45" height="14.52" fill="#9f9fff"/>
</g>
<rect x="514.70" y="29.9" width="3.2" height="314.64" fill="#fff"/>
<rect x="442.1" y="171.10" width="312.75" height="3.0" fill="#fff"/>
<rect x="753.85" y="28.9" width="2" height="316.64" fill="#fff"/>
<rect x="441.1" y="343.54" width="314.75" height="1.5" fill="#fff"/>
<text x="756" y="40.06" font-size="7.35">Chr06</text>
<text x="756" y="54.18" font-size="7.35">Chr08</text>
<text x="756" y="68.30" font-size="7.35">Chr01</text>
<text x="756" y="82.42" font-size="7.35">Chr03</text>
<text x="756" y="96.54" font-size="7.35">Chr16</text>
<text x="756" y="110.66" font-size="7.35">Chr09</text>
<text x="756" y="124.78" font-size="7.35">Chr02</text>
<text x="756" y="138.90" font-size="7.35">Chr07</text>
<text x="756" y="153.02" font-size="7.35">Chr10</text>
<text x="756" y="167.14" font-size="7.35">Chr05</text>
<text x="756" y="184.26" font-size="7.35">Chr18</text>
<text x="756" y="198.38" font-size="7.35">Chr14</text>
<text x="756" y="212.50" font-size="7.35">Chr15</text>
<text x="756" y="226.62" font-size="7.35">Chr13</text>
<text x="756" y="240.74" font-size="7.35">Chr17</text>
<text x="756" y="254.86" font-size="7.35">Chr21</text>
<text x="756" y="268.98" font-size="7.35">Chr12</text>
<text x="756" y="283.10" font-size="7.35">Chr22</text>
<text x="756" y="297.22" font-size="7.35">Chr04</text>
<text x="756" y="311.34" font-size="7.35">Chr19</text>
<text x="756" y="325.46" font-size="7.35">Chr11</text>
<text x="756" y="339.58" font-size="7.35">Chr20</text>
<line x1="780.5" y1="32.5" x2="780.5" y2="165.6" stroke="#222" stroke-width="0.9"/>
<line x1="780.5" y1="178.9" x2="780.5" y2="339.5" stroke="#222" stroke-width="0.9"/>
<text transform="translate(792,105.2) rotate(-90)" text-anchor="middle" font-size="7.95">subgenome A</text>
<text transform="translate(792,243.7) rotate(-90)" text-anchor="middle" font-size="7.95">subgenome B</text>
<rect x="442.1" y="18.9" width="113.9" height="7.5" fill="url(#lg)"/>
<text transform="translate(444.75,15.8) rotate(-90)" text-anchor="start" font-size="7.4">2</text>
<text transform="translate(473.18,15.8) rotate(-90)" text-anchor="start" font-size="7.4">1</text>
<text transform="translate(501.60,15.8) rotate(-90)" text-anchor="start" font-size="7.4">0</text>
<text transform="translate(530.02,15.8) rotate(-90)" text-anchor="start" font-size="7.4">-1</text>
<text transform="translate(558.45,15.8) rotate(-90)" text-anchor="start" font-size="7.4">-2</text>
<path d="M457.23 343.54L457.23 350.20M463.27 343.54L463.27 350.20M457.23 350.20L463.27 350.20M481.43 343.54L481.43 349.30M487.48 343.54L487.48 349.30M481.43 349.30L487.48 349.30M475.38 343.54L475.38 351.30M484.45 349.30L484.45 351.30M475.38 351.30L484.45 351.30M469.32 343.54L469.32 353.30M479.91 351.30L479.91 353.30M469.32 353.30L479.91 353.30M460.25 350.20L460.25 356.20M474.62 353.30L474.62 356.20M460.25 356.20L474.62 356.20M493.52 343.54L493.52 354.10M499.57 343.54L499.57 354.10M493.52 354.10L499.57 354.10M505.62 343.54L505.62 356.20M511.68 343.54L511.68 356.20M505.62 356.20L511.68 356.20M496.55 354.10L496.55 358.30M508.65 356.20L508.65 358.30M496.55 358.30L508.65 358.30M467.43 356.20L467.43 364.50M502.60 358.30L502.60 364.50M467.43 364.50L502.60 364.50M451.18 343.54L451.18 366.40M485.02 364.50L485.02 366.40M451.18 366.40L485.02 366.40M445.12 343.54L445.12 367.50M468.10 366.40L468.10 367.50M445.12 367.50L468.10 367.50M551.18 343.54L551.18 348.10M557.23 343.54L557.23 348.10M551.18 348.10L557.23 348.10M545.13 343.54L545.13 349.80M554.20 348.10L554.20 349.80M545.13 349.80L554.20 349.80M539.08 343.54L539.08 350.60M549.66 349.80L549.66 350.60M539.08 350.60L549.66 350.60M533.03 343.54L533.03 352.20M544.37 350.60L544.37 352.20M533.03 352.20L544.37 352.20M526.98 343.54L526.98 357.40M538.70 352.20L538.70 357.40M526.98 357.40L538.70 357.40M520.93 343.54L520.93 363.10M532.84 357.40L532.84 363.10M520.93 363.10L532.84 363.10M563.28 343.54L563.28 352.20M569.33 343.54L569.33 352.20M563.28 352.20L569.33 352.20M587.48 343.54L587.48 346.70M593.53 343.54L593.53 346.70M587.48 346.70L593.53 346.70M581.43 343.54L581.43 347.90M590.50 346.70L590.50 347.90M581.43 347.90L590.50 347.90M575.38 343.54L575.38 349.00M585.96 347.90L585.96 349.00M575.38 349.00L585.96 349.00M605.63 343.54L605.63 349.00M611.68 343.54L611.68 349.00M605.63 349.00L611.68 349.00M599.58 343.54L599.58 357.40M608.65 349.00L608.65 357.40M599.58 357.40L608.65 357.40M580.67 349.00L580.67 358.50M604.11 357.40L604.11 358.50M580.67 358.50L604.11 358.50M566.30 352.20L566.30 362.20M592.39 358.50L592.39 362.20M566.30 362.20L592.39 362.20M623.78 343.54L623.78 348.10M629.83 343.54L629.83 348.10M623.78 348.10L629.83 348.10M635.88 343.54L635.88 351.60M641.93 343.54L641.93 351.60M635.88 351.60L641.93 351.60M626.80 348.10L626.80 352.50M638.90 351.60L638.90 352.50M626.80 352.50L638.90 352.50M660.08 343.54L660.08 345.60M666.13 343.54L666.13 345.60M660.08 345.60L666.13 345.60M654.03 343.54L654.03 348.70M663.10 345.60L663.10 348.70M654.03 348.70L663.10 348.70M647.98 343.54L647.98 355.00M658.56 348.70L658.56 355.00M647.98 355.00L658.56 355.00M632.85 352.50L632.85 358.30M653.27 355.00L653.27 358.30M632.85 358.30L653.27 358.30M617.73 343.54L617.73 359.10M643.06 358.30L643.06 359.10M617.73 359.10L643.06 359.10M678.23 343.54L678.23 356.20M684.28 343.54L684.28 356.20M678.23 356.20L684.28 356.20M672.18 343.54L672.18 358.50M681.25 356.20L681.25 358.50M672.18 358.50L681.25 358.50M690.33 343.54L690.33 348.70M696.38 343.54L696.38 348.70M690.33 348.70L696.38 348.70M702.43 343.54L702.43 353.90M708.48 343.54L708.48 353.90M702.43 353.90L708.48 353.90M693.35 348.70L693.35 356.80M705.45 353.90L705.45 356.80M693.35 356.80L705.45 356.80M714.53 343.54L714.53 353.90M720.58 343.54L720.58 353.90M714.53 353.90L720.58 353.90M726.63 343.54L726.63 346.40M732.68 343.54L732.68 346.40M726.63 346.40L732.68 346.40M744.78 343.54L744.78 347.90M750.83 343.54L750.83 347.90M744.78 347.90L750.83 347.90M738.73 343.54L738.73 351.60M747.80 347.90L747.80 351.60M738.73 351.60L747.80 351.60M729.65 346.40L729.65 355.60M743.26 351.60L743.26 355.60M729.65 355.60L743.26 355.60M717.55 353.90L717.55 357.90M736.46 355.60L736.46 357.90M717.55 357.90L736.46 357.90M699.40 356.80L699.40 361.60M727.00 357.90L727.00 361.60M699.40 361.60L727.00 361.60M676.71 358.50L676.71 363.10M713.20 361.60L713.20 363.10M676.71 363.10L713.20 363.10M630.39 359.10L630.39 365.20M694.96 363.10L694.96 365.20M630.39 365.20L694.96 365.20M579.35 362.20L579.35 367.80M662.67 365.20L662.67 367.80M579.35 367.80L662.67 367.80M526.88 363.10L526.88 369.30M621.01 367.80L621.01 369.30M526.88 369.30L621.01 369.30M456.61 367.50L456.61 383.60M573.95 369.30L573.95 383.60M456.61 383.60L573.95 383.60M442.10 36.96L426.60 36.96M442.10 51.08L426.60 51.08M426.60 36.96L426.60 51.08M426.60 44.02L422.70 44.02M442.10 65.20L422.70 65.20M422.70 44.02L422.70 65.20M422.70 54.61L420.60 54.61M442.10 79.32L420.60 79.32M420.60 54.61L420.60 79.32M442.10 93.44L428.50 93.44M442.10 107.56L428.50 107.56M428.50 93.44L428.50 107.56M428.50 100.50L424.60 100.50M442.10 121.68L424.60 121.68M424.60 100.50L424.60 121.68M442.10 135.80L431.70 135.80M442.10 149.92L431.70 149.92M431.70 135.80L431.70 149.92M431.70 142.86L429.30 142.86M442.10 164.04L429.30 164.04M429.30 142.86L429.30 164.04M424.60 111.09L421.30 111.09M429.30 153.45L421.30 153.45M421.30 111.09L421.30 153.45M420.60 66.97L411.60 66.97M421.30 132.27L411.60 132.27M411.60 66.97L411.60 132.27M442.10 181.16L434.75 181.16M442.10 195.28L434.75 195.28M434.75 181.16L434.75 195.28M434.75 188.22L433.30 188.22M442.10 209.40L433.30 209.40M433.30 188.22L433.30 209.40M433.30 198.81L432.25 198.81M442.10 223.52L432.25 223.52M432.25 198.81L432.25 223.52M432.25 211.16L428.50 211.16M442.10 237.64L428.50 237.64M428.50 211.16L428.50 237.64M442.10 251.76L432.50 251.76M442.10 265.88L432.50 265.88M432.50 251.76L432.50 265.88M442.10 280.00L435.60 280.00M442.10 294.12L435.60 294.12M435.60 280.00L435.60 294.12M435.60 287.06L433.60 287.06M442.10 308.24L433.60 308.24M433.60 287.06L433.60 308.24M442.10 322.36L434.40 322.36M442.10 336.48L434.40 336.48M434.40 322.36L434.40 336.48M433.60 297.65L432.50 297.65M434.40 329.42L432.50 329.42M432.50 297.65L432.50 329.42M432.50 258.82L430.60 258.82M432.50 313.53L430.60 313.53M430.60 258.82L430.60 313.53M428.50 224.40L426.40 224.40M430.60 286.18L426.40 286.18M426.40 224.40L426.40 286.18M411.60 99.62L402.40 99.62M426.40 255.29L402.40 255.29M402.40 99.62L402.40 255.29" fill="none" stroke="#333" stroke-width="0.75" stroke-linecap="square"/>
</g></svg></body></html>
